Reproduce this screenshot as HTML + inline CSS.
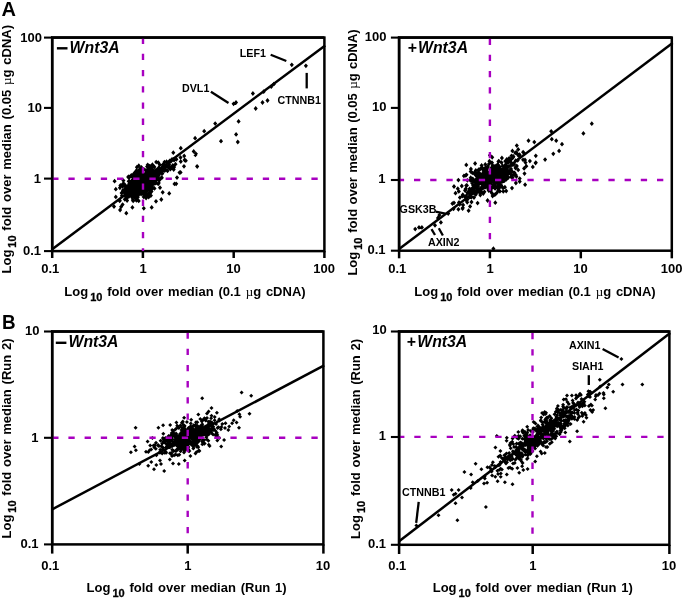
<!DOCTYPE html>
<html><head><meta charset="utf-8"><style>
html,body{margin:0;padding:0;background:#fff;}
svg{display:block;font-family:"Liberation Sans",sans-serif;font-weight:bold;fill:#000;}
.tk{font-size:13px;}
.ax{font-size:13px;word-spacing:1.2px;}
.sub{font-size:11px;stroke:#000;stroke-width:0.3px;}
.mu{font-family:"Liberation Serif",serif;font-weight:normal;font-size:13px;}
.ttl{font-size:15.8px;font-style:italic;}
.pl{font-size:20px;}
.gn{font-size:10.7px;}
</style></head><body>
<svg width="685" height="599" viewBox="0 0 685 599">
<rect width="685" height="599" fill="#fff"/>
<rect x="52.2" y="37.6" width="272.2" height="213.5" fill="none" stroke="#000" stroke-width="2.5"/>
<line x1="52.2" y1="251.1" x2="52.2" y2="258.0" stroke="#000" stroke-width="2.5"/>
<line x1="142.9" y1="251.1" x2="142.9" y2="258.0" stroke="#000" stroke-width="2.5"/>
<line x1="233.7" y1="251.1" x2="233.7" y2="258.0" stroke="#000" stroke-width="2.5"/>
<line x1="324.4" y1="251.1" x2="324.4" y2="258.0" stroke="#000" stroke-width="2.5"/>
<line x1="44.0" y1="37.6" x2="52.2" y2="37.6" stroke="#000" stroke-width="2.1"/>
<line x1="44.0" y1="107.9" x2="52.2" y2="107.9" stroke="#000" stroke-width="2.1"/>
<line x1="44.0" y1="178.6" x2="52.2" y2="178.6" stroke="#000" stroke-width="2.1"/>
<line x1="44.0" y1="251.1" x2="52.2" y2="251.1" stroke="#000" stroke-width="2.1"/>
<line x1="52.2" y1="249.2" x2="325.2" y2="45.4" stroke="#000" stroke-width="2.5"/>
<rect x="399.1" y="37.6" width="272.7" height="213.1" fill="none" stroke="#000" stroke-width="2.5"/>
<line x1="399.1" y1="250.7" x2="399.1" y2="258.3" stroke="#000" stroke-width="2.5"/>
<line x1="489.9" y1="250.7" x2="489.9" y2="258.3" stroke="#000" stroke-width="2.5"/>
<line x1="580.8" y1="250.7" x2="580.8" y2="258.3" stroke="#000" stroke-width="2.5"/>
<line x1="671.8" y1="250.7" x2="671.8" y2="258.3" stroke="#000" stroke-width="2.5"/>
<line x1="390.90000000000003" y1="37.6" x2="399.1" y2="37.6" stroke="#000" stroke-width="2.1"/>
<line x1="390.90000000000003" y1="107.9" x2="399.1" y2="107.9" stroke="#000" stroke-width="2.1"/>
<line x1="390.90000000000003" y1="180.0" x2="399.1" y2="180.0" stroke="#000" stroke-width="2.1"/>
<line x1="390.90000000000003" y1="250.7" x2="399.1" y2="250.7" stroke="#000" stroke-width="2.1"/>
<line x1="399.1" y1="249.0" x2="672.5999999999999" y2="43.0" stroke="#000" stroke-width="2.5"/>
<rect x="52.2" y="331.5" width="271.2" height="212.9" fill="none" stroke="#000" stroke-width="2.5"/>
<line x1="52.2" y1="544.4" x2="52.2" y2="553.6" stroke="#000" stroke-width="2.5"/>
<line x1="187.7" y1="544.4" x2="187.7" y2="553.6" stroke="#000" stroke-width="2.5"/>
<line x1="323.4" y1="544.4" x2="323.4" y2="553.6" stroke="#000" stroke-width="2.5"/>
<line x1="44.0" y1="331.5" x2="52.2" y2="331.5" stroke="#000" stroke-width="2.1"/>
<line x1="44.0" y1="437.8" x2="52.2" y2="437.8" stroke="#000" stroke-width="2.1"/>
<line x1="44.0" y1="544.4" x2="52.2" y2="544.4" stroke="#000" stroke-width="2.1"/>
<line x1="52.2" y1="509.3" x2="324.2" y2="365.3" stroke="#000" stroke-width="2.5"/>
<rect x="399.1" y="331.5" width="270.3" height="213.3" fill="none" stroke="#000" stroke-width="2.5"/>
<line x1="399.1" y1="544.8" x2="399.1" y2="554.0" stroke="#000" stroke-width="2.5"/>
<line x1="532.7" y1="544.8" x2="532.7" y2="554.0" stroke="#000" stroke-width="2.5"/>
<line x1="669.4" y1="544.8" x2="669.4" y2="554.0" stroke="#000" stroke-width="2.5"/>
<line x1="390.90000000000003" y1="331.5" x2="399.1" y2="331.5" stroke="#000" stroke-width="2.1"/>
<line x1="390.90000000000003" y1="437.0" x2="399.1" y2="437.0" stroke="#000" stroke-width="2.1"/>
<line x1="390.90000000000003" y1="544.8" x2="399.1" y2="544.8" stroke="#000" stroke-width="2.1"/>
<line x1="399.1" y1="541.3" x2="670.1999999999999" y2="332.9" stroke="#000" stroke-width="2.5"/>
<path d="M160.0,176.2l2.05,2.40l-2.05,2.40l-2.05,-2.40zM129.6,174.7l2.05,2.40l-2.05,2.40l-2.05,-2.40zM143.3,182.4l2.05,2.40l-2.05,2.40l-2.05,-2.40zM142.7,176.2l2.05,2.40l-2.05,2.40l-2.05,-2.40zM131.5,181.7l2.05,2.40l-2.05,2.40l-2.05,-2.40zM143.1,182.7l2.05,2.40l-2.05,2.40l-2.05,-2.40zM135.5,174.3l2.05,2.40l-2.05,2.40l-2.05,-2.40zM129.2,193.5l2.05,2.40l-2.05,2.40l-2.05,-2.40zM154.1,179.7l2.05,2.40l-2.05,2.40l-2.05,-2.40zM146.2,177.2l2.05,2.40l-2.05,2.40l-2.05,-2.40zM132.7,180.5l2.05,2.40l-2.05,2.40l-2.05,-2.40zM132.2,173.2l2.05,2.40l-2.05,2.40l-2.05,-2.40zM139.4,171.0l2.05,2.40l-2.05,2.40l-2.05,-2.40zM131.3,173.5l2.05,2.40l-2.05,2.40l-2.05,-2.40zM145.9,189.5l2.05,2.40l-2.05,2.40l-2.05,-2.40zM129.1,189.0l2.05,2.40l-2.05,2.40l-2.05,-2.40zM140.7,171.8l2.05,2.40l-2.05,2.40l-2.05,-2.40zM136.4,173.5l2.05,2.40l-2.05,2.40l-2.05,-2.40zM138.5,173.6l2.05,2.40l-2.05,2.40l-2.05,-2.40zM128.2,189.0l2.05,2.40l-2.05,2.40l-2.05,-2.40zM147.9,163.3l2.05,2.40l-2.05,2.40l-2.05,-2.40zM149.2,187.2l2.05,2.40l-2.05,2.40l-2.05,-2.40zM135.0,179.5l2.05,2.40l-2.05,2.40l-2.05,-2.40zM152.8,163.2l2.05,2.40l-2.05,2.40l-2.05,-2.40zM142.0,182.1l2.05,2.40l-2.05,2.40l-2.05,-2.40zM136.3,196.9l2.05,2.40l-2.05,2.40l-2.05,-2.40zM143.6,189.3l2.05,2.40l-2.05,2.40l-2.05,-2.40zM121.9,193.4l2.05,2.40l-2.05,2.40l-2.05,-2.40zM149.9,174.6l2.05,2.40l-2.05,2.40l-2.05,-2.40zM138.5,183.9l2.05,2.40l-2.05,2.40l-2.05,-2.40zM137.7,187.8l2.05,2.40l-2.05,2.40l-2.05,-2.40zM150.0,174.4l2.05,2.40l-2.05,2.40l-2.05,-2.40zM124.8,187.0l2.05,2.40l-2.05,2.40l-2.05,-2.40zM139.7,170.9l2.05,2.40l-2.05,2.40l-2.05,-2.40zM126.4,195.0l2.05,2.40l-2.05,2.40l-2.05,-2.40zM131.1,179.3l2.05,2.40l-2.05,2.40l-2.05,-2.40zM137.8,194.8l2.05,2.40l-2.05,2.40l-2.05,-2.40zM152.0,170.8l2.05,2.40l-2.05,2.40l-2.05,-2.40zM149.8,163.8l2.05,2.40l-2.05,2.40l-2.05,-2.40zM137.2,181.1l2.05,2.40l-2.05,2.40l-2.05,-2.40zM145.1,172.4l2.05,2.40l-2.05,2.40l-2.05,-2.40zM139.1,181.0l2.05,2.40l-2.05,2.40l-2.05,-2.40zM149.2,181.0l2.05,2.40l-2.05,2.40l-2.05,-2.40zM129.3,178.7l2.05,2.40l-2.05,2.40l-2.05,-2.40zM120.4,183.1l2.05,2.40l-2.05,2.40l-2.05,-2.40zM129.0,194.0l2.05,2.40l-2.05,2.40l-2.05,-2.40zM143.1,177.0l2.05,2.40l-2.05,2.40l-2.05,-2.40zM158.4,166.1l2.05,2.40l-2.05,2.40l-2.05,-2.40zM144.9,180.7l2.05,2.40l-2.05,2.40l-2.05,-2.40zM136.3,183.1l2.05,2.40l-2.05,2.40l-2.05,-2.40zM158.6,171.4l2.05,2.40l-2.05,2.40l-2.05,-2.40zM139.0,174.6l2.05,2.40l-2.05,2.40l-2.05,-2.40zM142.0,180.0l2.05,2.40l-2.05,2.40l-2.05,-2.40zM139.4,174.8l2.05,2.40l-2.05,2.40l-2.05,-2.40zM135.3,176.0l2.05,2.40l-2.05,2.40l-2.05,-2.40zM141.3,185.4l2.05,2.40l-2.05,2.40l-2.05,-2.40zM132.7,192.7l2.05,2.40l-2.05,2.40l-2.05,-2.40zM136.5,168.0l2.05,2.40l-2.05,2.40l-2.05,-2.40zM135.6,175.8l2.05,2.40l-2.05,2.40l-2.05,-2.40zM151.1,173.8l2.05,2.40l-2.05,2.40l-2.05,-2.40zM142.8,187.9l2.05,2.40l-2.05,2.40l-2.05,-2.40zM124.0,190.0l2.05,2.40l-2.05,2.40l-2.05,-2.40zM139.5,180.2l2.05,2.40l-2.05,2.40l-2.05,-2.40zM147.7,162.4l2.05,2.40l-2.05,2.40l-2.05,-2.40zM148.7,194.7l2.05,2.40l-2.05,2.40l-2.05,-2.40zM136.4,188.6l2.05,2.40l-2.05,2.40l-2.05,-2.40zM135.9,192.6l2.05,2.40l-2.05,2.40l-2.05,-2.40zM136.0,190.5l2.05,2.40l-2.05,2.40l-2.05,-2.40zM142.7,186.8l2.05,2.40l-2.05,2.40l-2.05,-2.40zM134.8,191.1l2.05,2.40l-2.05,2.40l-2.05,-2.40zM150.7,168.8l2.05,2.40l-2.05,2.40l-2.05,-2.40zM142.0,185.8l2.05,2.40l-2.05,2.40l-2.05,-2.40zM142.1,180.0l2.05,2.40l-2.05,2.40l-2.05,-2.40zM157.2,176.8l2.05,2.40l-2.05,2.40l-2.05,-2.40zM149.1,166.9l2.05,2.40l-2.05,2.40l-2.05,-2.40zM137.1,179.3l2.05,2.40l-2.05,2.40l-2.05,-2.40zM146.3,181.3l2.05,2.40l-2.05,2.40l-2.05,-2.40zM151.9,181.5l2.05,2.40l-2.05,2.40l-2.05,-2.40zM140.2,182.4l2.05,2.40l-2.05,2.40l-2.05,-2.40zM124.8,189.0l2.05,2.40l-2.05,2.40l-2.05,-2.40zM145.4,175.5l2.05,2.40l-2.05,2.40l-2.05,-2.40zM145.5,172.1l2.05,2.40l-2.05,2.40l-2.05,-2.40zM152.1,186.5l2.05,2.40l-2.05,2.40l-2.05,-2.40zM137.9,190.8l2.05,2.40l-2.05,2.40l-2.05,-2.40zM144.9,187.6l2.05,2.40l-2.05,2.40l-2.05,-2.40zM137.9,185.8l2.05,2.40l-2.05,2.40l-2.05,-2.40zM136.4,179.8l2.05,2.40l-2.05,2.40l-2.05,-2.40zM155.6,177.2l2.05,2.40l-2.05,2.40l-2.05,-2.40zM159.3,177.9l2.05,2.40l-2.05,2.40l-2.05,-2.40zM148.4,178.6l2.05,2.40l-2.05,2.40l-2.05,-2.40zM145.0,176.6l2.05,2.40l-2.05,2.40l-2.05,-2.40zM150.6,180.9l2.05,2.40l-2.05,2.40l-2.05,-2.40zM139.3,178.7l2.05,2.40l-2.05,2.40l-2.05,-2.40zM143.7,184.5l2.05,2.40l-2.05,2.40l-2.05,-2.40zM133.0,181.6l2.05,2.40l-2.05,2.40l-2.05,-2.40zM136.5,176.2l2.05,2.40l-2.05,2.40l-2.05,-2.40zM160.2,167.9l2.05,2.40l-2.05,2.40l-2.05,-2.40zM148.9,176.2l2.05,2.40l-2.05,2.40l-2.05,-2.40zM146.5,191.6l2.05,2.40l-2.05,2.40l-2.05,-2.40zM136.3,182.2l2.05,2.40l-2.05,2.40l-2.05,-2.40zM134.7,186.3l2.05,2.40l-2.05,2.40l-2.05,-2.40zM139.0,172.6l2.05,2.40l-2.05,2.40l-2.05,-2.40zM136.0,169.0l2.05,2.40l-2.05,2.40l-2.05,-2.40zM122.8,181.7l2.05,2.40l-2.05,2.40l-2.05,-2.40zM146.6,179.3l2.05,2.40l-2.05,2.40l-2.05,-2.40zM131.8,178.7l2.05,2.40l-2.05,2.40l-2.05,-2.40zM156.4,176.1l2.05,2.40l-2.05,2.40l-2.05,-2.40zM148.2,186.0l2.05,2.40l-2.05,2.40l-2.05,-2.40zM152.6,167.6l2.05,2.40l-2.05,2.40l-2.05,-2.40zM144.6,191.2l2.05,2.40l-2.05,2.40l-2.05,-2.40zM139.8,183.4l2.05,2.40l-2.05,2.40l-2.05,-2.40zM148.0,183.7l2.05,2.40l-2.05,2.40l-2.05,-2.40zM147.9,172.3l2.05,2.40l-2.05,2.40l-2.05,-2.40zM149.2,181.1l2.05,2.40l-2.05,2.40l-2.05,-2.40zM127.9,184.2l2.05,2.40l-2.05,2.40l-2.05,-2.40zM145.0,182.1l2.05,2.40l-2.05,2.40l-2.05,-2.40zM139.2,178.1l2.05,2.40l-2.05,2.40l-2.05,-2.40zM137.3,182.7l2.05,2.40l-2.05,2.40l-2.05,-2.40zM138.8,187.7l2.05,2.40l-2.05,2.40l-2.05,-2.40zM154.7,169.5l2.05,2.40l-2.05,2.40l-2.05,-2.40zM137.8,182.7l2.05,2.40l-2.05,2.40l-2.05,-2.40zM137.8,189.5l2.05,2.40l-2.05,2.40l-2.05,-2.40zM149.1,179.9l2.05,2.40l-2.05,2.40l-2.05,-2.40zM136.1,173.0l2.05,2.40l-2.05,2.40l-2.05,-2.40zM142.8,183.5l2.05,2.40l-2.05,2.40l-2.05,-2.40zM149.6,178.3l2.05,2.40l-2.05,2.40l-2.05,-2.40zM141.5,173.6l2.05,2.40l-2.05,2.40l-2.05,-2.40zM145.3,179.8l2.05,2.40l-2.05,2.40l-2.05,-2.40zM142.6,167.7l2.05,2.40l-2.05,2.40l-2.05,-2.40zM149.2,185.2l2.05,2.40l-2.05,2.40l-2.05,-2.40zM135.4,183.4l2.05,2.40l-2.05,2.40l-2.05,-2.40zM138.0,182.5l2.05,2.40l-2.05,2.40l-2.05,-2.40zM142.2,189.5l2.05,2.40l-2.05,2.40l-2.05,-2.40zM142.0,178.3l2.05,2.40l-2.05,2.40l-2.05,-2.40zM135.5,190.4l2.05,2.40l-2.05,2.40l-2.05,-2.40zM123.0,187.8l2.05,2.40l-2.05,2.40l-2.05,-2.40zM139.3,177.1l2.05,2.40l-2.05,2.40l-2.05,-2.40zM125.2,182.8l2.05,2.40l-2.05,2.40l-2.05,-2.40zM125.6,192.5l2.05,2.40l-2.05,2.40l-2.05,-2.40zM148.1,182.7l2.05,2.40l-2.05,2.40l-2.05,-2.40zM136.7,186.2l2.05,2.40l-2.05,2.40l-2.05,-2.40zM148.4,181.2l2.05,2.40l-2.05,2.40l-2.05,-2.40zM132.7,179.1l2.05,2.40l-2.05,2.40l-2.05,-2.40zM128.9,183.8l2.05,2.40l-2.05,2.40l-2.05,-2.40zM129.8,186.5l2.05,2.40l-2.05,2.40l-2.05,-2.40zM139.6,186.5l2.05,2.40l-2.05,2.40l-2.05,-2.40zM140.5,183.9l2.05,2.40l-2.05,2.40l-2.05,-2.40zM134.8,185.8l2.05,2.40l-2.05,2.40l-2.05,-2.40zM141.5,185.2l2.05,2.40l-2.05,2.40l-2.05,-2.40zM128.9,190.0l2.05,2.40l-2.05,2.40l-2.05,-2.40zM141.0,180.2l2.05,2.40l-2.05,2.40l-2.05,-2.40zM133.2,198.5l2.05,2.40l-2.05,2.40l-2.05,-2.40zM137.1,179.0l2.05,2.40l-2.05,2.40l-2.05,-2.40zM147.0,176.6l2.05,2.40l-2.05,2.40l-2.05,-2.40zM155.9,180.6l2.05,2.40l-2.05,2.40l-2.05,-2.40zM154.2,169.4l2.05,2.40l-2.05,2.40l-2.05,-2.40zM132.4,194.1l2.05,2.40l-2.05,2.40l-2.05,-2.40zM144.1,172.5l2.05,2.40l-2.05,2.40l-2.05,-2.40zM158.2,181.5l2.05,2.40l-2.05,2.40l-2.05,-2.40zM138.8,163.3l2.05,2.40l-2.05,2.40l-2.05,-2.40zM129.3,181.3l2.05,2.40l-2.05,2.40l-2.05,-2.40zM139.6,172.7l2.05,2.40l-2.05,2.40l-2.05,-2.40zM161.7,175.5l2.05,2.40l-2.05,2.40l-2.05,-2.40zM131.4,192.1l2.05,2.40l-2.05,2.40l-2.05,-2.40zM143.4,176.0l2.05,2.40l-2.05,2.40l-2.05,-2.40zM143.9,167.0l2.05,2.40l-2.05,2.40l-2.05,-2.40zM137.4,186.8l2.05,2.40l-2.05,2.40l-2.05,-2.40zM145.8,177.0l2.05,2.40l-2.05,2.40l-2.05,-2.40zM130.1,184.3l2.05,2.40l-2.05,2.40l-2.05,-2.40zM128.7,178.9l2.05,2.40l-2.05,2.40l-2.05,-2.40zM130.3,180.7l2.05,2.40l-2.05,2.40l-2.05,-2.40zM143.3,180.1l2.05,2.40l-2.05,2.40l-2.05,-2.40zM141.6,182.5l2.05,2.40l-2.05,2.40l-2.05,-2.40zM148.4,174.4l2.05,2.40l-2.05,2.40l-2.05,-2.40zM133.4,186.0l2.05,2.40l-2.05,2.40l-2.05,-2.40zM132.6,173.0l2.05,2.40l-2.05,2.40l-2.05,-2.40zM148.3,174.2l2.05,2.40l-2.05,2.40l-2.05,-2.40zM140.8,171.8l2.05,2.40l-2.05,2.40l-2.05,-2.40zM131.3,189.5l2.05,2.40l-2.05,2.40l-2.05,-2.40zM147.9,178.1l2.05,2.40l-2.05,2.40l-2.05,-2.40zM134.6,180.4l2.05,2.40l-2.05,2.40l-2.05,-2.40zM139.6,173.0l2.05,2.40l-2.05,2.40l-2.05,-2.40zM147.4,183.0l2.05,2.40l-2.05,2.40l-2.05,-2.40zM151.5,173.9l2.05,2.40l-2.05,2.40l-2.05,-2.40zM139.2,176.6l2.05,2.40l-2.05,2.40l-2.05,-2.40zM114.6,178.8l2.05,2.40l-2.05,2.40l-2.05,-2.40zM130.6,189.3l2.05,2.40l-2.05,2.40l-2.05,-2.40zM149.1,178.5l2.05,2.40l-2.05,2.40l-2.05,-2.40zM143.8,187.4l2.05,2.40l-2.05,2.40l-2.05,-2.40zM146.6,169.6l2.05,2.40l-2.05,2.40l-2.05,-2.40zM140.3,175.6l2.05,2.40l-2.05,2.40l-2.05,-2.40zM133.6,183.3l2.05,2.40l-2.05,2.40l-2.05,-2.40zM152.6,177.1l2.05,2.40l-2.05,2.40l-2.05,-2.40zM130.0,180.3l2.05,2.40l-2.05,2.40l-2.05,-2.40zM125.3,193.6l2.05,2.40l-2.05,2.40l-2.05,-2.40zM152.4,162.3l2.05,2.40l-2.05,2.40l-2.05,-2.40zM127.9,194.4l2.05,2.40l-2.05,2.40l-2.05,-2.40zM139.2,168.9l2.05,2.40l-2.05,2.40l-2.05,-2.40zM149.6,175.9l2.05,2.40l-2.05,2.40l-2.05,-2.40zM140.0,177.1l2.05,2.40l-2.05,2.40l-2.05,-2.40zM127.5,190.6l2.05,2.40l-2.05,2.40l-2.05,-2.40zM150.8,176.1l2.05,2.40l-2.05,2.40l-2.05,-2.40zM135.1,195.4l2.05,2.40l-2.05,2.40l-2.05,-2.40zM123.9,181.4l2.05,2.40l-2.05,2.40l-2.05,-2.40zM142.5,187.5l2.05,2.40l-2.05,2.40l-2.05,-2.40zM149.2,177.7l2.05,2.40l-2.05,2.40l-2.05,-2.40zM142.0,177.0l2.05,2.40l-2.05,2.40l-2.05,-2.40zM152.9,181.5l2.05,2.40l-2.05,2.40l-2.05,-2.40zM138.5,184.3l2.05,2.40l-2.05,2.40l-2.05,-2.40zM145.2,187.6l2.05,2.40l-2.05,2.40l-2.05,-2.40zM130.1,185.2l2.05,2.40l-2.05,2.40l-2.05,-2.40zM135.0,178.5l2.05,2.40l-2.05,2.40l-2.05,-2.40zM150.6,182.2l2.05,2.40l-2.05,2.40l-2.05,-2.40zM147.9,192.5l2.05,2.40l-2.05,2.40l-2.05,-2.40zM147.2,180.2l2.05,2.40l-2.05,2.40l-2.05,-2.40zM140.5,188.4l2.05,2.40l-2.05,2.40l-2.05,-2.40zM134.6,182.1l2.05,2.40l-2.05,2.40l-2.05,-2.40zM135.7,173.9l2.05,2.40l-2.05,2.40l-2.05,-2.40zM138.6,180.6l2.05,2.40l-2.05,2.40l-2.05,-2.40zM151.7,183.5l2.05,2.40l-2.05,2.40l-2.05,-2.40zM134.5,170.5l2.05,2.40l-2.05,2.40l-2.05,-2.40zM151.8,166.4l2.05,2.40l-2.05,2.40l-2.05,-2.40zM131.3,172.9l2.05,2.40l-2.05,2.40l-2.05,-2.40zM139.8,182.4l2.05,2.40l-2.05,2.40l-2.05,-2.40zM137.0,191.5l2.05,2.40l-2.05,2.40l-2.05,-2.40zM135.9,174.4l2.05,2.40l-2.05,2.40l-2.05,-2.40zM144.3,173.9l2.05,2.40l-2.05,2.40l-2.05,-2.40zM141.1,191.6l2.05,2.40l-2.05,2.40l-2.05,-2.40zM140.3,180.3l2.05,2.40l-2.05,2.40l-2.05,-2.40zM141.1,169.8l2.05,2.40l-2.05,2.40l-2.05,-2.40zM134.5,175.1l2.05,2.40l-2.05,2.40l-2.05,-2.40zM128.6,174.4l2.05,2.40l-2.05,2.40l-2.05,-2.40zM151.5,177.5l2.05,2.40l-2.05,2.40l-2.05,-2.40zM138.6,176.3l2.05,2.40l-2.05,2.40l-2.05,-2.40zM148.4,182.7l2.05,2.40l-2.05,2.40l-2.05,-2.40zM153.4,176.6l2.05,2.40l-2.05,2.40l-2.05,-2.40zM146.7,169.6l2.05,2.40l-2.05,2.40l-2.05,-2.40zM136.2,180.3l2.05,2.40l-2.05,2.40l-2.05,-2.40zM140.4,187.6l2.05,2.40l-2.05,2.40l-2.05,-2.40zM143.7,179.2l2.05,2.40l-2.05,2.40l-2.05,-2.40zM141.1,182.5l2.05,2.40l-2.05,2.40l-2.05,-2.40zM119.9,185.4l2.05,2.40l-2.05,2.40l-2.05,-2.40zM154.3,176.1l2.05,2.40l-2.05,2.40l-2.05,-2.40zM137.5,176.2l2.05,2.40l-2.05,2.40l-2.05,-2.40zM136.9,164.8l2.05,2.40l-2.05,2.40l-2.05,-2.40zM129.7,185.4l2.05,2.40l-2.05,2.40l-2.05,-2.40zM152.4,173.8l2.05,2.40l-2.05,2.40l-2.05,-2.40zM145.5,194.2l2.05,2.40l-2.05,2.40l-2.05,-2.40zM138.6,179.4l2.05,2.40l-2.05,2.40l-2.05,-2.40zM125.0,183.6l2.05,2.40l-2.05,2.40l-2.05,-2.40zM148.7,191.5l2.05,2.40l-2.05,2.40l-2.05,-2.40zM140.0,182.7l2.05,2.40l-2.05,2.40l-2.05,-2.40zM138.5,180.4l2.05,2.40l-2.05,2.40l-2.05,-2.40zM139.7,172.4l2.05,2.40l-2.05,2.40l-2.05,-2.40zM137.2,175.3l2.05,2.40l-2.05,2.40l-2.05,-2.40zM154.5,180.8l2.05,2.40l-2.05,2.40l-2.05,-2.40zM136.4,182.3l2.05,2.40l-2.05,2.40l-2.05,-2.40zM131.3,184.5l2.05,2.40l-2.05,2.40l-2.05,-2.40zM138.7,178.1l2.05,2.40l-2.05,2.40l-2.05,-2.40zM152.3,183.5l2.05,2.40l-2.05,2.40l-2.05,-2.40zM147.8,169.3l2.05,2.40l-2.05,2.40l-2.05,-2.40zM149.7,177.9l2.05,2.40l-2.05,2.40l-2.05,-2.40zM129.0,193.5l2.05,2.40l-2.05,2.40l-2.05,-2.40zM144.8,179.0l2.05,2.40l-2.05,2.40l-2.05,-2.40zM148.2,166.5l2.05,2.40l-2.05,2.40l-2.05,-2.40zM144.2,183.1l2.05,2.40l-2.05,2.40l-2.05,-2.40zM143.9,191.4l2.05,2.40l-2.05,2.40l-2.05,-2.40zM143.1,178.1l2.05,2.40l-2.05,2.40l-2.05,-2.40zM133.4,179.5l2.05,2.40l-2.05,2.40l-2.05,-2.40zM140.3,170.1l2.05,2.40l-2.05,2.40l-2.05,-2.40zM141.7,181.4l2.05,2.40l-2.05,2.40l-2.05,-2.40zM150.2,169.8l2.05,2.40l-2.05,2.40l-2.05,-2.40zM144.3,176.6l2.05,2.40l-2.05,2.40l-2.05,-2.40zM135.7,185.3l2.05,2.40l-2.05,2.40l-2.05,-2.40zM139.3,169.4l2.05,2.40l-2.05,2.40l-2.05,-2.40zM151.3,177.8l2.05,2.40l-2.05,2.40l-2.05,-2.40zM137.8,185.3l2.05,2.40l-2.05,2.40l-2.05,-2.40zM137.5,182.9l2.05,2.40l-2.05,2.40l-2.05,-2.40zM124.8,196.9l2.05,2.40l-2.05,2.40l-2.05,-2.40zM151.6,178.7l2.05,2.40l-2.05,2.40l-2.05,-2.40zM136.9,184.6l2.05,2.40l-2.05,2.40l-2.05,-2.40zM121.6,190.6l2.05,2.40l-2.05,2.40l-2.05,-2.40zM132.8,197.7l2.05,2.40l-2.05,2.40l-2.05,-2.40zM137.5,179.9l2.05,2.40l-2.05,2.40l-2.05,-2.40zM143.6,171.9l2.05,2.40l-2.05,2.40l-2.05,-2.40zM133.8,173.7l2.05,2.40l-2.05,2.40l-2.05,-2.40zM144.5,177.3l2.05,2.40l-2.05,2.40l-2.05,-2.40zM128.4,182.9l2.05,2.40l-2.05,2.40l-2.05,-2.40zM128.8,186.9l2.05,2.40l-2.05,2.40l-2.05,-2.40zM149.5,176.6l2.05,2.40l-2.05,2.40l-2.05,-2.40zM144.8,177.3l2.05,2.40l-2.05,2.40l-2.05,-2.40zM145.1,185.4l2.05,2.40l-2.05,2.40l-2.05,-2.40zM151.8,173.2l2.05,2.40l-2.05,2.40l-2.05,-2.40zM132.2,184.9l2.05,2.40l-2.05,2.40l-2.05,-2.40zM136.5,181.7l2.05,2.40l-2.05,2.40l-2.05,-2.40zM146.5,171.2l2.05,2.40l-2.05,2.40l-2.05,-2.40zM157.4,171.1l2.05,2.40l-2.05,2.40l-2.05,-2.40zM141.2,180.4l2.05,2.40l-2.05,2.40l-2.05,-2.40zM151.7,167.2l2.05,2.40l-2.05,2.40l-2.05,-2.40zM140.1,188.4l2.05,2.40l-2.05,2.40l-2.05,-2.40zM143.9,178.6l2.05,2.40l-2.05,2.40l-2.05,-2.40zM137.7,179.4l2.05,2.40l-2.05,2.40l-2.05,-2.40zM122.8,183.9l2.05,2.40l-2.05,2.40l-2.05,-2.40zM144.8,180.7l2.05,2.40l-2.05,2.40l-2.05,-2.40zM148.9,175.3l2.05,2.40l-2.05,2.40l-2.05,-2.40zM140.1,181.6l2.05,2.40l-2.05,2.40l-2.05,-2.40zM138.6,178.8l2.05,2.40l-2.05,2.40l-2.05,-2.40zM147.8,167.2l2.05,2.40l-2.05,2.40l-2.05,-2.40zM130.8,187.7l2.05,2.40l-2.05,2.40l-2.05,-2.40zM130.8,191.5l2.05,2.40l-2.05,2.40l-2.05,-2.40zM135.6,184.2l2.05,2.40l-2.05,2.40l-2.05,-2.40zM131.5,187.7l2.05,2.40l-2.05,2.40l-2.05,-2.40zM149.0,169.2l2.05,2.40l-2.05,2.40l-2.05,-2.40zM144.7,179.9l2.05,2.40l-2.05,2.40l-2.05,-2.40zM135.6,187.3l2.05,2.40l-2.05,2.40l-2.05,-2.40zM133.3,181.0l2.05,2.40l-2.05,2.40l-2.05,-2.40zM165.5,164.8l2.05,2.40l-2.05,2.40l-2.05,-2.40zM139.8,188.2l2.05,2.40l-2.05,2.40l-2.05,-2.40zM138.8,189.3l2.05,2.40l-2.05,2.40l-2.05,-2.40zM142.7,177.8l2.05,2.40l-2.05,2.40l-2.05,-2.40zM144.9,175.2l2.05,2.40l-2.05,2.40l-2.05,-2.40zM137.8,173.5l2.05,2.40l-2.05,2.40l-2.05,-2.40zM137.4,190.0l2.05,2.40l-2.05,2.40l-2.05,-2.40zM123.4,178.2l2.05,2.40l-2.05,2.40l-2.05,-2.40zM143.8,174.6l2.05,2.40l-2.05,2.40l-2.05,-2.40zM139.2,179.2l2.05,2.40l-2.05,2.40l-2.05,-2.40zM132.4,195.4l2.05,2.40l-2.05,2.40l-2.05,-2.40zM149.7,172.6l2.05,2.40l-2.05,2.40l-2.05,-2.40zM142.7,170.7l2.05,2.40l-2.05,2.40l-2.05,-2.40zM133.2,175.3l2.05,2.40l-2.05,2.40l-2.05,-2.40zM136.0,178.7l2.05,2.40l-2.05,2.40l-2.05,-2.40zM143.2,179.4l2.05,2.40l-2.05,2.40l-2.05,-2.40zM136.1,185.3l2.05,2.40l-2.05,2.40l-2.05,-2.40zM130.1,188.5l2.05,2.40l-2.05,2.40l-2.05,-2.40zM140.5,175.0l2.05,2.40l-2.05,2.40l-2.05,-2.40zM129.4,189.0l2.05,2.40l-2.05,2.40l-2.05,-2.40zM148.1,182.5l2.05,2.40l-2.05,2.40l-2.05,-2.40zM125.7,184.9l2.05,2.40l-2.05,2.40l-2.05,-2.40zM140.4,181.2l2.05,2.40l-2.05,2.40l-2.05,-2.40zM146.8,188.9l2.05,2.40l-2.05,2.40l-2.05,-2.40zM156.6,171.1l2.05,2.40l-2.05,2.40l-2.05,-2.40zM131.2,185.4l2.05,2.40l-2.05,2.40l-2.05,-2.40zM133.3,193.0l2.05,2.40l-2.05,2.40l-2.05,-2.40zM133.0,181.2l2.05,2.40l-2.05,2.40l-2.05,-2.40zM132.7,188.0l2.05,2.40l-2.05,2.40l-2.05,-2.40zM143.2,191.6l2.05,2.40l-2.05,2.40l-2.05,-2.40zM152.1,186.5l2.05,2.40l-2.05,2.40l-2.05,-2.40zM139.5,167.2l2.05,2.40l-2.05,2.40l-2.05,-2.40zM156.3,172.6l2.05,2.40l-2.05,2.40l-2.05,-2.40zM143.7,194.5l2.05,2.40l-2.05,2.40l-2.05,-2.40zM158.3,160.2l2.05,2.40l-2.05,2.40l-2.05,-2.40zM156.8,168.3l2.05,2.40l-2.05,2.40l-2.05,-2.40zM145.8,188.8l2.05,2.40l-2.05,2.40l-2.05,-2.40zM121.9,193.4l2.05,2.40l-2.05,2.40l-2.05,-2.40zM142.3,183.1l2.05,2.40l-2.05,2.40l-2.05,-2.40zM141.3,179.6l2.05,2.40l-2.05,2.40l-2.05,-2.40zM115.8,186.8l2.05,2.40l-2.05,2.40l-2.05,-2.40zM143.0,181.5l2.05,2.40l-2.05,2.40l-2.05,-2.40zM138.7,180.9l2.05,2.40l-2.05,2.40l-2.05,-2.40zM139.1,190.0l2.05,2.40l-2.05,2.40l-2.05,-2.40zM154.5,186.0l2.05,2.40l-2.05,2.40l-2.05,-2.40zM151.4,176.9l2.05,2.40l-2.05,2.40l-2.05,-2.40zM135.8,181.9l2.05,2.40l-2.05,2.40l-2.05,-2.40zM144.6,181.0l2.05,2.40l-2.05,2.40l-2.05,-2.40zM137.0,185.7l2.05,2.40l-2.05,2.40l-2.05,-2.40zM139.5,190.5l2.05,2.40l-2.05,2.40l-2.05,-2.40zM135.5,173.1l2.05,2.40l-2.05,2.40l-2.05,-2.40zM140.0,171.4l2.05,2.40l-2.05,2.40l-2.05,-2.40zM128.2,174.6l2.05,2.40l-2.05,2.40l-2.05,-2.40zM127.1,198.1l2.05,2.40l-2.05,2.40l-2.05,-2.40zM145.3,176.4l2.05,2.40l-2.05,2.40l-2.05,-2.40zM126.4,188.1l2.05,2.40l-2.05,2.40l-2.05,-2.40zM138.8,176.2l2.05,2.40l-2.05,2.40l-2.05,-2.40zM151.8,165.8l2.05,2.40l-2.05,2.40l-2.05,-2.40zM137.0,176.2l2.05,2.40l-2.05,2.40l-2.05,-2.40zM130.8,186.9l2.05,2.40l-2.05,2.40l-2.05,-2.40zM128.1,187.9l2.05,2.40l-2.05,2.40l-2.05,-2.40zM155.6,179.1l2.05,2.40l-2.05,2.40l-2.05,-2.40zM142.2,182.0l2.05,2.40l-2.05,2.40l-2.05,-2.40zM141.6,173.0l2.05,2.40l-2.05,2.40l-2.05,-2.40zM145.4,171.5l2.05,2.40l-2.05,2.40l-2.05,-2.40zM145.7,186.3l2.05,2.40l-2.05,2.40l-2.05,-2.40zM140.6,184.6l2.05,2.40l-2.05,2.40l-2.05,-2.40zM135.2,188.1l2.05,2.40l-2.05,2.40l-2.05,-2.40zM121.1,204.4l2.05,2.40l-2.05,2.40l-2.05,-2.40zM136.4,198.0l2.05,2.40l-2.05,2.40l-2.05,-2.40zM135.4,175.2l2.05,2.40l-2.05,2.40l-2.05,-2.40zM136.6,178.1l2.05,2.40l-2.05,2.40l-2.05,-2.40zM136.7,169.6l2.05,2.40l-2.05,2.40l-2.05,-2.40zM142.1,183.6l2.05,2.40l-2.05,2.40l-2.05,-2.40zM140.6,177.6l2.05,2.40l-2.05,2.40l-2.05,-2.40zM144.0,172.0l2.05,2.40l-2.05,2.40l-2.05,-2.40zM131.2,182.8l2.05,2.40l-2.05,2.40l-2.05,-2.40zM141.8,185.6l2.05,2.40l-2.05,2.40l-2.05,-2.40zM128.5,190.5l2.05,2.40l-2.05,2.40l-2.05,-2.40zM146.0,171.4l2.05,2.40l-2.05,2.40l-2.05,-2.40zM146.6,186.0l2.05,2.40l-2.05,2.40l-2.05,-2.40zM140.2,172.2l2.05,2.40l-2.05,2.40l-2.05,-2.40zM147.1,164.2l2.05,2.40l-2.05,2.40l-2.05,-2.40zM160.0,185.3l2.05,2.40l-2.05,2.40l-2.05,-2.40zM139.0,179.1l2.05,2.40l-2.05,2.40l-2.05,-2.40zM144.6,172.6l2.05,2.40l-2.05,2.40l-2.05,-2.40zM127.3,186.6l2.05,2.40l-2.05,2.40l-2.05,-2.40zM143.6,176.9l2.05,2.40l-2.05,2.40l-2.05,-2.40zM145.3,183.1l2.05,2.40l-2.05,2.40l-2.05,-2.40zM132.2,194.8l2.05,2.40l-2.05,2.40l-2.05,-2.40zM153.2,174.0l2.05,2.40l-2.05,2.40l-2.05,-2.40zM134.6,183.8l2.05,2.40l-2.05,2.40l-2.05,-2.40zM139.8,168.9l2.05,2.40l-2.05,2.40l-2.05,-2.40zM139.1,184.5l2.05,2.40l-2.05,2.40l-2.05,-2.40zM154.8,180.9l2.05,2.40l-2.05,2.40l-2.05,-2.40zM155.3,176.6l2.05,2.40l-2.05,2.40l-2.05,-2.40zM134.1,185.2l2.05,2.40l-2.05,2.40l-2.05,-2.40zM133.0,194.4l2.05,2.40l-2.05,2.40l-2.05,-2.40zM138.4,179.5l2.05,2.40l-2.05,2.40l-2.05,-2.40zM147.1,174.5l2.05,2.40l-2.05,2.40l-2.05,-2.40zM133.0,177.1l2.05,2.40l-2.05,2.40l-2.05,-2.40zM135.1,183.0l2.05,2.40l-2.05,2.40l-2.05,-2.40zM145.2,177.8l2.05,2.40l-2.05,2.40l-2.05,-2.40zM119.8,198.1l2.05,2.40l-2.05,2.40l-2.05,-2.40zM139.3,188.5l2.05,2.40l-2.05,2.40l-2.05,-2.40zM138.7,198.5l2.05,2.40l-2.05,2.40l-2.05,-2.40zM148.8,184.6l2.05,2.40l-2.05,2.40l-2.05,-2.40zM134.2,183.9l2.05,2.40l-2.05,2.40l-2.05,-2.40zM129.6,184.4l2.05,2.40l-2.05,2.40l-2.05,-2.40zM135.6,179.7l2.05,2.40l-2.05,2.40l-2.05,-2.40zM126.0,185.6l2.05,2.40l-2.05,2.40l-2.05,-2.40zM141.0,180.6l2.05,2.40l-2.05,2.40l-2.05,-2.40zM137.7,186.9l2.05,2.40l-2.05,2.40l-2.05,-2.40zM139.0,183.8l2.05,2.40l-2.05,2.40l-2.05,-2.40zM136.5,186.1l2.05,2.40l-2.05,2.40l-2.05,-2.40zM148.4,175.0l2.05,2.40l-2.05,2.40l-2.05,-2.40zM139.6,180.5l2.05,2.40l-2.05,2.40l-2.05,-2.40zM141.8,173.4l2.05,2.40l-2.05,2.40l-2.05,-2.40zM151.8,185.3l2.05,2.40l-2.05,2.40l-2.05,-2.40zM139.4,190.7l2.05,2.40l-2.05,2.40l-2.05,-2.40zM141.4,172.3l2.05,2.40l-2.05,2.40l-2.05,-2.40zM139.8,173.8l2.05,2.40l-2.05,2.40l-2.05,-2.40zM140.9,175.6l2.05,2.40l-2.05,2.40l-2.05,-2.40zM138.2,183.2l2.05,2.40l-2.05,2.40l-2.05,-2.40zM143.1,189.2l2.05,2.40l-2.05,2.40l-2.05,-2.40zM151.1,179.9l2.05,2.40l-2.05,2.40l-2.05,-2.40zM161.7,170.8l2.05,2.40l-2.05,2.40l-2.05,-2.40zM139.4,191.0l2.05,2.40l-2.05,2.40l-2.05,-2.40zM149.6,182.0l2.05,2.40l-2.05,2.40l-2.05,-2.40zM141.4,186.3l2.05,2.40l-2.05,2.40l-2.05,-2.40zM148.7,177.3l2.05,2.40l-2.05,2.40l-2.05,-2.40zM143.8,176.9l2.05,2.40l-2.05,2.40l-2.05,-2.40zM141.5,165.1l2.05,2.40l-2.05,2.40l-2.05,-2.40zM119.7,198.5l2.05,2.40l-2.05,2.40l-2.05,-2.40zM144.1,192.9l2.05,2.40l-2.05,2.40l-2.05,-2.40zM131.4,184.5l2.05,2.40l-2.05,2.40l-2.05,-2.40zM137.6,178.2l2.05,2.40l-2.05,2.40l-2.05,-2.40zM139.9,190.0l2.05,2.40l-2.05,2.40l-2.05,-2.40zM136.6,185.1l2.05,2.40l-2.05,2.40l-2.05,-2.40zM144.0,173.6l2.05,2.40l-2.05,2.40l-2.05,-2.40zM161.7,175.0l2.05,2.40l-2.05,2.40l-2.05,-2.40zM122.6,202.2l2.05,2.40l-2.05,2.40l-2.05,-2.40zM141.9,186.0l2.05,2.40l-2.05,2.40l-2.05,-2.40zM140.9,175.7l2.05,2.40l-2.05,2.40l-2.05,-2.40zM143.1,182.7l2.05,2.40l-2.05,2.40l-2.05,-2.40zM140.0,184.5l2.05,2.40l-2.05,2.40l-2.05,-2.40zM134.2,193.1l2.05,2.40l-2.05,2.40l-2.05,-2.40zM138.8,192.1l2.05,2.40l-2.05,2.40l-2.05,-2.40zM151.1,180.8l2.05,2.40l-2.05,2.40l-2.05,-2.40zM149.7,174.0l2.05,2.40l-2.05,2.40l-2.05,-2.40zM144.6,183.0l2.05,2.40l-2.05,2.40l-2.05,-2.40zM130.0,180.6l2.05,2.40l-2.05,2.40l-2.05,-2.40zM144.4,182.8l2.05,2.40l-2.05,2.40l-2.05,-2.40zM142.1,185.2l2.05,2.40l-2.05,2.40l-2.05,-2.40zM143.4,174.9l2.05,2.40l-2.05,2.40l-2.05,-2.40zM138.6,176.0l2.05,2.40l-2.05,2.40l-2.05,-2.40zM136.1,184.3l2.05,2.40l-2.05,2.40l-2.05,-2.40zM137.3,173.4l2.05,2.40l-2.05,2.40l-2.05,-2.40zM133.7,189.9l2.05,2.40l-2.05,2.40l-2.05,-2.40zM148.3,176.3l2.05,2.40l-2.05,2.40l-2.05,-2.40zM145.8,168.0l2.05,2.40l-2.05,2.40l-2.05,-2.40zM132.4,188.5l2.05,2.40l-2.05,2.40l-2.05,-2.40zM148.6,182.6l2.05,2.40l-2.05,2.40l-2.05,-2.40zM138.1,192.0l2.05,2.40l-2.05,2.40l-2.05,-2.40zM153.2,178.0l2.05,2.40l-2.05,2.40l-2.05,-2.40zM147.1,173.6l2.05,2.40l-2.05,2.40l-2.05,-2.40zM137.9,180.4l2.05,2.40l-2.05,2.40l-2.05,-2.40zM146.7,171.9l2.05,2.40l-2.05,2.40l-2.05,-2.40zM140.3,186.1l2.05,2.40l-2.05,2.40l-2.05,-2.40zM146.1,195.7l2.05,2.40l-2.05,2.40l-2.05,-2.40zM142.7,190.8l2.05,2.40l-2.05,2.40l-2.05,-2.40zM146.6,188.8l2.05,2.40l-2.05,2.40l-2.05,-2.40zM144.3,188.9l2.05,2.40l-2.05,2.40l-2.05,-2.40zM135.3,171.8l2.05,2.40l-2.05,2.40l-2.05,-2.40zM135.6,183.6l2.05,2.40l-2.05,2.40l-2.05,-2.40zM144.9,173.3l2.05,2.40l-2.05,2.40l-2.05,-2.40zM153.9,179.4l2.05,2.40l-2.05,2.40l-2.05,-2.40zM144.4,191.6l2.05,2.40l-2.05,2.40l-2.05,-2.40zM127.6,186.8l2.05,2.40l-2.05,2.40l-2.05,-2.40zM146.5,175.7l2.05,2.40l-2.05,2.40l-2.05,-2.40zM151.8,175.4l2.05,2.40l-2.05,2.40l-2.05,-2.40zM137.7,179.2l2.05,2.40l-2.05,2.40l-2.05,-2.40zM128.8,186.1l2.05,2.40l-2.05,2.40l-2.05,-2.40zM140.1,175.4l2.05,2.40l-2.05,2.40l-2.05,-2.40zM173.8,164.4l2.05,2.40l-2.05,2.40l-2.05,-2.40zM156.0,170.6l2.05,2.40l-2.05,2.40l-2.05,-2.40zM171.6,157.3l2.05,2.40l-2.05,2.40l-2.05,-2.40zM164.8,165.7l2.05,2.40l-2.05,2.40l-2.05,-2.40zM172.1,164.4l2.05,2.40l-2.05,2.40l-2.05,-2.40zM176.4,156.9l2.05,2.40l-2.05,2.40l-2.05,-2.40zM154.4,164.5l2.05,2.40l-2.05,2.40l-2.05,-2.40zM158.7,172.7l2.05,2.40l-2.05,2.40l-2.05,-2.40zM164.5,159.7l2.05,2.40l-2.05,2.40l-2.05,-2.40zM154.0,170.0l2.05,2.40l-2.05,2.40l-2.05,-2.40zM156.1,167.7l2.05,2.40l-2.05,2.40l-2.05,-2.40zM159.8,162.4l2.05,2.40l-2.05,2.40l-2.05,-2.40zM163.0,162.2l2.05,2.40l-2.05,2.40l-2.05,-2.40zM152.3,171.2l2.05,2.40l-2.05,2.40l-2.05,-2.40zM159.8,166.9l2.05,2.40l-2.05,2.40l-2.05,-2.40zM168.6,162.5l2.05,2.40l-2.05,2.40l-2.05,-2.40zM174.1,157.2l2.05,2.40l-2.05,2.40l-2.05,-2.40zM145.7,174.3l2.05,2.40l-2.05,2.40l-2.05,-2.40zM174.1,157.8l2.05,2.40l-2.05,2.40l-2.05,-2.40zM172.8,163.1l2.05,2.40l-2.05,2.40l-2.05,-2.40zM157.1,174.9l2.05,2.40l-2.05,2.40l-2.05,-2.40zM152.5,175.2l2.05,2.40l-2.05,2.40l-2.05,-2.40zM168.4,165.1l2.05,2.40l-2.05,2.40l-2.05,-2.40zM162.3,170.8l2.05,2.40l-2.05,2.40l-2.05,-2.40zM167.5,168.5l2.05,2.40l-2.05,2.40l-2.05,-2.40zM173.9,165.0l2.05,2.40l-2.05,2.40l-2.05,-2.40zM160.5,167.6l2.05,2.40l-2.05,2.40l-2.05,-2.40zM164.8,164.5l2.05,2.40l-2.05,2.40l-2.05,-2.40zM170.4,166.8l2.05,2.40l-2.05,2.40l-2.05,-2.40zM173.9,164.5l2.05,2.40l-2.05,2.40l-2.05,-2.40zM180.8,159.2l2.05,2.40l-2.05,2.40l-2.05,-2.40zM173.3,150.3l2.05,2.40l-2.05,2.40l-2.05,-2.40zM165.5,164.1l2.05,2.40l-2.05,2.40l-2.05,-2.40zM156.2,159.7l2.05,2.40l-2.05,2.40l-2.05,-2.40zM184.2,153.6l2.05,2.40l-2.05,2.40l-2.05,-2.40zM169.2,162.4l2.05,2.40l-2.05,2.40l-2.05,-2.40zM167.5,163.7l2.05,2.40l-2.05,2.40l-2.05,-2.40zM155.0,172.4l2.05,2.40l-2.05,2.40l-2.05,-2.40zM172.5,164.6l2.05,2.40l-2.05,2.40l-2.05,-2.40zM157.3,170.1l2.05,2.40l-2.05,2.40l-2.05,-2.40zM162.2,171.3l2.05,2.40l-2.05,2.40l-2.05,-2.40zM154.4,175.4l2.05,2.40l-2.05,2.40l-2.05,-2.40zM160.5,170.1l2.05,2.40l-2.05,2.40l-2.05,-2.40zM165.3,166.8l2.05,2.40l-2.05,2.40l-2.05,-2.40zM152.3,175.3l2.05,2.40l-2.05,2.40l-2.05,-2.40zM154.9,168.8l2.05,2.40l-2.05,2.40l-2.05,-2.40zM164.7,168.3l2.05,2.40l-2.05,2.40l-2.05,-2.40zM155.3,175.4l2.05,2.40l-2.05,2.40l-2.05,-2.40zM153.8,173.3l2.05,2.40l-2.05,2.40l-2.05,-2.40zM158.7,172.8l2.05,2.40l-2.05,2.40l-2.05,-2.40zM154.4,176.7l2.05,2.40l-2.05,2.40l-2.05,-2.40zM166.6,159.3l2.05,2.40l-2.05,2.40l-2.05,-2.40zM155.8,171.7l2.05,2.40l-2.05,2.40l-2.05,-2.40zM169.3,160.4l2.05,2.40l-2.05,2.40l-2.05,-2.40zM169.7,158.4l2.05,2.40l-2.05,2.40l-2.05,-2.40zM155.1,174.0l2.05,2.40l-2.05,2.40l-2.05,-2.40zM162.8,163.8l2.05,2.40l-2.05,2.40l-2.05,-2.40zM159.4,167.9l2.05,2.40l-2.05,2.40l-2.05,-2.40zM155.4,173.5l2.05,2.40l-2.05,2.40l-2.05,-2.40zM162.0,168.9l2.05,2.40l-2.05,2.40l-2.05,-2.40zM162.7,168.3l2.05,2.40l-2.05,2.40l-2.05,-2.40zM173.7,167.2l2.05,2.40l-2.05,2.40l-2.05,-2.40zM171.2,158.7l2.05,2.40l-2.05,2.40l-2.05,-2.40zM155.7,173.3l2.05,2.40l-2.05,2.40l-2.05,-2.40zM158.6,165.6l2.05,2.40l-2.05,2.40l-2.05,-2.40zM169.1,164.1l2.05,2.40l-2.05,2.40l-2.05,-2.40zM175.5,161.8l2.05,2.40l-2.05,2.40l-2.05,-2.40zM146.8,183.7l2.05,2.40l-2.05,2.40l-2.05,-2.40zM173.0,156.9l2.05,2.40l-2.05,2.40l-2.05,-2.40zM162.2,166.4l2.05,2.40l-2.05,2.40l-2.05,-2.40zM158.8,180.5l2.05,2.40l-2.05,2.40l-2.05,-2.40zM150.0,191.1l2.05,2.40l-2.05,2.40l-2.05,-2.40zM162.7,189.9l2.05,2.40l-2.05,2.40l-2.05,-2.40zM134.8,186.6l2.05,2.40l-2.05,2.40l-2.05,-2.40zM155.3,174.4l2.05,2.40l-2.05,2.40l-2.05,-2.40zM151.9,175.9l2.05,2.40l-2.05,2.40l-2.05,-2.40zM150.9,183.5l2.05,2.40l-2.05,2.40l-2.05,-2.40zM137.2,186.7l2.05,2.40l-2.05,2.40l-2.05,-2.40zM150.9,193.2l2.05,2.40l-2.05,2.40l-2.05,-2.40zM151.5,189.1l2.05,2.40l-2.05,2.40l-2.05,-2.40zM151.0,186.7l2.05,2.40l-2.05,2.40l-2.05,-2.40zM146.6,187.1l2.05,2.40l-2.05,2.40l-2.05,-2.40zM169.2,191.0l2.05,2.40l-2.05,2.40l-2.05,-2.40zM176.2,181.4l2.05,2.40l-2.05,2.40l-2.05,-2.40zM180.6,170.0l2.05,2.40l-2.05,2.40l-2.05,-2.40zM184.0,163.9l2.05,2.40l-2.05,2.40l-2.05,-2.40zM185.8,158.3l2.05,2.40l-2.05,2.40l-2.05,-2.40zM197.2,164.2l2.05,2.40l-2.05,2.40l-2.05,-2.40zM195.4,152.5l2.05,2.40l-2.05,2.40l-2.05,-2.40zM193.7,149.0l2.05,2.40l-2.05,2.40l-2.05,-2.40zM180.5,155.1l2.05,2.40l-2.05,2.40l-2.05,-2.40zM114.0,204.1l2.05,2.40l-2.05,2.40l-2.05,-2.40zM120.1,207.6l2.05,2.40l-2.05,2.40l-2.05,-2.40zM126.3,210.8l2.05,2.40l-2.05,2.40l-2.05,-2.40zM132.4,205.0l2.05,2.40l-2.05,2.40l-2.05,-2.40zM143.8,205.9l2.05,2.40l-2.05,2.40l-2.05,-2.40zM151.7,205.0l2.05,2.40l-2.05,2.40l-2.05,-2.40zM156.0,198.9l2.05,2.40l-2.05,2.40l-2.05,-2.40zM161.3,197.1l2.05,2.40l-2.05,2.40l-2.05,-2.40zM115.8,194.5l2.05,2.40l-2.05,2.40l-2.05,-2.40zM291.8,62.4l2.05,2.40l-2.05,2.40l-2.05,-2.40zM305.9,63.4l2.05,2.40l-2.05,2.40l-2.05,-2.40zM252.9,91.1l2.05,2.40l-2.05,2.40l-2.05,-2.40zM263.7,89.3l2.05,2.40l-2.05,2.40l-2.05,-2.40zM271.2,84.3l2.05,2.40l-2.05,2.40l-2.05,-2.40zM273.8,81.8l2.05,2.40l-2.05,2.40l-2.05,-2.40zM262.5,100.1l2.05,2.40l-2.05,2.40l-2.05,-2.40zM267.5,98.1l2.05,2.40l-2.05,2.40l-2.05,-2.40zM255.7,106.1l2.05,2.40l-2.05,2.40l-2.05,-2.40zM233.6,101.4l2.05,2.40l-2.05,2.40l-2.05,-2.40zM236.0,100.1l2.05,2.40l-2.05,2.40l-2.05,-2.40zM238.6,119.0l2.05,2.40l-2.05,2.40l-2.05,-2.40zM236.1,132.0l2.05,2.40l-2.05,2.40l-2.05,-2.40zM237.8,139.6l2.05,2.40l-2.05,2.40l-2.05,-2.40zM221.0,138.8l2.05,2.40l-2.05,2.40l-2.05,-2.40zM215.2,121.2l2.05,2.40l-2.05,2.40l-2.05,-2.40zM204.2,128.8l2.05,2.40l-2.05,2.40l-2.05,-2.40zM195.1,135.8l2.05,2.40l-2.05,2.40l-2.05,-2.40zM180.8,145.8l2.05,2.40l-2.05,2.40l-2.05,-2.40zM195.9,151.4l2.05,2.40l-2.05,2.40l-2.05,-2.40zM197.1,163.9l2.05,2.40l-2.05,2.40l-2.05,-2.40zM184.6,157.6l2.05,2.40l-2.05,2.40l-2.05,-2.40zM179.5,170.2l2.05,2.40l-2.05,2.40l-2.05,-2.40zM177.0,175.2l2.05,2.40l-2.05,2.40l-2.05,-2.40zM174.5,181.5l2.05,2.40l-2.05,2.40l-2.05,-2.40z" fill="#000"/>
<path d="M492.6,168.4l2.05,2.40l-2.05,2.40l-2.05,-2.40zM489.4,158.8l2.05,2.40l-2.05,2.40l-2.05,-2.40zM495.4,170.1l2.05,2.40l-2.05,2.40l-2.05,-2.40zM486.4,182.7l2.05,2.40l-2.05,2.40l-2.05,-2.40zM506.2,188.6l2.05,2.40l-2.05,2.40l-2.05,-2.40zM478.9,187.9l2.05,2.40l-2.05,2.40l-2.05,-2.40zM504.7,163.5l2.05,2.40l-2.05,2.40l-2.05,-2.40zM457.8,186.3l2.05,2.40l-2.05,2.40l-2.05,-2.40zM484.0,171.3l2.05,2.40l-2.05,2.40l-2.05,-2.40zM479.0,178.8l2.05,2.40l-2.05,2.40l-2.05,-2.40zM499.8,166.0l2.05,2.40l-2.05,2.40l-2.05,-2.40zM472.3,170.4l2.05,2.40l-2.05,2.40l-2.05,-2.40zM514.6,170.5l2.05,2.40l-2.05,2.40l-2.05,-2.40zM476.1,182.7l2.05,2.40l-2.05,2.40l-2.05,-2.40zM515.5,165.7l2.05,2.40l-2.05,2.40l-2.05,-2.40zM498.9,175.5l2.05,2.40l-2.05,2.40l-2.05,-2.40zM498.2,188.3l2.05,2.40l-2.05,2.40l-2.05,-2.40zM498.2,174.1l2.05,2.40l-2.05,2.40l-2.05,-2.40zM516.8,163.6l2.05,2.40l-2.05,2.40l-2.05,-2.40zM505.1,177.1l2.05,2.40l-2.05,2.40l-2.05,-2.40zM463.9,173.5l2.05,2.40l-2.05,2.40l-2.05,-2.40zM508.3,175.2l2.05,2.40l-2.05,2.40l-2.05,-2.40zM493.8,169.1l2.05,2.40l-2.05,2.40l-2.05,-2.40zM472.8,176.4l2.05,2.40l-2.05,2.40l-2.05,-2.40zM501.8,172.7l2.05,2.40l-2.05,2.40l-2.05,-2.40zM483.3,191.1l2.05,2.40l-2.05,2.40l-2.05,-2.40zM493.3,169.5l2.05,2.40l-2.05,2.40l-2.05,-2.40zM497.9,180.4l2.05,2.40l-2.05,2.40l-2.05,-2.40zM486.6,180.2l2.05,2.40l-2.05,2.40l-2.05,-2.40zM497.0,163.3l2.05,2.40l-2.05,2.40l-2.05,-2.40zM483.7,185.3l2.05,2.40l-2.05,2.40l-2.05,-2.40zM493.2,168.9l2.05,2.40l-2.05,2.40l-2.05,-2.40zM483.3,167.7l2.05,2.40l-2.05,2.40l-2.05,-2.40zM489.0,170.6l2.05,2.40l-2.05,2.40l-2.05,-2.40zM512.9,162.4l2.05,2.40l-2.05,2.40l-2.05,-2.40zM495.7,178.5l2.05,2.40l-2.05,2.40l-2.05,-2.40zM479.0,174.7l2.05,2.40l-2.05,2.40l-2.05,-2.40zM495.3,185.4l2.05,2.40l-2.05,2.40l-2.05,-2.40zM484.9,179.7l2.05,2.40l-2.05,2.40l-2.05,-2.40zM491.6,170.3l2.05,2.40l-2.05,2.40l-2.05,-2.40zM492.8,168.9l2.05,2.40l-2.05,2.40l-2.05,-2.40zM494.5,176.2l2.05,2.40l-2.05,2.40l-2.05,-2.40zM489.1,161.4l2.05,2.40l-2.05,2.40l-2.05,-2.40zM481.6,163.0l2.05,2.40l-2.05,2.40l-2.05,-2.40zM495.9,167.4l2.05,2.40l-2.05,2.40l-2.05,-2.40zM506.4,174.9l2.05,2.40l-2.05,2.40l-2.05,-2.40zM486.4,178.8l2.05,2.40l-2.05,2.40l-2.05,-2.40zM492.4,175.5l2.05,2.40l-2.05,2.40l-2.05,-2.40zM493.2,173.4l2.05,2.40l-2.05,2.40l-2.05,-2.40zM501.9,155.6l2.05,2.40l-2.05,2.40l-2.05,-2.40zM504.4,168.5l2.05,2.40l-2.05,2.40l-2.05,-2.40zM480.5,166.4l2.05,2.40l-2.05,2.40l-2.05,-2.40zM495.8,180.3l2.05,2.40l-2.05,2.40l-2.05,-2.40zM476.1,181.2l2.05,2.40l-2.05,2.40l-2.05,-2.40zM481.9,178.5l2.05,2.40l-2.05,2.40l-2.05,-2.40zM494.1,177.7l2.05,2.40l-2.05,2.40l-2.05,-2.40zM500.9,174.6l2.05,2.40l-2.05,2.40l-2.05,-2.40zM504.3,172.7l2.05,2.40l-2.05,2.40l-2.05,-2.40zM490.3,178.7l2.05,2.40l-2.05,2.40l-2.05,-2.40zM476.3,176.8l2.05,2.40l-2.05,2.40l-2.05,-2.40zM494.3,164.7l2.05,2.40l-2.05,2.40l-2.05,-2.40zM491.9,178.1l2.05,2.40l-2.05,2.40l-2.05,-2.40zM501.2,182.9l2.05,2.40l-2.05,2.40l-2.05,-2.40zM497.2,181.1l2.05,2.40l-2.05,2.40l-2.05,-2.40zM500.6,170.8l2.05,2.40l-2.05,2.40l-2.05,-2.40zM501.8,176.4l2.05,2.40l-2.05,2.40l-2.05,-2.40zM501.5,168.7l2.05,2.40l-2.05,2.40l-2.05,-2.40zM488.7,179.5l2.05,2.40l-2.05,2.40l-2.05,-2.40zM502.8,167.0l2.05,2.40l-2.05,2.40l-2.05,-2.40zM487.7,178.1l2.05,2.40l-2.05,2.40l-2.05,-2.40zM498.8,187.9l2.05,2.40l-2.05,2.40l-2.05,-2.40zM515.8,172.5l2.05,2.40l-2.05,2.40l-2.05,-2.40zM500.6,183.5l2.05,2.40l-2.05,2.40l-2.05,-2.40zM478.0,174.8l2.05,2.40l-2.05,2.40l-2.05,-2.40zM508.2,164.5l2.05,2.40l-2.05,2.40l-2.05,-2.40zM504.2,170.7l2.05,2.40l-2.05,2.40l-2.05,-2.40zM507.2,174.1l2.05,2.40l-2.05,2.40l-2.05,-2.40zM494.7,172.9l2.05,2.40l-2.05,2.40l-2.05,-2.40zM499.3,180.3l2.05,2.40l-2.05,2.40l-2.05,-2.40zM489.1,172.4l2.05,2.40l-2.05,2.40l-2.05,-2.40zM488.4,186.9l2.05,2.40l-2.05,2.40l-2.05,-2.40zM512.6,175.2l2.05,2.40l-2.05,2.40l-2.05,-2.40zM486.2,169.3l2.05,2.40l-2.05,2.40l-2.05,-2.40zM489.0,180.9l2.05,2.40l-2.05,2.40l-2.05,-2.40zM487.5,175.4l2.05,2.40l-2.05,2.40l-2.05,-2.40zM516.4,174.2l2.05,2.40l-2.05,2.40l-2.05,-2.40zM501.6,168.0l2.05,2.40l-2.05,2.40l-2.05,-2.40zM489.6,178.7l2.05,2.40l-2.05,2.40l-2.05,-2.40zM493.8,178.9l2.05,2.40l-2.05,2.40l-2.05,-2.40zM492.2,154.9l2.05,2.40l-2.05,2.40l-2.05,-2.40zM498.4,159.1l2.05,2.40l-2.05,2.40l-2.05,-2.40zM475.1,182.6l2.05,2.40l-2.05,2.40l-2.05,-2.40zM502.9,170.6l2.05,2.40l-2.05,2.40l-2.05,-2.40zM493.0,182.7l2.05,2.40l-2.05,2.40l-2.05,-2.40zM485.8,179.4l2.05,2.40l-2.05,2.40l-2.05,-2.40zM485.6,168.3l2.05,2.40l-2.05,2.40l-2.05,-2.40zM502.7,174.0l2.05,2.40l-2.05,2.40l-2.05,-2.40zM511.0,162.9l2.05,2.40l-2.05,2.40l-2.05,-2.40zM494.1,173.0l2.05,2.40l-2.05,2.40l-2.05,-2.40zM498.1,169.5l2.05,2.40l-2.05,2.40l-2.05,-2.40zM484.7,180.7l2.05,2.40l-2.05,2.40l-2.05,-2.40zM495.1,163.7l2.05,2.40l-2.05,2.40l-2.05,-2.40zM499.6,164.4l2.05,2.40l-2.05,2.40l-2.05,-2.40zM470.9,166.6l2.05,2.40l-2.05,2.40l-2.05,-2.40zM492.3,191.3l2.05,2.40l-2.05,2.40l-2.05,-2.40zM499.5,165.3l2.05,2.40l-2.05,2.40l-2.05,-2.40zM471.1,176.6l2.05,2.40l-2.05,2.40l-2.05,-2.40zM486.0,169.0l2.05,2.40l-2.05,2.40l-2.05,-2.40zM498.2,168.4l2.05,2.40l-2.05,2.40l-2.05,-2.40zM472.9,179.2l2.05,2.40l-2.05,2.40l-2.05,-2.40zM490.0,180.8l2.05,2.40l-2.05,2.40l-2.05,-2.40zM494.0,176.0l2.05,2.40l-2.05,2.40l-2.05,-2.40zM503.8,173.6l2.05,2.40l-2.05,2.40l-2.05,-2.40zM477.2,176.5l2.05,2.40l-2.05,2.40l-2.05,-2.40zM505.3,170.1l2.05,2.40l-2.05,2.40l-2.05,-2.40zM499.4,181.9l2.05,2.40l-2.05,2.40l-2.05,-2.40zM506.4,170.0l2.05,2.40l-2.05,2.40l-2.05,-2.40zM506.8,172.3l2.05,2.40l-2.05,2.40l-2.05,-2.40zM492.0,160.3l2.05,2.40l-2.05,2.40l-2.05,-2.40zM499.7,176.5l2.05,2.40l-2.05,2.40l-2.05,-2.40zM474.0,183.9l2.05,2.40l-2.05,2.40l-2.05,-2.40zM480.9,189.1l2.05,2.40l-2.05,2.40l-2.05,-2.40zM475.1,161.1l2.05,2.40l-2.05,2.40l-2.05,-2.40zM489.1,176.7l2.05,2.40l-2.05,2.40l-2.05,-2.40zM503.2,170.4l2.05,2.40l-2.05,2.40l-2.05,-2.40zM473.1,182.9l2.05,2.40l-2.05,2.40l-2.05,-2.40zM487.9,172.2l2.05,2.40l-2.05,2.40l-2.05,-2.40zM478.6,181.8l2.05,2.40l-2.05,2.40l-2.05,-2.40zM477.1,186.0l2.05,2.40l-2.05,2.40l-2.05,-2.40zM509.7,169.2l2.05,2.40l-2.05,2.40l-2.05,-2.40zM493.4,172.7l2.05,2.40l-2.05,2.40l-2.05,-2.40zM510.9,166.9l2.05,2.40l-2.05,2.40l-2.05,-2.40zM505.4,167.6l2.05,2.40l-2.05,2.40l-2.05,-2.40zM482.7,179.0l2.05,2.40l-2.05,2.40l-2.05,-2.40zM470.3,177.9l2.05,2.40l-2.05,2.40l-2.05,-2.40zM511.5,153.4l2.05,2.40l-2.05,2.40l-2.05,-2.40zM491.6,185.6l2.05,2.40l-2.05,2.40l-2.05,-2.40zM475.8,168.1l2.05,2.40l-2.05,2.40l-2.05,-2.40zM500.5,171.3l2.05,2.40l-2.05,2.40l-2.05,-2.40zM491.4,165.8l2.05,2.40l-2.05,2.40l-2.05,-2.40zM484.7,175.8l2.05,2.40l-2.05,2.40l-2.05,-2.40zM486.7,170.0l2.05,2.40l-2.05,2.40l-2.05,-2.40zM494.7,174.0l2.05,2.40l-2.05,2.40l-2.05,-2.40zM491.8,169.1l2.05,2.40l-2.05,2.40l-2.05,-2.40zM498.3,163.3l2.05,2.40l-2.05,2.40l-2.05,-2.40zM489.7,178.4l2.05,2.40l-2.05,2.40l-2.05,-2.40zM492.3,185.1l2.05,2.40l-2.05,2.40l-2.05,-2.40zM500.5,174.7l2.05,2.40l-2.05,2.40l-2.05,-2.40zM496.7,174.3l2.05,2.40l-2.05,2.40l-2.05,-2.40zM502.7,163.5l2.05,2.40l-2.05,2.40l-2.05,-2.40zM489.9,175.4l2.05,2.40l-2.05,2.40l-2.05,-2.40zM492.9,178.2l2.05,2.40l-2.05,2.40l-2.05,-2.40zM478.3,175.3l2.05,2.40l-2.05,2.40l-2.05,-2.40zM512.0,174.6l2.05,2.40l-2.05,2.40l-2.05,-2.40zM477.1,180.3l2.05,2.40l-2.05,2.40l-2.05,-2.40zM496.0,176.3l2.05,2.40l-2.05,2.40l-2.05,-2.40zM481.7,175.2l2.05,2.40l-2.05,2.40l-2.05,-2.40zM495.5,170.2l2.05,2.40l-2.05,2.40l-2.05,-2.40zM501.8,173.2l2.05,2.40l-2.05,2.40l-2.05,-2.40zM475.3,184.1l2.05,2.40l-2.05,2.40l-2.05,-2.40zM491.4,178.0l2.05,2.40l-2.05,2.40l-2.05,-2.40zM470.7,175.3l2.05,2.40l-2.05,2.40l-2.05,-2.40zM507.0,164.2l2.05,2.40l-2.05,2.40l-2.05,-2.40zM487.8,176.5l2.05,2.40l-2.05,2.40l-2.05,-2.40zM470.7,169.1l2.05,2.40l-2.05,2.40l-2.05,-2.40zM487.5,184.6l2.05,2.40l-2.05,2.40l-2.05,-2.40zM508.4,171.5l2.05,2.40l-2.05,2.40l-2.05,-2.40zM509.8,168.9l2.05,2.40l-2.05,2.40l-2.05,-2.40zM505.5,164.9l2.05,2.40l-2.05,2.40l-2.05,-2.40zM486.0,183.4l2.05,2.40l-2.05,2.40l-2.05,-2.40zM490.5,173.6l2.05,2.40l-2.05,2.40l-2.05,-2.40zM515.9,180.6l2.05,2.40l-2.05,2.40l-2.05,-2.40zM485.6,180.4l2.05,2.40l-2.05,2.40l-2.05,-2.40zM485.5,166.3l2.05,2.40l-2.05,2.40l-2.05,-2.40zM483.9,183.5l2.05,2.40l-2.05,2.40l-2.05,-2.40zM478.5,176.1l2.05,2.40l-2.05,2.40l-2.05,-2.40zM505.2,166.4l2.05,2.40l-2.05,2.40l-2.05,-2.40zM499.4,170.6l2.05,2.40l-2.05,2.40l-2.05,-2.40zM497.6,172.1l2.05,2.40l-2.05,2.40l-2.05,-2.40zM500.0,174.0l2.05,2.40l-2.05,2.40l-2.05,-2.40zM506.2,175.6l2.05,2.40l-2.05,2.40l-2.05,-2.40zM511.0,171.5l2.05,2.40l-2.05,2.40l-2.05,-2.40zM491.1,170.0l2.05,2.40l-2.05,2.40l-2.05,-2.40zM485.8,167.3l2.05,2.40l-2.05,2.40l-2.05,-2.40zM479.4,173.6l2.05,2.40l-2.05,2.40l-2.05,-2.40zM505.9,172.7l2.05,2.40l-2.05,2.40l-2.05,-2.40zM489.1,182.6l2.05,2.40l-2.05,2.40l-2.05,-2.40zM480.3,192.7l2.05,2.40l-2.05,2.40l-2.05,-2.40zM486.6,167.0l2.05,2.40l-2.05,2.40l-2.05,-2.40zM493.3,175.1l2.05,2.40l-2.05,2.40l-2.05,-2.40zM501.7,169.8l2.05,2.40l-2.05,2.40l-2.05,-2.40zM503.2,168.0l2.05,2.40l-2.05,2.40l-2.05,-2.40zM484.9,178.6l2.05,2.40l-2.05,2.40l-2.05,-2.40zM483.2,176.4l2.05,2.40l-2.05,2.40l-2.05,-2.40zM488.5,174.3l2.05,2.40l-2.05,2.40l-2.05,-2.40zM477.7,175.4l2.05,2.40l-2.05,2.40l-2.05,-2.40zM492.6,177.8l2.05,2.40l-2.05,2.40l-2.05,-2.40zM500.6,179.8l2.05,2.40l-2.05,2.40l-2.05,-2.40zM497.3,185.3l2.05,2.40l-2.05,2.40l-2.05,-2.40zM473.4,177.9l2.05,2.40l-2.05,2.40l-2.05,-2.40zM476.9,172.7l2.05,2.40l-2.05,2.40l-2.05,-2.40zM506.7,167.7l2.05,2.40l-2.05,2.40l-2.05,-2.40zM479.4,173.4l2.05,2.40l-2.05,2.40l-2.05,-2.40zM503.7,178.5l2.05,2.40l-2.05,2.40l-2.05,-2.40zM498.0,166.7l2.05,2.40l-2.05,2.40l-2.05,-2.40zM489.4,176.5l2.05,2.40l-2.05,2.40l-2.05,-2.40zM478.4,170.0l2.05,2.40l-2.05,2.40l-2.05,-2.40zM494.4,171.5l2.05,2.40l-2.05,2.40l-2.05,-2.40zM483.3,179.6l2.05,2.40l-2.05,2.40l-2.05,-2.40zM494.5,185.5l2.05,2.40l-2.05,2.40l-2.05,-2.40zM492.4,169.7l2.05,2.40l-2.05,2.40l-2.05,-2.40zM485.7,180.1l2.05,2.40l-2.05,2.40l-2.05,-2.40zM485.3,162.0l2.05,2.40l-2.05,2.40l-2.05,-2.40zM486.5,168.0l2.05,2.40l-2.05,2.40l-2.05,-2.40zM477.0,174.4l2.05,2.40l-2.05,2.40l-2.05,-2.40zM489.5,172.2l2.05,2.40l-2.05,2.40l-2.05,-2.40zM486.7,180.2l2.05,2.40l-2.05,2.40l-2.05,-2.40zM473.8,186.3l2.05,2.40l-2.05,2.40l-2.05,-2.40zM485.2,165.5l2.05,2.40l-2.05,2.40l-2.05,-2.40zM490.9,179.3l2.05,2.40l-2.05,2.40l-2.05,-2.40zM483.4,169.8l2.05,2.40l-2.05,2.40l-2.05,-2.40zM474.0,195.2l2.05,2.40l-2.05,2.40l-2.05,-2.40zM502.4,173.6l2.05,2.40l-2.05,2.40l-2.05,-2.40zM500.9,172.9l2.05,2.40l-2.05,2.40l-2.05,-2.40zM499.8,170.9l2.05,2.40l-2.05,2.40l-2.05,-2.40zM496.4,173.1l2.05,2.40l-2.05,2.40l-2.05,-2.40zM478.7,179.9l2.05,2.40l-2.05,2.40l-2.05,-2.40zM492.6,169.6l2.05,2.40l-2.05,2.40l-2.05,-2.40zM484.2,183.4l2.05,2.40l-2.05,2.40l-2.05,-2.40zM518.2,167.5l2.05,2.40l-2.05,2.40l-2.05,-2.40zM488.8,181.7l2.05,2.40l-2.05,2.40l-2.05,-2.40zM500.2,171.5l2.05,2.40l-2.05,2.40l-2.05,-2.40zM477.0,185.5l2.05,2.40l-2.05,2.40l-2.05,-2.40zM477.7,174.5l2.05,2.40l-2.05,2.40l-2.05,-2.40zM495.3,200.3l2.05,2.40l-2.05,2.40l-2.05,-2.40zM499.1,167.1l2.05,2.40l-2.05,2.40l-2.05,-2.40zM498.0,169.5l2.05,2.40l-2.05,2.40l-2.05,-2.40zM498.4,179.8l2.05,2.40l-2.05,2.40l-2.05,-2.40zM474.9,190.4l2.05,2.40l-2.05,2.40l-2.05,-2.40zM503.7,164.8l2.05,2.40l-2.05,2.40l-2.05,-2.40zM478.4,167.5l2.05,2.40l-2.05,2.40l-2.05,-2.40zM507.7,158.9l2.05,2.40l-2.05,2.40l-2.05,-2.40zM511.5,160.5l2.05,2.40l-2.05,2.40l-2.05,-2.40zM500.3,166.1l2.05,2.40l-2.05,2.40l-2.05,-2.40zM503.6,169.5l2.05,2.40l-2.05,2.40l-2.05,-2.40zM481.1,186.6l2.05,2.40l-2.05,2.40l-2.05,-2.40zM524.5,171.2l2.05,2.40l-2.05,2.40l-2.05,-2.40zM493.8,169.8l2.05,2.40l-2.05,2.40l-2.05,-2.40zM505.4,174.1l2.05,2.40l-2.05,2.40l-2.05,-2.40zM485.3,184.0l2.05,2.40l-2.05,2.40l-2.05,-2.40zM495.5,184.2l2.05,2.40l-2.05,2.40l-2.05,-2.40zM479.1,178.5l2.05,2.40l-2.05,2.40l-2.05,-2.40zM488.4,170.8l2.05,2.40l-2.05,2.40l-2.05,-2.40zM494.8,179.5l2.05,2.40l-2.05,2.40l-2.05,-2.40zM499.4,183.6l2.05,2.40l-2.05,2.40l-2.05,-2.40zM507.3,165.5l2.05,2.40l-2.05,2.40l-2.05,-2.40zM502.9,185.5l2.05,2.40l-2.05,2.40l-2.05,-2.40zM499.7,185.0l2.05,2.40l-2.05,2.40l-2.05,-2.40zM492.6,172.8l2.05,2.40l-2.05,2.40l-2.05,-2.40zM511.8,156.1l2.05,2.40l-2.05,2.40l-2.05,-2.40zM484.9,173.1l2.05,2.40l-2.05,2.40l-2.05,-2.40zM505.4,167.5l2.05,2.40l-2.05,2.40l-2.05,-2.40zM472.0,186.2l2.05,2.40l-2.05,2.40l-2.05,-2.40zM478.9,167.3l2.05,2.40l-2.05,2.40l-2.05,-2.40zM503.3,189.0l2.05,2.40l-2.05,2.40l-2.05,-2.40zM496.6,190.7l2.05,2.40l-2.05,2.40l-2.05,-2.40zM525.0,157.6l2.05,2.40l-2.05,2.40l-2.05,-2.40zM517.5,151.8l2.05,2.40l-2.05,2.40l-2.05,-2.40zM475.3,179.8l2.05,2.40l-2.05,2.40l-2.05,-2.40zM481.8,181.8l2.05,2.40l-2.05,2.40l-2.05,-2.40zM494.5,184.1l2.05,2.40l-2.05,2.40l-2.05,-2.40zM514.2,172.2l2.05,2.40l-2.05,2.40l-2.05,-2.40zM505.2,168.7l2.05,2.40l-2.05,2.40l-2.05,-2.40zM491.8,160.4l2.05,2.40l-2.05,2.40l-2.05,-2.40zM478.1,183.8l2.05,2.40l-2.05,2.40l-2.05,-2.40zM485.3,183.7l2.05,2.40l-2.05,2.40l-2.05,-2.40zM461.8,183.6l2.05,2.40l-2.05,2.40l-2.05,-2.40zM476.2,182.7l2.05,2.40l-2.05,2.40l-2.05,-2.40zM498.2,174.2l2.05,2.40l-2.05,2.40l-2.05,-2.40zM501.2,169.8l2.05,2.40l-2.05,2.40l-2.05,-2.40zM475.4,172.4l2.05,2.40l-2.05,2.40l-2.05,-2.40zM494.9,176.4l2.05,2.40l-2.05,2.40l-2.05,-2.40zM507.8,158.6l2.05,2.40l-2.05,2.40l-2.05,-2.40zM498.1,183.2l2.05,2.40l-2.05,2.40l-2.05,-2.40zM487.3,170.0l2.05,2.40l-2.05,2.40l-2.05,-2.40zM501.0,175.3l2.05,2.40l-2.05,2.40l-2.05,-2.40zM497.1,167.6l2.05,2.40l-2.05,2.40l-2.05,-2.40zM494.7,176.8l2.05,2.40l-2.05,2.40l-2.05,-2.40zM486.3,175.4l2.05,2.40l-2.05,2.40l-2.05,-2.40zM489.4,179.8l2.05,2.40l-2.05,2.40l-2.05,-2.40zM492.0,169.0l2.05,2.40l-2.05,2.40l-2.05,-2.40zM482.8,166.1l2.05,2.40l-2.05,2.40l-2.05,-2.40zM507.2,167.3l2.05,2.40l-2.05,2.40l-2.05,-2.40zM502.1,168.6l2.05,2.40l-2.05,2.40l-2.05,-2.40zM501.5,160.2l2.05,2.40l-2.05,2.40l-2.05,-2.40zM514.1,161.7l2.05,2.40l-2.05,2.40l-2.05,-2.40zM506.7,157.1l2.05,2.40l-2.05,2.40l-2.05,-2.40zM509.1,169.5l2.05,2.40l-2.05,2.40l-2.05,-2.40zM496.2,170.6l2.05,2.40l-2.05,2.40l-2.05,-2.40zM490.7,175.5l2.05,2.40l-2.05,2.40l-2.05,-2.40zM525.1,182.3l2.05,2.40l-2.05,2.40l-2.05,-2.40zM485.7,178.4l2.05,2.40l-2.05,2.40l-2.05,-2.40zM486.8,179.6l2.05,2.40l-2.05,2.40l-2.05,-2.40zM484.6,182.3l2.05,2.40l-2.05,2.40l-2.05,-2.40zM495.0,172.8l2.05,2.40l-2.05,2.40l-2.05,-2.40zM496.2,169.0l2.05,2.40l-2.05,2.40l-2.05,-2.40zM506.6,176.1l2.05,2.40l-2.05,2.40l-2.05,-2.40zM492.8,182.3l2.05,2.40l-2.05,2.40l-2.05,-2.40zM466.3,162.5l2.05,2.40l-2.05,2.40l-2.05,-2.40zM496.1,172.2l2.05,2.40l-2.05,2.40l-2.05,-2.40zM503.0,168.4l2.05,2.40l-2.05,2.40l-2.05,-2.40zM491.9,170.7l2.05,2.40l-2.05,2.40l-2.05,-2.40zM494.3,183.3l2.05,2.40l-2.05,2.40l-2.05,-2.40zM497.9,168.8l2.05,2.40l-2.05,2.40l-2.05,-2.40zM511.1,174.4l2.05,2.40l-2.05,2.40l-2.05,-2.40zM490.8,171.3l2.05,2.40l-2.05,2.40l-2.05,-2.40zM475.9,177.7l2.05,2.40l-2.05,2.40l-2.05,-2.40zM488.2,181.7l2.05,2.40l-2.05,2.40l-2.05,-2.40zM489.2,170.4l2.05,2.40l-2.05,2.40l-2.05,-2.40zM472.2,180.9l2.05,2.40l-2.05,2.40l-2.05,-2.40zM498.9,164.2l2.05,2.40l-2.05,2.40l-2.05,-2.40zM482.1,171.9l2.05,2.40l-2.05,2.40l-2.05,-2.40zM500.3,177.2l2.05,2.40l-2.05,2.40l-2.05,-2.40zM496.4,177.6l2.05,2.40l-2.05,2.40l-2.05,-2.40zM486.6,168.3l2.05,2.40l-2.05,2.40l-2.05,-2.40zM508.4,160.1l2.05,2.40l-2.05,2.40l-2.05,-2.40zM492.6,193.6l2.05,2.40l-2.05,2.40l-2.05,-2.40zM483.7,173.1l2.05,2.40l-2.05,2.40l-2.05,-2.40zM494.0,167.6l2.05,2.40l-2.05,2.40l-2.05,-2.40zM503.5,174.5l2.05,2.40l-2.05,2.40l-2.05,-2.40zM490.9,169.5l2.05,2.40l-2.05,2.40l-2.05,-2.40zM480.9,176.2l2.05,2.40l-2.05,2.40l-2.05,-2.40zM502.8,177.6l2.05,2.40l-2.05,2.40l-2.05,-2.40zM502.0,178.7l2.05,2.40l-2.05,2.40l-2.05,-2.40zM515.7,164.8l2.05,2.40l-2.05,2.40l-2.05,-2.40zM493.5,184.3l2.05,2.40l-2.05,2.40l-2.05,-2.40zM494.9,172.7l2.05,2.40l-2.05,2.40l-2.05,-2.40zM485.9,175.3l2.05,2.40l-2.05,2.40l-2.05,-2.40zM476.0,180.6l2.05,2.40l-2.05,2.40l-2.05,-2.40zM492.9,172.2l2.05,2.40l-2.05,2.40l-2.05,-2.40zM503.7,174.5l2.05,2.40l-2.05,2.40l-2.05,-2.40zM482.1,180.6l2.05,2.40l-2.05,2.40l-2.05,-2.40zM483.3,172.2l2.05,2.40l-2.05,2.40l-2.05,-2.40zM480.0,180.6l2.05,2.40l-2.05,2.40l-2.05,-2.40zM506.6,165.5l2.05,2.40l-2.05,2.40l-2.05,-2.40zM484.3,173.4l2.05,2.40l-2.05,2.40l-2.05,-2.40zM499.0,171.3l2.05,2.40l-2.05,2.40l-2.05,-2.40zM485.5,184.8l2.05,2.40l-2.05,2.40l-2.05,-2.40zM494.3,176.1l2.05,2.40l-2.05,2.40l-2.05,-2.40zM488.8,185.5l2.05,2.40l-2.05,2.40l-2.05,-2.40zM470.1,194.5l2.05,2.40l-2.05,2.40l-2.05,-2.40zM493.6,174.0l2.05,2.40l-2.05,2.40l-2.05,-2.40zM497.3,168.4l2.05,2.40l-2.05,2.40l-2.05,-2.40zM467.4,177.9l2.05,2.40l-2.05,2.40l-2.05,-2.40zM491.5,177.1l2.05,2.40l-2.05,2.40l-2.05,-2.40zM490.0,182.0l2.05,2.40l-2.05,2.40l-2.05,-2.40zM484.4,189.4l2.05,2.40l-2.05,2.40l-2.05,-2.40zM486.8,167.0l2.05,2.40l-2.05,2.40l-2.05,-2.40zM473.1,188.6l2.05,2.40l-2.05,2.40l-2.05,-2.40zM498.2,180.6l2.05,2.40l-2.05,2.40l-2.05,-2.40zM512.0,185.7l2.05,2.40l-2.05,2.40l-2.05,-2.40zM479.0,181.0l2.05,2.40l-2.05,2.40l-2.05,-2.40zM492.0,174.7l2.05,2.40l-2.05,2.40l-2.05,-2.40zM505.3,158.8l2.05,2.40l-2.05,2.40l-2.05,-2.40zM492.3,169.0l2.05,2.40l-2.05,2.40l-2.05,-2.40zM484.3,169.5l2.05,2.40l-2.05,2.40l-2.05,-2.40zM480.1,171.7l2.05,2.40l-2.05,2.40l-2.05,-2.40zM492.7,168.0l2.05,2.40l-2.05,2.40l-2.05,-2.40zM487.7,165.1l2.05,2.40l-2.05,2.40l-2.05,-2.40zM499.7,171.4l2.05,2.40l-2.05,2.40l-2.05,-2.40zM476.6,183.4l2.05,2.40l-2.05,2.40l-2.05,-2.40zM506.8,175.2l2.05,2.40l-2.05,2.40l-2.05,-2.40zM488.0,175.7l2.05,2.40l-2.05,2.40l-2.05,-2.40zM502.6,178.9l2.05,2.40l-2.05,2.40l-2.05,-2.40zM487.2,184.6l2.05,2.40l-2.05,2.40l-2.05,-2.40zM474.6,170.0l2.05,2.40l-2.05,2.40l-2.05,-2.40zM485.8,175.2l2.05,2.40l-2.05,2.40l-2.05,-2.40zM479.1,170.3l2.05,2.40l-2.05,2.40l-2.05,-2.40zM486.3,169.7l2.05,2.40l-2.05,2.40l-2.05,-2.40zM500.6,173.2l2.05,2.40l-2.05,2.40l-2.05,-2.40zM504.7,169.4l2.05,2.40l-2.05,2.40l-2.05,-2.40zM498.6,183.4l2.05,2.40l-2.05,2.40l-2.05,-2.40zM491.6,190.3l2.05,2.40l-2.05,2.40l-2.05,-2.40zM488.8,179.3l2.05,2.40l-2.05,2.40l-2.05,-2.40zM499.1,171.0l2.05,2.40l-2.05,2.40l-2.05,-2.40zM505.3,169.1l2.05,2.40l-2.05,2.40l-2.05,-2.40zM489.2,175.9l2.05,2.40l-2.05,2.40l-2.05,-2.40zM492.8,179.0l2.05,2.40l-2.05,2.40l-2.05,-2.40zM482.6,172.9l2.05,2.40l-2.05,2.40l-2.05,-2.40zM496.6,177.7l2.05,2.40l-2.05,2.40l-2.05,-2.40zM503.1,169.2l2.05,2.40l-2.05,2.40l-2.05,-2.40zM462.6,193.6l2.05,2.40l-2.05,2.40l-2.05,-2.40zM499.0,182.6l2.05,2.40l-2.05,2.40l-2.05,-2.40zM490.8,188.4l2.05,2.40l-2.05,2.40l-2.05,-2.40zM466.2,183.2l2.05,2.40l-2.05,2.40l-2.05,-2.40zM493.2,164.5l2.05,2.40l-2.05,2.40l-2.05,-2.40zM487.8,164.0l2.05,2.40l-2.05,2.40l-2.05,-2.40zM496.3,171.3l2.05,2.40l-2.05,2.40l-2.05,-2.40zM474.1,171.0l2.05,2.40l-2.05,2.40l-2.05,-2.40zM513.0,155.1l2.05,2.40l-2.05,2.40l-2.05,-2.40zM493.3,172.0l2.05,2.40l-2.05,2.40l-2.05,-2.40zM486.6,169.7l2.05,2.40l-2.05,2.40l-2.05,-2.40zM511.7,173.0l2.05,2.40l-2.05,2.40l-2.05,-2.40zM504.9,184.8l2.05,2.40l-2.05,2.40l-2.05,-2.40zM501.7,169.8l2.05,2.40l-2.05,2.40l-2.05,-2.40zM506.7,172.0l2.05,2.40l-2.05,2.40l-2.05,-2.40zM465.7,172.9l2.05,2.40l-2.05,2.40l-2.05,-2.40zM512.1,169.1l2.05,2.40l-2.05,2.40l-2.05,-2.40zM487.3,171.6l2.05,2.40l-2.05,2.40l-2.05,-2.40zM493.5,166.4l2.05,2.40l-2.05,2.40l-2.05,-2.40zM498.8,158.7l2.05,2.40l-2.05,2.40l-2.05,-2.40zM488.7,188.2l2.05,2.40l-2.05,2.40l-2.05,-2.40zM492.6,162.9l2.05,2.40l-2.05,2.40l-2.05,-2.40zM498.6,163.7l2.05,2.40l-2.05,2.40l-2.05,-2.40zM492.4,175.0l2.05,2.40l-2.05,2.40l-2.05,-2.40zM499.2,174.7l2.05,2.40l-2.05,2.40l-2.05,-2.40zM475.5,183.3l2.05,2.40l-2.05,2.40l-2.05,-2.40zM479.7,180.4l2.05,2.40l-2.05,2.40l-2.05,-2.40zM477.8,173.7l2.05,2.40l-2.05,2.40l-2.05,-2.40zM498.9,178.3l2.05,2.40l-2.05,2.40l-2.05,-2.40zM535.6,160.7l2.05,2.40l-2.05,2.40l-2.05,-2.40zM492.4,164.2l2.05,2.40l-2.05,2.40l-2.05,-2.40zM495.1,186.0l2.05,2.40l-2.05,2.40l-2.05,-2.40zM491.4,172.8l2.05,2.40l-2.05,2.40l-2.05,-2.40zM506.3,177.0l2.05,2.40l-2.05,2.40l-2.05,-2.40zM497.5,162.3l2.05,2.40l-2.05,2.40l-2.05,-2.40zM477.1,171.7l2.05,2.40l-2.05,2.40l-2.05,-2.40zM503.0,166.9l2.05,2.40l-2.05,2.40l-2.05,-2.40zM491.0,170.4l2.05,2.40l-2.05,2.40l-2.05,-2.40zM504.6,178.1l2.05,2.40l-2.05,2.40l-2.05,-2.40zM466.5,172.4l2.05,2.40l-2.05,2.40l-2.05,-2.40zM475.8,182.3l2.05,2.40l-2.05,2.40l-2.05,-2.40zM497.2,165.7l2.05,2.40l-2.05,2.40l-2.05,-2.40zM473.8,185.6l2.05,2.40l-2.05,2.40l-2.05,-2.40zM497.8,174.6l2.05,2.40l-2.05,2.40l-2.05,-2.40zM495.4,169.8l2.05,2.40l-2.05,2.40l-2.05,-2.40zM499.9,188.9l2.05,2.40l-2.05,2.40l-2.05,-2.40zM496.8,173.1l2.05,2.40l-2.05,2.40l-2.05,-2.40zM498.5,181.0l2.05,2.40l-2.05,2.40l-2.05,-2.40zM494.8,164.3l2.05,2.40l-2.05,2.40l-2.05,-2.40zM488.0,175.7l2.05,2.40l-2.05,2.40l-2.05,-2.40zM492.9,175.5l2.05,2.40l-2.05,2.40l-2.05,-2.40zM526.3,163.8l2.05,2.40l-2.05,2.40l-2.05,-2.40zM504.9,167.9l2.05,2.40l-2.05,2.40l-2.05,-2.40zM497.8,166.9l2.05,2.40l-2.05,2.40l-2.05,-2.40zM489.9,152.9l2.05,2.40l-2.05,2.40l-2.05,-2.40zM483.4,174.1l2.05,2.40l-2.05,2.40l-2.05,-2.40zM493.3,167.9l2.05,2.40l-2.05,2.40l-2.05,-2.40zM489.5,174.2l2.05,2.40l-2.05,2.40l-2.05,-2.40zM505.7,176.7l2.05,2.40l-2.05,2.40l-2.05,-2.40zM489.2,187.8l2.05,2.40l-2.05,2.40l-2.05,-2.40zM471.3,190.6l2.05,2.40l-2.05,2.40l-2.05,-2.40zM475.7,188.9l2.05,2.40l-2.05,2.40l-2.05,-2.40zM470.1,187.8l2.05,2.40l-2.05,2.40l-2.05,-2.40zM466.9,183.0l2.05,2.40l-2.05,2.40l-2.05,-2.40zM469.8,188.0l2.05,2.40l-2.05,2.40l-2.05,-2.40zM466.3,195.6l2.05,2.40l-2.05,2.40l-2.05,-2.40zM467.2,197.4l2.05,2.40l-2.05,2.40l-2.05,-2.40zM470.2,191.9l2.05,2.40l-2.05,2.40l-2.05,-2.40zM482.1,185.4l2.05,2.40l-2.05,2.40l-2.05,-2.40zM475.8,192.1l2.05,2.40l-2.05,2.40l-2.05,-2.40zM481.4,187.1l2.05,2.40l-2.05,2.40l-2.05,-2.40zM459.3,201.6l2.05,2.40l-2.05,2.40l-2.05,-2.40zM470.0,192.5l2.05,2.40l-2.05,2.40l-2.05,-2.40zM470.1,190.8l2.05,2.40l-2.05,2.40l-2.05,-2.40zM469.2,188.1l2.05,2.40l-2.05,2.40l-2.05,-2.40zM462.6,206.3l2.05,2.40l-2.05,2.40l-2.05,-2.40zM452.4,201.2l2.05,2.40l-2.05,2.40l-2.05,-2.40zM453.6,206.4l2.05,2.40l-2.05,2.40l-2.05,-2.40zM466.0,196.9l2.05,2.40l-2.05,2.40l-2.05,-2.40zM478.0,173.3l2.05,2.40l-2.05,2.40l-2.05,-2.40zM471.5,194.7l2.05,2.40l-2.05,2.40l-2.05,-2.40zM459.0,200.0l2.05,2.40l-2.05,2.40l-2.05,-2.40zM470.9,192.4l2.05,2.40l-2.05,2.40l-2.05,-2.40zM465.1,194.6l2.05,2.40l-2.05,2.40l-2.05,-2.40zM465.1,188.2l2.05,2.40l-2.05,2.40l-2.05,-2.40zM465.6,197.1l2.05,2.40l-2.05,2.40l-2.05,-2.40zM459.7,201.9l2.05,2.40l-2.05,2.40l-2.05,-2.40zM467.2,199.9l2.05,2.40l-2.05,2.40l-2.05,-2.40zM474.1,190.9l2.05,2.40l-2.05,2.40l-2.05,-2.40zM465.6,186.9l2.05,2.40l-2.05,2.40l-2.05,-2.40zM479.2,189.7l2.05,2.40l-2.05,2.40l-2.05,-2.40zM463.1,202.6l2.05,2.40l-2.05,2.40l-2.05,-2.40zM477.2,189.7l2.05,2.40l-2.05,2.40l-2.05,-2.40zM469.8,194.8l2.05,2.40l-2.05,2.40l-2.05,-2.40zM467.5,190.4l2.05,2.40l-2.05,2.40l-2.05,-2.40zM477.9,187.8l2.05,2.40l-2.05,2.40l-2.05,-2.40zM466.3,193.4l2.05,2.40l-2.05,2.40l-2.05,-2.40zM477.6,200.7l2.05,2.40l-2.05,2.40l-2.05,-2.40zM471.8,189.1l2.05,2.40l-2.05,2.40l-2.05,-2.40zM469.6,186.4l2.05,2.40l-2.05,2.40l-2.05,-2.40zM472.8,187.7l2.05,2.40l-2.05,2.40l-2.05,-2.40zM480.7,190.1l2.05,2.40l-2.05,2.40l-2.05,-2.40zM470.3,188.7l2.05,2.40l-2.05,2.40l-2.05,-2.40zM458.8,189.0l2.05,2.40l-2.05,2.40l-2.05,-2.40zM523.9,150.6l2.05,2.40l-2.05,2.40l-2.05,-2.40zM517.7,158.0l2.05,2.40l-2.05,2.40l-2.05,-2.40zM510.3,158.4l2.05,2.40l-2.05,2.40l-2.05,-2.40zM518.4,153.1l2.05,2.40l-2.05,2.40l-2.05,-2.40zM510.9,166.4l2.05,2.40l-2.05,2.40l-2.05,-2.40zM506.0,161.7l2.05,2.40l-2.05,2.40l-2.05,-2.40zM523.1,157.4l2.05,2.40l-2.05,2.40l-2.05,-2.40zM511.1,160.1l2.05,2.40l-2.05,2.40l-2.05,-2.40zM515.2,150.4l2.05,2.40l-2.05,2.40l-2.05,-2.40zM512.6,154.3l2.05,2.40l-2.05,2.40l-2.05,-2.40zM519.5,153.1l2.05,2.40l-2.05,2.40l-2.05,-2.40zM515.7,158.2l2.05,2.40l-2.05,2.40l-2.05,-2.40zM498.6,163.0l2.05,2.40l-2.05,2.40l-2.05,-2.40zM516.3,149.9l2.05,2.40l-2.05,2.40l-2.05,-2.40zM509.1,155.9l2.05,2.40l-2.05,2.40l-2.05,-2.40zM519.5,152.2l2.05,2.40l-2.05,2.40l-2.05,-2.40zM513.4,154.1l2.05,2.40l-2.05,2.40l-2.05,-2.40zM523.1,149.8l2.05,2.40l-2.05,2.40l-2.05,-2.40zM515.9,165.3l2.05,2.40l-2.05,2.40l-2.05,-2.40zM500.7,166.8l2.05,2.40l-2.05,2.40l-2.05,-2.40zM591.8,121.3l2.05,2.40l-2.05,2.40l-2.05,-2.40zM583.4,131.0l2.05,2.40l-2.05,2.40l-2.05,-2.40zM551.2,128.9l2.05,2.40l-2.05,2.40l-2.05,-2.40zM551.8,136.8l2.05,2.40l-2.05,2.40l-2.05,-2.40zM556.2,138.3l2.05,2.40l-2.05,2.40l-2.05,-2.40zM562.0,141.8l2.05,2.40l-2.05,2.40l-2.05,-2.40zM559.1,148.5l2.05,2.40l-2.05,2.40l-2.05,-2.40zM553.3,151.4l2.05,2.40l-2.05,2.40l-2.05,-2.40zM545.1,157.2l2.05,2.40l-2.05,2.40l-2.05,-2.40zM535.8,153.4l2.05,2.40l-2.05,2.40l-2.05,-2.40zM528.5,138.3l2.05,2.40l-2.05,2.40l-2.05,-2.40zM534.3,139.7l2.05,2.40l-2.05,2.40l-2.05,-2.40zM516.8,143.2l2.05,2.40l-2.05,2.40l-2.05,-2.40zM518.2,147.0l2.05,2.40l-2.05,2.40l-2.05,-2.40zM512.4,148.5l2.05,2.40l-2.05,2.40l-2.05,-2.40zM529.9,158.7l2.05,2.40l-2.05,2.40l-2.05,-2.40zM535.8,160.2l2.05,2.40l-2.05,2.40l-2.05,-2.40zM532.8,164.5l2.05,2.40l-2.05,2.40l-2.05,-2.40zM525.5,160.2l2.05,2.40l-2.05,2.40l-2.05,-2.40zM524.1,166.0l2.05,2.40l-2.05,2.40l-2.05,-2.40zM519.7,176.2l2.05,2.40l-2.05,2.40l-2.05,-2.40zM519.7,179.1l2.05,2.40l-2.05,2.40l-2.05,-2.40zM415.2,226.7l2.05,2.40l-2.05,2.40l-2.05,-2.40zM419.0,225.0l2.05,2.40l-2.05,2.40l-2.05,-2.40zM421.9,225.0l2.05,2.40l-2.05,2.40l-2.05,-2.40zM435.0,222.9l2.05,2.40l-2.05,2.40l-2.05,-2.40zM440.9,220.0l2.05,2.40l-2.05,2.40l-2.05,-2.40zM438.0,215.6l2.05,2.40l-2.05,2.40l-2.05,-2.40zM439.4,212.7l2.05,2.40l-2.05,2.40l-2.05,-2.40zM448.2,211.2l2.05,2.40l-2.05,2.40l-2.05,-2.40zM454.0,200.4l2.05,2.40l-2.05,2.40l-2.05,-2.40zM458.4,206.9l2.05,2.40l-2.05,2.40l-2.05,-2.40zM462.8,205.4l2.05,2.40l-2.05,2.40l-2.05,-2.40zM468.6,208.3l2.05,2.40l-2.05,2.40l-2.05,-2.40zM470.1,204.0l2.05,2.40l-2.05,2.40l-2.05,-2.40zM454.0,184.1l2.05,2.40l-2.05,2.40l-2.05,-2.40zM458.4,177.7l2.05,2.40l-2.05,2.40l-2.05,-2.40zM465.7,186.4l2.05,2.40l-2.05,2.40l-2.05,-2.40zM462.8,192.3l2.05,2.40l-2.05,2.40l-2.05,-2.40zM459.9,195.2l2.05,2.40l-2.05,2.40l-2.05,-2.40zM467.2,196.7l2.05,2.40l-2.05,2.40l-2.05,-2.40zM471.5,199.6l2.05,2.40l-2.05,2.40l-2.05,-2.40zM455.5,190.8l2.05,2.40l-2.05,2.40l-2.05,-2.40zM493.4,246.3l2.05,2.40l-2.05,2.40l-2.05,-2.40zM494.9,192.3l2.05,2.40l-2.05,2.40l-2.05,-2.40zM487.6,198.1l2.05,2.40l-2.05,2.40l-2.05,-2.40z" fill="#000"/>
<path d="M177.8,444.5l2.00,2.00l-2.00,2.00l-2.00,-2.00zM188.6,435.6l2.00,2.00l-2.00,2.00l-2.00,-2.00zM216.3,434.3l2.00,2.00l-2.00,2.00l-2.00,-2.00zM195.8,424.7l2.00,2.00l-2.00,2.00l-2.00,-2.00zM188.9,440.6l2.00,2.00l-2.00,2.00l-2.00,-2.00zM165.8,438.6l2.00,2.00l-2.00,2.00l-2.00,-2.00zM164.6,450.8l2.00,2.00l-2.00,2.00l-2.00,-2.00zM183.7,438.3l2.00,2.00l-2.00,2.00l-2.00,-2.00zM187.5,437.4l2.00,2.00l-2.00,2.00l-2.00,-2.00zM162.2,441.5l2.00,2.00l-2.00,2.00l-2.00,-2.00zM163.3,431.8l2.00,2.00l-2.00,2.00l-2.00,-2.00zM185.0,428.4l2.00,2.00l-2.00,2.00l-2.00,-2.00zM156.4,453.3l2.00,2.00l-2.00,2.00l-2.00,-2.00zM161.4,444.1l2.00,2.00l-2.00,2.00l-2.00,-2.00zM189.6,440.1l2.00,2.00l-2.00,2.00l-2.00,-2.00zM193.7,423.3l2.00,2.00l-2.00,2.00l-2.00,-2.00zM195.0,437.2l2.00,2.00l-2.00,2.00l-2.00,-2.00zM206.3,435.3l2.00,2.00l-2.00,2.00l-2.00,-2.00zM207.0,411.5l2.00,2.00l-2.00,2.00l-2.00,-2.00zM203.0,431.6l2.00,2.00l-2.00,2.00l-2.00,-2.00zM189.4,449.0l2.00,2.00l-2.00,2.00l-2.00,-2.00zM219.2,417.2l2.00,2.00l-2.00,2.00l-2.00,-2.00zM216.8,431.0l2.00,2.00l-2.00,2.00l-2.00,-2.00zM203.0,429.6l2.00,2.00l-2.00,2.00l-2.00,-2.00zM178.3,445.5l2.00,2.00l-2.00,2.00l-2.00,-2.00zM193.7,430.2l2.00,2.00l-2.00,2.00l-2.00,-2.00zM154.6,443.2l2.00,2.00l-2.00,2.00l-2.00,-2.00zM182.4,434.5l2.00,2.00l-2.00,2.00l-2.00,-2.00zM149.6,448.2l2.00,2.00l-2.00,2.00l-2.00,-2.00zM180.7,434.0l2.00,2.00l-2.00,2.00l-2.00,-2.00zM202.1,423.3l2.00,2.00l-2.00,2.00l-2.00,-2.00zM191.7,442.0l2.00,2.00l-2.00,2.00l-2.00,-2.00zM211.9,421.5l2.00,2.00l-2.00,2.00l-2.00,-2.00zM185.6,427.5l2.00,2.00l-2.00,2.00l-2.00,-2.00zM187.8,428.6l2.00,2.00l-2.00,2.00l-2.00,-2.00zM185.3,440.1l2.00,2.00l-2.00,2.00l-2.00,-2.00zM191.2,417.8l2.00,2.00l-2.00,2.00l-2.00,-2.00zM189.5,438.5l2.00,2.00l-2.00,2.00l-2.00,-2.00zM208.9,432.2l2.00,2.00l-2.00,2.00l-2.00,-2.00zM216.7,433.2l2.00,2.00l-2.00,2.00l-2.00,-2.00zM193.3,430.0l2.00,2.00l-2.00,2.00l-2.00,-2.00zM169.5,436.9l2.00,2.00l-2.00,2.00l-2.00,-2.00zM197.8,432.7l2.00,2.00l-2.00,2.00l-2.00,-2.00zM209.9,427.6l2.00,2.00l-2.00,2.00l-2.00,-2.00zM202.1,439.3l2.00,2.00l-2.00,2.00l-2.00,-2.00zM193.4,433.6l2.00,2.00l-2.00,2.00l-2.00,-2.00zM202.1,426.6l2.00,2.00l-2.00,2.00l-2.00,-2.00zM205.6,418.5l2.00,2.00l-2.00,2.00l-2.00,-2.00zM148.3,449.9l2.00,2.00l-2.00,2.00l-2.00,-2.00zM212.3,426.2l2.00,2.00l-2.00,2.00l-2.00,-2.00zM203.7,437.7l2.00,2.00l-2.00,2.00l-2.00,-2.00zM196.5,432.8l2.00,2.00l-2.00,2.00l-2.00,-2.00zM183.8,447.0l2.00,2.00l-2.00,2.00l-2.00,-2.00zM195.5,441.5l2.00,2.00l-2.00,2.00l-2.00,-2.00zM196.2,426.5l2.00,2.00l-2.00,2.00l-2.00,-2.00zM163.3,437.1l2.00,2.00l-2.00,2.00l-2.00,-2.00zM198.7,426.5l2.00,2.00l-2.00,2.00l-2.00,-2.00zM189.4,433.2l2.00,2.00l-2.00,2.00l-2.00,-2.00zM209.3,420.9l2.00,2.00l-2.00,2.00l-2.00,-2.00zM201.0,435.3l2.00,2.00l-2.00,2.00l-2.00,-2.00zM187.9,440.4l2.00,2.00l-2.00,2.00l-2.00,-2.00zM192.8,442.4l2.00,2.00l-2.00,2.00l-2.00,-2.00zM199.4,432.9l2.00,2.00l-2.00,2.00l-2.00,-2.00zM190.1,431.4l2.00,2.00l-2.00,2.00l-2.00,-2.00zM198.3,434.3l2.00,2.00l-2.00,2.00l-2.00,-2.00zM175.7,433.8l2.00,2.00l-2.00,2.00l-2.00,-2.00zM170.2,443.8l2.00,2.00l-2.00,2.00l-2.00,-2.00zM178.2,433.9l2.00,2.00l-2.00,2.00l-2.00,-2.00zM170.0,451.2l2.00,2.00l-2.00,2.00l-2.00,-2.00zM170.2,423.1l2.00,2.00l-2.00,2.00l-2.00,-2.00zM196.5,438.3l2.00,2.00l-2.00,2.00l-2.00,-2.00zM166.2,450.8l2.00,2.00l-2.00,2.00l-2.00,-2.00zM170.0,442.5l2.00,2.00l-2.00,2.00l-2.00,-2.00zM201.0,432.7l2.00,2.00l-2.00,2.00l-2.00,-2.00zM181.3,439.7l2.00,2.00l-2.00,2.00l-2.00,-2.00zM192.1,443.3l2.00,2.00l-2.00,2.00l-2.00,-2.00zM174.2,453.2l2.00,2.00l-2.00,2.00l-2.00,-2.00zM173.0,441.7l2.00,2.00l-2.00,2.00l-2.00,-2.00zM188.4,447.3l2.00,2.00l-2.00,2.00l-2.00,-2.00zM212.2,421.0l2.00,2.00l-2.00,2.00l-2.00,-2.00zM196.8,435.0l2.00,2.00l-2.00,2.00l-2.00,-2.00zM164.4,448.2l2.00,2.00l-2.00,2.00l-2.00,-2.00zM192.6,424.4l2.00,2.00l-2.00,2.00l-2.00,-2.00zM203.9,431.5l2.00,2.00l-2.00,2.00l-2.00,-2.00zM197.8,426.6l2.00,2.00l-2.00,2.00l-2.00,-2.00zM172.2,447.7l2.00,2.00l-2.00,2.00l-2.00,-2.00zM185.6,429.9l2.00,2.00l-2.00,2.00l-2.00,-2.00zM216.9,410.8l2.00,2.00l-2.00,2.00l-2.00,-2.00zM171.3,432.7l2.00,2.00l-2.00,2.00l-2.00,-2.00zM194.1,433.2l2.00,2.00l-2.00,2.00l-2.00,-2.00zM178.2,441.7l2.00,2.00l-2.00,2.00l-2.00,-2.00zM170.3,445.1l2.00,2.00l-2.00,2.00l-2.00,-2.00zM180.4,433.0l2.00,2.00l-2.00,2.00l-2.00,-2.00zM206.7,433.7l2.00,2.00l-2.00,2.00l-2.00,-2.00zM205.3,424.5l2.00,2.00l-2.00,2.00l-2.00,-2.00zM174.9,439.2l2.00,2.00l-2.00,2.00l-2.00,-2.00zM184.2,444.2l2.00,2.00l-2.00,2.00l-2.00,-2.00zM174.9,439.6l2.00,2.00l-2.00,2.00l-2.00,-2.00zM152.4,436.1l2.00,2.00l-2.00,2.00l-2.00,-2.00zM200.0,435.9l2.00,2.00l-2.00,2.00l-2.00,-2.00zM212.8,425.5l2.00,2.00l-2.00,2.00l-2.00,-2.00zM210.9,423.4l2.00,2.00l-2.00,2.00l-2.00,-2.00zM185.1,446.1l2.00,2.00l-2.00,2.00l-2.00,-2.00zM207.7,422.9l2.00,2.00l-2.00,2.00l-2.00,-2.00zM207.3,432.5l2.00,2.00l-2.00,2.00l-2.00,-2.00zM184.2,438.0l2.00,2.00l-2.00,2.00l-2.00,-2.00zM195.5,451.5l2.00,2.00l-2.00,2.00l-2.00,-2.00zM178.8,426.0l2.00,2.00l-2.00,2.00l-2.00,-2.00zM193.2,434.8l2.00,2.00l-2.00,2.00l-2.00,-2.00zM217.7,426.0l2.00,2.00l-2.00,2.00l-2.00,-2.00zM177.7,447.7l2.00,2.00l-2.00,2.00l-2.00,-2.00zM169.7,439.8l2.00,2.00l-2.00,2.00l-2.00,-2.00zM200.8,425.7l2.00,2.00l-2.00,2.00l-2.00,-2.00zM193.5,443.5l2.00,2.00l-2.00,2.00l-2.00,-2.00zM159.0,444.1l2.00,2.00l-2.00,2.00l-2.00,-2.00zM174.3,443.1l2.00,2.00l-2.00,2.00l-2.00,-2.00zM176.3,439.8l2.00,2.00l-2.00,2.00l-2.00,-2.00zM180.7,441.2l2.00,2.00l-2.00,2.00l-2.00,-2.00zM190.6,424.6l2.00,2.00l-2.00,2.00l-2.00,-2.00zM202.9,425.5l2.00,2.00l-2.00,2.00l-2.00,-2.00zM186.5,435.7l2.00,2.00l-2.00,2.00l-2.00,-2.00zM191.7,434.8l2.00,2.00l-2.00,2.00l-2.00,-2.00zM180.5,446.5l2.00,2.00l-2.00,2.00l-2.00,-2.00zM206.0,431.9l2.00,2.00l-2.00,2.00l-2.00,-2.00zM211.2,430.3l2.00,2.00l-2.00,2.00l-2.00,-2.00zM185.0,436.3l2.00,2.00l-2.00,2.00l-2.00,-2.00zM181.0,447.5l2.00,2.00l-2.00,2.00l-2.00,-2.00zM219.3,418.4l2.00,2.00l-2.00,2.00l-2.00,-2.00zM203.1,428.7l2.00,2.00l-2.00,2.00l-2.00,-2.00zM171.7,431.1l2.00,2.00l-2.00,2.00l-2.00,-2.00zM160.6,438.8l2.00,2.00l-2.00,2.00l-2.00,-2.00zM186.8,442.2l2.00,2.00l-2.00,2.00l-2.00,-2.00zM207.4,427.3l2.00,2.00l-2.00,2.00l-2.00,-2.00zM176.1,426.7l2.00,2.00l-2.00,2.00l-2.00,-2.00zM185.3,436.2l2.00,2.00l-2.00,2.00l-2.00,-2.00zM181.1,436.5l2.00,2.00l-2.00,2.00l-2.00,-2.00zM196.3,423.8l2.00,2.00l-2.00,2.00l-2.00,-2.00zM211.4,428.4l2.00,2.00l-2.00,2.00l-2.00,-2.00zM169.3,441.0l2.00,2.00l-2.00,2.00l-2.00,-2.00zM184.8,436.8l2.00,2.00l-2.00,2.00l-2.00,-2.00zM188.6,442.1l2.00,2.00l-2.00,2.00l-2.00,-2.00zM178.1,434.9l2.00,2.00l-2.00,2.00l-2.00,-2.00zM173.7,449.1l2.00,2.00l-2.00,2.00l-2.00,-2.00zM201.1,428.2l2.00,2.00l-2.00,2.00l-2.00,-2.00zM191.0,432.4l2.00,2.00l-2.00,2.00l-2.00,-2.00zM203.6,438.6l2.00,2.00l-2.00,2.00l-2.00,-2.00zM213.4,428.0l2.00,2.00l-2.00,2.00l-2.00,-2.00zM182.6,434.6l2.00,2.00l-2.00,2.00l-2.00,-2.00zM197.3,430.8l2.00,2.00l-2.00,2.00l-2.00,-2.00zM183.7,438.8l2.00,2.00l-2.00,2.00l-2.00,-2.00zM184.2,426.3l2.00,2.00l-2.00,2.00l-2.00,-2.00zM196.1,437.1l2.00,2.00l-2.00,2.00l-2.00,-2.00zM186.8,435.9l2.00,2.00l-2.00,2.00l-2.00,-2.00zM162.9,436.1l2.00,2.00l-2.00,2.00l-2.00,-2.00zM210.0,419.6l2.00,2.00l-2.00,2.00l-2.00,-2.00zM193.8,439.4l2.00,2.00l-2.00,2.00l-2.00,-2.00zM168.6,434.0l2.00,2.00l-2.00,2.00l-2.00,-2.00zM161.0,462.1l2.00,2.00l-2.00,2.00l-2.00,-2.00zM186.2,428.3l2.00,2.00l-2.00,2.00l-2.00,-2.00zM199.8,432.2l2.00,2.00l-2.00,2.00l-2.00,-2.00zM198.3,412.6l2.00,2.00l-2.00,2.00l-2.00,-2.00zM206.2,427.5l2.00,2.00l-2.00,2.00l-2.00,-2.00zM182.2,433.9l2.00,2.00l-2.00,2.00l-2.00,-2.00zM200.4,433.9l2.00,2.00l-2.00,2.00l-2.00,-2.00zM166.2,445.6l2.00,2.00l-2.00,2.00l-2.00,-2.00zM190.8,431.8l2.00,2.00l-2.00,2.00l-2.00,-2.00zM208.8,442.7l2.00,2.00l-2.00,2.00l-2.00,-2.00zM181.9,443.5l2.00,2.00l-2.00,2.00l-2.00,-2.00zM185.0,431.2l2.00,2.00l-2.00,2.00l-2.00,-2.00zM191.8,436.3l2.00,2.00l-2.00,2.00l-2.00,-2.00zM184.1,415.8l2.00,2.00l-2.00,2.00l-2.00,-2.00zM210.6,421.9l2.00,2.00l-2.00,2.00l-2.00,-2.00zM175.9,449.3l2.00,2.00l-2.00,2.00l-2.00,-2.00zM208.4,423.0l2.00,2.00l-2.00,2.00l-2.00,-2.00zM170.5,443.4l2.00,2.00l-2.00,2.00l-2.00,-2.00zM176.1,431.6l2.00,2.00l-2.00,2.00l-2.00,-2.00zM179.4,444.5l2.00,2.00l-2.00,2.00l-2.00,-2.00zM188.2,436.0l2.00,2.00l-2.00,2.00l-2.00,-2.00zM181.7,437.8l2.00,2.00l-2.00,2.00l-2.00,-2.00zM199.0,437.6l2.00,2.00l-2.00,2.00l-2.00,-2.00zM193.6,444.9l2.00,2.00l-2.00,2.00l-2.00,-2.00zM225.0,426.1l2.00,2.00l-2.00,2.00l-2.00,-2.00zM190.8,421.4l2.00,2.00l-2.00,2.00l-2.00,-2.00zM186.4,438.7l2.00,2.00l-2.00,2.00l-2.00,-2.00zM195.7,434.0l2.00,2.00l-2.00,2.00l-2.00,-2.00zM195.5,423.7l2.00,2.00l-2.00,2.00l-2.00,-2.00zM182.2,425.7l2.00,2.00l-2.00,2.00l-2.00,-2.00zM171.2,439.0l2.00,2.00l-2.00,2.00l-2.00,-2.00zM176.1,437.7l2.00,2.00l-2.00,2.00l-2.00,-2.00zM191.8,433.1l2.00,2.00l-2.00,2.00l-2.00,-2.00zM200.1,424.8l2.00,2.00l-2.00,2.00l-2.00,-2.00zM197.0,432.6l2.00,2.00l-2.00,2.00l-2.00,-2.00zM188.7,437.0l2.00,2.00l-2.00,2.00l-2.00,-2.00zM197.1,429.3l2.00,2.00l-2.00,2.00l-2.00,-2.00zM182.7,440.1l2.00,2.00l-2.00,2.00l-2.00,-2.00zM191.7,429.3l2.00,2.00l-2.00,2.00l-2.00,-2.00zM207.0,415.9l2.00,2.00l-2.00,2.00l-2.00,-2.00zM206.3,427.6l2.00,2.00l-2.00,2.00l-2.00,-2.00zM212.2,431.7l2.00,2.00l-2.00,2.00l-2.00,-2.00zM190.4,453.9l2.00,2.00l-2.00,2.00l-2.00,-2.00zM186.9,419.9l2.00,2.00l-2.00,2.00l-2.00,-2.00zM172.5,437.6l2.00,2.00l-2.00,2.00l-2.00,-2.00zM201.0,423.4l2.00,2.00l-2.00,2.00l-2.00,-2.00zM183.4,438.9l2.00,2.00l-2.00,2.00l-2.00,-2.00zM166.8,437.2l2.00,2.00l-2.00,2.00l-2.00,-2.00zM181.9,438.4l2.00,2.00l-2.00,2.00l-2.00,-2.00zM195.6,439.2l2.00,2.00l-2.00,2.00l-2.00,-2.00zM153.5,443.5l2.00,2.00l-2.00,2.00l-2.00,-2.00zM167.3,442.9l2.00,2.00l-2.00,2.00l-2.00,-2.00zM208.4,438.7l2.00,2.00l-2.00,2.00l-2.00,-2.00zM192.9,439.6l2.00,2.00l-2.00,2.00l-2.00,-2.00zM184.4,424.7l2.00,2.00l-2.00,2.00l-2.00,-2.00zM169.8,457.6l2.00,2.00l-2.00,2.00l-2.00,-2.00zM211.7,420.5l2.00,2.00l-2.00,2.00l-2.00,-2.00zM205.7,430.2l2.00,2.00l-2.00,2.00l-2.00,-2.00zM198.9,427.7l2.00,2.00l-2.00,2.00l-2.00,-2.00zM171.0,438.6l2.00,2.00l-2.00,2.00l-2.00,-2.00zM196.3,426.7l2.00,2.00l-2.00,2.00l-2.00,-2.00zM208.3,431.5l2.00,2.00l-2.00,2.00l-2.00,-2.00zM182.2,431.8l2.00,2.00l-2.00,2.00l-2.00,-2.00zM182.1,428.3l2.00,2.00l-2.00,2.00l-2.00,-2.00zM180.5,434.0l2.00,2.00l-2.00,2.00l-2.00,-2.00zM198.3,431.0l2.00,2.00l-2.00,2.00l-2.00,-2.00zM180.4,423.5l2.00,2.00l-2.00,2.00l-2.00,-2.00zM186.3,441.6l2.00,2.00l-2.00,2.00l-2.00,-2.00zM165.1,439.1l2.00,2.00l-2.00,2.00l-2.00,-2.00zM165.6,449.5l2.00,2.00l-2.00,2.00l-2.00,-2.00zM207.0,437.6l2.00,2.00l-2.00,2.00l-2.00,-2.00zM214.0,426.9l2.00,2.00l-2.00,2.00l-2.00,-2.00zM203.7,432.7l2.00,2.00l-2.00,2.00l-2.00,-2.00zM209.7,423.1l2.00,2.00l-2.00,2.00l-2.00,-2.00zM179.2,433.8l2.00,2.00l-2.00,2.00l-2.00,-2.00zM183.6,423.1l2.00,2.00l-2.00,2.00l-2.00,-2.00zM194.3,431.2l2.00,2.00l-2.00,2.00l-2.00,-2.00zM185.2,432.3l2.00,2.00l-2.00,2.00l-2.00,-2.00zM208.6,409.5l2.00,2.00l-2.00,2.00l-2.00,-2.00zM169.5,444.6l2.00,2.00l-2.00,2.00l-2.00,-2.00zM184.2,447.8l2.00,2.00l-2.00,2.00l-2.00,-2.00zM184.8,439.4l2.00,2.00l-2.00,2.00l-2.00,-2.00zM181.2,446.4l2.00,2.00l-2.00,2.00l-2.00,-2.00zM201.3,427.8l2.00,2.00l-2.00,2.00l-2.00,-2.00zM156.0,440.7l2.00,2.00l-2.00,2.00l-2.00,-2.00zM206.7,428.1l2.00,2.00l-2.00,2.00l-2.00,-2.00zM202.1,427.0l2.00,2.00l-2.00,2.00l-2.00,-2.00zM191.1,425.6l2.00,2.00l-2.00,2.00l-2.00,-2.00zM213.1,432.6l2.00,2.00l-2.00,2.00l-2.00,-2.00zM225.5,421.3l2.00,2.00l-2.00,2.00l-2.00,-2.00zM190.3,429.5l2.00,2.00l-2.00,2.00l-2.00,-2.00zM200.8,431.4l2.00,2.00l-2.00,2.00l-2.00,-2.00zM194.8,431.4l2.00,2.00l-2.00,2.00l-2.00,-2.00zM198.7,435.4l2.00,2.00l-2.00,2.00l-2.00,-2.00zM185.5,447.9l2.00,2.00l-2.00,2.00l-2.00,-2.00zM176.6,435.3l2.00,2.00l-2.00,2.00l-2.00,-2.00zM195.5,423.4l2.00,2.00l-2.00,2.00l-2.00,-2.00zM184.8,446.6l2.00,2.00l-2.00,2.00l-2.00,-2.00zM209.6,444.0l2.00,2.00l-2.00,2.00l-2.00,-2.00zM199.9,425.9l2.00,2.00l-2.00,2.00l-2.00,-2.00zM180.2,431.7l2.00,2.00l-2.00,2.00l-2.00,-2.00zM191.8,424.9l2.00,2.00l-2.00,2.00l-2.00,-2.00zM190.5,434.1l2.00,2.00l-2.00,2.00l-2.00,-2.00zM187.5,436.2l2.00,2.00l-2.00,2.00l-2.00,-2.00zM206.0,426.0l2.00,2.00l-2.00,2.00l-2.00,-2.00zM192.1,439.7l2.00,2.00l-2.00,2.00l-2.00,-2.00zM190.9,428.1l2.00,2.00l-2.00,2.00l-2.00,-2.00zM158.2,442.9l2.00,2.00l-2.00,2.00l-2.00,-2.00zM195.4,423.1l2.00,2.00l-2.00,2.00l-2.00,-2.00zM171.0,452.3l2.00,2.00l-2.00,2.00l-2.00,-2.00zM186.3,443.8l2.00,2.00l-2.00,2.00l-2.00,-2.00zM217.4,433.0l2.00,2.00l-2.00,2.00l-2.00,-2.00zM214.6,418.3l2.00,2.00l-2.00,2.00l-2.00,-2.00zM186.9,445.5l2.00,2.00l-2.00,2.00l-2.00,-2.00zM171.0,444.3l2.00,2.00l-2.00,2.00l-2.00,-2.00zM197.4,436.7l2.00,2.00l-2.00,2.00l-2.00,-2.00zM184.9,440.8l2.00,2.00l-2.00,2.00l-2.00,-2.00zM193.9,430.6l2.00,2.00l-2.00,2.00l-2.00,-2.00zM168.5,441.9l2.00,2.00l-2.00,2.00l-2.00,-2.00zM202.7,418.1l2.00,2.00l-2.00,2.00l-2.00,-2.00zM211.8,421.7l2.00,2.00l-2.00,2.00l-2.00,-2.00zM166.8,442.2l2.00,2.00l-2.00,2.00l-2.00,-2.00zM174.8,432.2l2.00,2.00l-2.00,2.00l-2.00,-2.00zM179.1,439.6l2.00,2.00l-2.00,2.00l-2.00,-2.00zM204.0,438.2l2.00,2.00l-2.00,2.00l-2.00,-2.00zM158.2,443.7l2.00,2.00l-2.00,2.00l-2.00,-2.00zM190.3,427.3l2.00,2.00l-2.00,2.00l-2.00,-2.00zM183.9,430.7l2.00,2.00l-2.00,2.00l-2.00,-2.00zM177.9,440.8l2.00,2.00l-2.00,2.00l-2.00,-2.00zM204.7,441.4l2.00,2.00l-2.00,2.00l-2.00,-2.00zM160.2,447.8l2.00,2.00l-2.00,2.00l-2.00,-2.00zM168.8,443.5l2.00,2.00l-2.00,2.00l-2.00,-2.00zM174.4,431.7l2.00,2.00l-2.00,2.00l-2.00,-2.00zM201.3,432.4l2.00,2.00l-2.00,2.00l-2.00,-2.00zM185.9,440.8l2.00,2.00l-2.00,2.00l-2.00,-2.00zM175.9,437.3l2.00,2.00l-2.00,2.00l-2.00,-2.00zM196.9,431.6l2.00,2.00l-2.00,2.00l-2.00,-2.00zM180.6,433.5l2.00,2.00l-2.00,2.00l-2.00,-2.00zM181.6,443.3l2.00,2.00l-2.00,2.00l-2.00,-2.00zM188.4,445.0l2.00,2.00l-2.00,2.00l-2.00,-2.00zM195.8,435.0l2.00,2.00l-2.00,2.00l-2.00,-2.00zM232.1,421.2l2.00,2.00l-2.00,2.00l-2.00,-2.00zM173.2,441.7l2.00,2.00l-2.00,2.00l-2.00,-2.00zM192.3,428.9l2.00,2.00l-2.00,2.00l-2.00,-2.00zM185.4,430.8l2.00,2.00l-2.00,2.00l-2.00,-2.00zM184.7,433.7l2.00,2.00l-2.00,2.00l-2.00,-2.00zM213.2,426.0l2.00,2.00l-2.00,2.00l-2.00,-2.00zM201.6,429.8l2.00,2.00l-2.00,2.00l-2.00,-2.00zM202.6,436.9l2.00,2.00l-2.00,2.00l-2.00,-2.00zM184.8,442.1l2.00,2.00l-2.00,2.00l-2.00,-2.00zM180.6,449.2l2.00,2.00l-2.00,2.00l-2.00,-2.00zM196.3,437.7l2.00,2.00l-2.00,2.00l-2.00,-2.00zM184.9,434.9l2.00,2.00l-2.00,2.00l-2.00,-2.00zM181.3,438.8l2.00,2.00l-2.00,2.00l-2.00,-2.00zM196.0,420.3l2.00,2.00l-2.00,2.00l-2.00,-2.00zM175.7,452.5l2.00,2.00l-2.00,2.00l-2.00,-2.00zM177.3,435.4l2.00,2.00l-2.00,2.00l-2.00,-2.00zM200.9,427.2l2.00,2.00l-2.00,2.00l-2.00,-2.00zM193.3,446.5l2.00,2.00l-2.00,2.00l-2.00,-2.00zM197.4,423.7l2.00,2.00l-2.00,2.00l-2.00,-2.00zM175.4,436.0l2.00,2.00l-2.00,2.00l-2.00,-2.00zM200.6,429.8l2.00,2.00l-2.00,2.00l-2.00,-2.00zM177.7,435.3l2.00,2.00l-2.00,2.00l-2.00,-2.00zM210.9,426.8l2.00,2.00l-2.00,2.00l-2.00,-2.00zM202.7,431.2l2.00,2.00l-2.00,2.00l-2.00,-2.00zM198.7,435.7l2.00,2.00l-2.00,2.00l-2.00,-2.00zM213.2,424.4l2.00,2.00l-2.00,2.00l-2.00,-2.00zM197.2,436.8l2.00,2.00l-2.00,2.00l-2.00,-2.00zM179.6,436.4l2.00,2.00l-2.00,2.00l-2.00,-2.00zM215.4,428.8l2.00,2.00l-2.00,2.00l-2.00,-2.00zM198.4,439.8l2.00,2.00l-2.00,2.00l-2.00,-2.00zM204.4,416.2l2.00,2.00l-2.00,2.00l-2.00,-2.00zM191.9,432.2l2.00,2.00l-2.00,2.00l-2.00,-2.00zM208.4,428.5l2.00,2.00l-2.00,2.00l-2.00,-2.00zM172.2,428.0l2.00,2.00l-2.00,2.00l-2.00,-2.00zM163.1,423.2l2.00,2.00l-2.00,2.00l-2.00,-2.00zM169.5,445.2l2.00,2.00l-2.00,2.00l-2.00,-2.00zM200.2,425.8l2.00,2.00l-2.00,2.00l-2.00,-2.00zM162.2,451.6l2.00,2.00l-2.00,2.00l-2.00,-2.00zM163.0,445.5l2.00,2.00l-2.00,2.00l-2.00,-2.00zM168.6,443.2l2.00,2.00l-2.00,2.00l-2.00,-2.00zM192.9,430.9l2.00,2.00l-2.00,2.00l-2.00,-2.00zM197.2,432.4l2.00,2.00l-2.00,2.00l-2.00,-2.00zM175.5,433.8l2.00,2.00l-2.00,2.00l-2.00,-2.00zM201.0,426.4l2.00,2.00l-2.00,2.00l-2.00,-2.00zM197.2,437.4l2.00,2.00l-2.00,2.00l-2.00,-2.00zM208.2,425.4l2.00,2.00l-2.00,2.00l-2.00,-2.00zM206.1,431.8l2.00,2.00l-2.00,2.00l-2.00,-2.00zM179.8,438.7l2.00,2.00l-2.00,2.00l-2.00,-2.00zM192.6,431.1l2.00,2.00l-2.00,2.00l-2.00,-2.00zM185.4,429.4l2.00,2.00l-2.00,2.00l-2.00,-2.00zM199.6,436.9l2.00,2.00l-2.00,2.00l-2.00,-2.00zM191.4,428.0l2.00,2.00l-2.00,2.00l-2.00,-2.00zM191.7,436.6l2.00,2.00l-2.00,2.00l-2.00,-2.00zM197.3,420.3l2.00,2.00l-2.00,2.00l-2.00,-2.00zM192.1,435.8l2.00,2.00l-2.00,2.00l-2.00,-2.00zM202.6,432.3l2.00,2.00l-2.00,2.00l-2.00,-2.00zM189.4,430.2l2.00,2.00l-2.00,2.00l-2.00,-2.00zM183.9,425.3l2.00,2.00l-2.00,2.00l-2.00,-2.00zM204.1,427.8l2.00,2.00l-2.00,2.00l-2.00,-2.00zM205.3,429.2l2.00,2.00l-2.00,2.00l-2.00,-2.00zM208.1,423.5l2.00,2.00l-2.00,2.00l-2.00,-2.00zM198.4,426.3l2.00,2.00l-2.00,2.00l-2.00,-2.00zM189.5,441.4l2.00,2.00l-2.00,2.00l-2.00,-2.00zM193.1,432.5l2.00,2.00l-2.00,2.00l-2.00,-2.00zM191.8,430.8l2.00,2.00l-2.00,2.00l-2.00,-2.00zM165.8,450.6l2.00,2.00l-2.00,2.00l-2.00,-2.00zM173.3,441.2l2.00,2.00l-2.00,2.00l-2.00,-2.00zM212.0,420.6l2.00,2.00l-2.00,2.00l-2.00,-2.00zM191.8,440.2l2.00,2.00l-2.00,2.00l-2.00,-2.00zM146.0,449.8l2.00,2.00l-2.00,2.00l-2.00,-2.00zM191.0,440.9l2.00,2.00l-2.00,2.00l-2.00,-2.00zM191.2,429.2l2.00,2.00l-2.00,2.00l-2.00,-2.00zM172.5,444.0l2.00,2.00l-2.00,2.00l-2.00,-2.00zM228.3,428.1l2.00,2.00l-2.00,2.00l-2.00,-2.00zM208.8,430.3l2.00,2.00l-2.00,2.00l-2.00,-2.00zM204.1,432.6l2.00,2.00l-2.00,2.00l-2.00,-2.00zM188.7,438.4l2.00,2.00l-2.00,2.00l-2.00,-2.00zM200.0,436.8l2.00,2.00l-2.00,2.00l-2.00,-2.00zM203.5,429.8l2.00,2.00l-2.00,2.00l-2.00,-2.00zM198.8,434.3l2.00,2.00l-2.00,2.00l-2.00,-2.00zM179.6,437.1l2.00,2.00l-2.00,2.00l-2.00,-2.00zM198.2,445.3l2.00,2.00l-2.00,2.00l-2.00,-2.00zM190.2,428.2l2.00,2.00l-2.00,2.00l-2.00,-2.00zM196.9,437.8l2.00,2.00l-2.00,2.00l-2.00,-2.00zM172.0,434.8l2.00,2.00l-2.00,2.00l-2.00,-2.00zM195.7,436.2l2.00,2.00l-2.00,2.00l-2.00,-2.00zM193.7,442.7l2.00,2.00l-2.00,2.00l-2.00,-2.00zM191.2,426.2l2.00,2.00l-2.00,2.00l-2.00,-2.00zM197.8,444.2l2.00,2.00l-2.00,2.00l-2.00,-2.00zM165.9,437.4l2.00,2.00l-2.00,2.00l-2.00,-2.00zM201.3,424.1l2.00,2.00l-2.00,2.00l-2.00,-2.00zM202.5,431.9l2.00,2.00l-2.00,2.00l-2.00,-2.00zM167.0,435.9l2.00,2.00l-2.00,2.00l-2.00,-2.00zM191.2,441.2l2.00,2.00l-2.00,2.00l-2.00,-2.00zM178.5,442.9l2.00,2.00l-2.00,2.00l-2.00,-2.00zM176.4,420.4l2.00,2.00l-2.00,2.00l-2.00,-2.00zM201.9,419.5l2.00,2.00l-2.00,2.00l-2.00,-2.00zM196.4,426.8l2.00,2.00l-2.00,2.00l-2.00,-2.00zM221.4,425.0l2.00,2.00l-2.00,2.00l-2.00,-2.00zM188.8,427.3l2.00,2.00l-2.00,2.00l-2.00,-2.00zM171.1,437.0l2.00,2.00l-2.00,2.00l-2.00,-2.00zM193.3,437.8l2.00,2.00l-2.00,2.00l-2.00,-2.00zM150.2,443.5l2.00,2.00l-2.00,2.00l-2.00,-2.00zM217.8,425.5l2.00,2.00l-2.00,2.00l-2.00,-2.00zM190.4,424.5l2.00,2.00l-2.00,2.00l-2.00,-2.00zM199.1,438.1l2.00,2.00l-2.00,2.00l-2.00,-2.00zM195.7,442.6l2.00,2.00l-2.00,2.00l-2.00,-2.00zM173.8,432.8l2.00,2.00l-2.00,2.00l-2.00,-2.00zM181.9,420.7l2.00,2.00l-2.00,2.00l-2.00,-2.00zM173.4,429.1l2.00,2.00l-2.00,2.00l-2.00,-2.00zM184.2,443.9l2.00,2.00l-2.00,2.00l-2.00,-2.00zM193.1,429.1l2.00,2.00l-2.00,2.00l-2.00,-2.00zM173.7,448.7l2.00,2.00l-2.00,2.00l-2.00,-2.00zM211.1,416.3l2.00,2.00l-2.00,2.00l-2.00,-2.00zM170.7,435.5l2.00,2.00l-2.00,2.00l-2.00,-2.00zM201.7,428.9l2.00,2.00l-2.00,2.00l-2.00,-2.00zM182.2,445.4l2.00,2.00l-2.00,2.00l-2.00,-2.00zM169.7,441.1l2.00,2.00l-2.00,2.00l-2.00,-2.00zM192.4,426.1l2.00,2.00l-2.00,2.00l-2.00,-2.00zM192.3,435.7l2.00,2.00l-2.00,2.00l-2.00,-2.00zM185.7,436.8l2.00,2.00l-2.00,2.00l-2.00,-2.00zM189.3,438.4l2.00,2.00l-2.00,2.00l-2.00,-2.00zM178.9,437.7l2.00,2.00l-2.00,2.00l-2.00,-2.00zM193.7,428.5l2.00,2.00l-2.00,2.00l-2.00,-2.00zM181.4,438.1l2.00,2.00l-2.00,2.00l-2.00,-2.00zM182.8,419.5l2.00,2.00l-2.00,2.00l-2.00,-2.00zM206.2,429.9l2.00,2.00l-2.00,2.00l-2.00,-2.00zM171.5,450.9l2.00,2.00l-2.00,2.00l-2.00,-2.00zM181.2,442.0l2.00,2.00l-2.00,2.00l-2.00,-2.00zM175.8,433.3l2.00,2.00l-2.00,2.00l-2.00,-2.00zM172.5,430.5l2.00,2.00l-2.00,2.00l-2.00,-2.00zM171.2,451.6l2.00,2.00l-2.00,2.00l-2.00,-2.00zM182.9,433.7l2.00,2.00l-2.00,2.00l-2.00,-2.00zM190.1,432.9l2.00,2.00l-2.00,2.00l-2.00,-2.00zM187.1,437.3l2.00,2.00l-2.00,2.00l-2.00,-2.00zM162.5,441.3l2.00,2.00l-2.00,2.00l-2.00,-2.00zM198.7,431.3l2.00,2.00l-2.00,2.00l-2.00,-2.00zM202.7,440.2l2.00,2.00l-2.00,2.00l-2.00,-2.00zM188.0,431.7l2.00,2.00l-2.00,2.00l-2.00,-2.00zM177.8,453.3l2.00,2.00l-2.00,2.00l-2.00,-2.00zM176.1,442.9l2.00,2.00l-2.00,2.00l-2.00,-2.00zM218.5,425.3l2.00,2.00l-2.00,2.00l-2.00,-2.00zM216.7,430.6l2.00,2.00l-2.00,2.00l-2.00,-2.00zM197.6,438.1l2.00,2.00l-2.00,2.00l-2.00,-2.00zM176.8,447.4l2.00,2.00l-2.00,2.00l-2.00,-2.00zM208.6,431.0l2.00,2.00l-2.00,2.00l-2.00,-2.00zM189.3,430.6l2.00,2.00l-2.00,2.00l-2.00,-2.00zM217.6,435.2l2.00,2.00l-2.00,2.00l-2.00,-2.00zM178.9,437.9l2.00,2.00l-2.00,2.00l-2.00,-2.00zM193.0,427.2l2.00,2.00l-2.00,2.00l-2.00,-2.00zM187.1,442.2l2.00,2.00l-2.00,2.00l-2.00,-2.00zM201.1,434.7l2.00,2.00l-2.00,2.00l-2.00,-2.00zM178.3,439.0l2.00,2.00l-2.00,2.00l-2.00,-2.00zM202.1,430.1l2.00,2.00l-2.00,2.00l-2.00,-2.00zM183.6,441.3l2.00,2.00l-2.00,2.00l-2.00,-2.00zM179.3,452.8l2.00,2.00l-2.00,2.00l-2.00,-2.00zM196.4,431.4l2.00,2.00l-2.00,2.00l-2.00,-2.00zM188.4,426.0l2.00,2.00l-2.00,2.00l-2.00,-2.00zM154.4,444.8l2.00,2.00l-2.00,2.00l-2.00,-2.00zM188.6,438.8l2.00,2.00l-2.00,2.00l-2.00,-2.00zM189.0,433.5l2.00,2.00l-2.00,2.00l-2.00,-2.00zM189.1,430.1l2.00,2.00l-2.00,2.00l-2.00,-2.00zM220.9,427.3l2.00,2.00l-2.00,2.00l-2.00,-2.00zM180.0,443.9l2.00,2.00l-2.00,2.00l-2.00,-2.00zM187.2,434.2l2.00,2.00l-2.00,2.00l-2.00,-2.00zM162.8,447.5l2.00,2.00l-2.00,2.00l-2.00,-2.00zM164.2,440.3l2.00,2.00l-2.00,2.00l-2.00,-2.00zM177.7,435.1l2.00,2.00l-2.00,2.00l-2.00,-2.00zM185.1,434.0l2.00,2.00l-2.00,2.00l-2.00,-2.00zM181.5,428.1l2.00,2.00l-2.00,2.00l-2.00,-2.00zM198.5,433.5l2.00,2.00l-2.00,2.00l-2.00,-2.00zM198.9,430.3l2.00,2.00l-2.00,2.00l-2.00,-2.00zM202.0,425.9l2.00,2.00l-2.00,2.00l-2.00,-2.00zM185.7,437.0l2.00,2.00l-2.00,2.00l-2.00,-2.00zM195.7,433.1l2.00,2.00l-2.00,2.00l-2.00,-2.00zM175.1,435.1l2.00,2.00l-2.00,2.00l-2.00,-2.00zM191.9,429.4l2.00,2.00l-2.00,2.00l-2.00,-2.00zM193.2,427.3l2.00,2.00l-2.00,2.00l-2.00,-2.00zM183.6,446.7l2.00,2.00l-2.00,2.00l-2.00,-2.00zM134.6,444.6l2.00,2.00l-2.00,2.00l-2.00,-2.00zM177.7,438.7l2.00,2.00l-2.00,2.00l-2.00,-2.00zM229.2,424.5l2.00,2.00l-2.00,2.00l-2.00,-2.00zM183.6,429.0l2.00,2.00l-2.00,2.00l-2.00,-2.00zM175.7,433.1l2.00,2.00l-2.00,2.00l-2.00,-2.00zM187.0,428.4l2.00,2.00l-2.00,2.00l-2.00,-2.00zM200.3,417.0l2.00,2.00l-2.00,2.00l-2.00,-2.00zM195.8,440.3l2.00,2.00l-2.00,2.00l-2.00,-2.00zM184.0,434.7l2.00,2.00l-2.00,2.00l-2.00,-2.00zM165.4,435.9l2.00,2.00l-2.00,2.00l-2.00,-2.00zM181.6,432.7l2.00,2.00l-2.00,2.00l-2.00,-2.00zM169.9,443.2l2.00,2.00l-2.00,2.00l-2.00,-2.00zM192.2,430.5l2.00,2.00l-2.00,2.00l-2.00,-2.00zM208.4,419.8l2.00,2.00l-2.00,2.00l-2.00,-2.00zM205.0,431.3l2.00,2.00l-2.00,2.00l-2.00,-2.00zM176.3,432.8l2.00,2.00l-2.00,2.00l-2.00,-2.00zM171.6,438.2l2.00,2.00l-2.00,2.00l-2.00,-2.00zM166.8,444.3l2.00,2.00l-2.00,2.00l-2.00,-2.00zM192.5,427.4l2.00,2.00l-2.00,2.00l-2.00,-2.00zM196.4,431.6l2.00,2.00l-2.00,2.00l-2.00,-2.00zM198.0,425.7l2.00,2.00l-2.00,2.00l-2.00,-2.00zM199.4,449.1l2.00,2.00l-2.00,2.00l-2.00,-2.00zM168.0,439.5l2.00,2.00l-2.00,2.00l-2.00,-2.00zM159.9,450.7l2.00,2.00l-2.00,2.00l-2.00,-2.00zM202.3,422.3l2.00,2.00l-2.00,2.00l-2.00,-2.00zM171.8,432.7l2.00,2.00l-2.00,2.00l-2.00,-2.00zM216.1,422.1l2.00,2.00l-2.00,2.00l-2.00,-2.00zM154.3,445.4l2.00,2.00l-2.00,2.00l-2.00,-2.00zM169.7,439.2l2.00,2.00l-2.00,2.00l-2.00,-2.00zM173.0,440.1l2.00,2.00l-2.00,2.00l-2.00,-2.00zM193.6,438.4l2.00,2.00l-2.00,2.00l-2.00,-2.00zM202.3,442.3l2.00,2.00l-2.00,2.00l-2.00,-2.00zM184.0,450.5l2.00,2.00l-2.00,2.00l-2.00,-2.00zM196.6,431.2l2.00,2.00l-2.00,2.00l-2.00,-2.00zM172.0,453.9l2.00,2.00l-2.00,2.00l-2.00,-2.00zM183.9,448.2l2.00,2.00l-2.00,2.00l-2.00,-2.00zM167.2,438.0l2.00,2.00l-2.00,2.00l-2.00,-2.00zM177.5,434.8l2.00,2.00l-2.00,2.00l-2.00,-2.00zM177.2,437.7l2.00,2.00l-2.00,2.00l-2.00,-2.00zM196.8,444.7l2.00,2.00l-2.00,2.00l-2.00,-2.00zM239.4,412.3l2.00,2.00l-2.00,2.00l-2.00,-2.00zM165.6,441.3l2.00,2.00l-2.00,2.00l-2.00,-2.00zM187.6,444.2l2.00,2.00l-2.00,2.00l-2.00,-2.00zM189.0,449.2l2.00,2.00l-2.00,2.00l-2.00,-2.00zM185.2,438.3l2.00,2.00l-2.00,2.00l-2.00,-2.00zM204.2,441.8l2.00,2.00l-2.00,2.00l-2.00,-2.00zM190.3,432.3l2.00,2.00l-2.00,2.00l-2.00,-2.00zM135.9,448.2l2.00,2.00l-2.00,2.00l-2.00,-2.00zM162.1,445.2l2.00,2.00l-2.00,2.00l-2.00,-2.00zM200.5,426.9l2.00,2.00l-2.00,2.00l-2.00,-2.00zM159.7,450.3l2.00,2.00l-2.00,2.00l-2.00,-2.00zM217.3,438.4l2.00,2.00l-2.00,2.00l-2.00,-2.00zM186.9,438.8l2.00,2.00l-2.00,2.00l-2.00,-2.00zM195.3,440.8l2.00,2.00l-2.00,2.00l-2.00,-2.00zM199.1,448.6l2.00,2.00l-2.00,2.00l-2.00,-2.00zM156.3,463.1l2.00,2.00l-2.00,2.00l-2.00,-2.00zM173.0,441.7l2.00,2.00l-2.00,2.00l-2.00,-2.00zM163.9,438.9l2.00,2.00l-2.00,2.00l-2.00,-2.00zM198.3,449.0l2.00,2.00l-2.00,2.00l-2.00,-2.00zM214.7,414.9l2.00,2.00l-2.00,2.00l-2.00,-2.00zM177.2,423.7l2.00,2.00l-2.00,2.00l-2.00,-2.00zM182.7,420.0l2.00,2.00l-2.00,2.00l-2.00,-2.00zM151.3,459.9l2.00,2.00l-2.00,2.00l-2.00,-2.00zM175.2,427.5l2.00,2.00l-2.00,2.00l-2.00,-2.00zM181.5,435.4l2.00,2.00l-2.00,2.00l-2.00,-2.00zM183.0,435.9l2.00,2.00l-2.00,2.00l-2.00,-2.00zM203.2,440.1l2.00,2.00l-2.00,2.00l-2.00,-2.00zM211.5,413.8l2.00,2.00l-2.00,2.00l-2.00,-2.00zM187.1,435.8l2.00,2.00l-2.00,2.00l-2.00,-2.00zM196.1,434.3l2.00,2.00l-2.00,2.00l-2.00,-2.00zM160.0,458.5l2.00,2.00l-2.00,2.00l-2.00,-2.00zM198.8,428.6l2.00,2.00l-2.00,2.00l-2.00,-2.00zM188.8,437.1l2.00,2.00l-2.00,2.00l-2.00,-2.00zM151.2,447.5l2.00,2.00l-2.00,2.00l-2.00,-2.00zM197.4,440.7l2.00,2.00l-2.00,2.00l-2.00,-2.00zM176.9,447.7l2.00,2.00l-2.00,2.00l-2.00,-2.00zM206.6,424.2l2.00,2.00l-2.00,2.00l-2.00,-2.00zM198.3,435.7l2.00,2.00l-2.00,2.00l-2.00,-2.00zM184.6,423.7l2.00,2.00l-2.00,2.00l-2.00,-2.00zM222.3,421.9l2.00,2.00l-2.00,2.00l-2.00,-2.00zM181.6,430.1l2.00,2.00l-2.00,2.00l-2.00,-2.00zM180.0,434.8l2.00,2.00l-2.00,2.00l-2.00,-2.00zM191.2,442.5l2.00,2.00l-2.00,2.00l-2.00,-2.00zM196.3,450.3l2.00,2.00l-2.00,2.00l-2.00,-2.00zM171.0,443.8l2.00,2.00l-2.00,2.00l-2.00,-2.00zM198.7,429.7l2.00,2.00l-2.00,2.00l-2.00,-2.00zM195.2,429.4l2.00,2.00l-2.00,2.00l-2.00,-2.00zM179.3,445.2l2.00,2.00l-2.00,2.00l-2.00,-2.00zM155.8,446.7l2.00,2.00l-2.00,2.00l-2.00,-2.00zM215.2,432.7l2.00,2.00l-2.00,2.00l-2.00,-2.00zM219.2,435.9l2.00,2.00l-2.00,2.00l-2.00,-2.00zM208.2,432.5l2.00,2.00l-2.00,2.00l-2.00,-2.00zM207.1,424.2l2.00,2.00l-2.00,2.00l-2.00,-2.00zM241.6,390.5l2.00,2.00l-2.00,2.00l-2.00,-2.00zM251.2,393.7l2.00,2.00l-2.00,2.00l-2.00,-2.00zM202.2,396.3l2.00,2.00l-2.00,2.00l-2.00,-2.00zM211.5,406.0l2.00,2.00l-2.00,2.00l-2.00,-2.00zM249.5,411.8l2.00,2.00l-2.00,2.00l-2.00,-2.00zM237.2,408.9l2.00,2.00l-2.00,2.00l-2.00,-2.00zM240.1,414.7l2.00,2.00l-2.00,2.00l-2.00,-2.00zM233.7,418.2l2.00,2.00l-2.00,2.00l-2.00,-2.00zM236.6,420.6l2.00,2.00l-2.00,2.00l-2.00,-2.00zM239.0,425.8l2.00,2.00l-2.00,2.00l-2.00,-2.00zM135.6,425.8l2.00,2.00l-2.00,2.00l-2.00,-2.00zM158.4,425.8l2.00,2.00l-2.00,2.00l-2.00,-2.00zM130.9,450.3l2.00,2.00l-2.00,2.00l-2.00,-2.00zM147.6,439.5l2.00,2.00l-2.00,2.00l-2.00,-2.00zM139.4,462.0l2.00,2.00l-2.00,2.00l-2.00,-2.00zM148.2,463.8l2.00,2.00l-2.00,2.00l-2.00,-2.00zM154.0,467.3l2.00,2.00l-2.00,2.00l-2.00,-2.00zM164.2,469.0l2.00,2.00l-2.00,2.00l-2.00,-2.00zM173.0,461.4l2.00,2.00l-2.00,2.00l-2.00,-2.00zM178.8,462.0l2.00,2.00l-2.00,2.00l-2.00,-2.00zM184.7,458.5l2.00,2.00l-2.00,2.00l-2.00,-2.00zM221.2,444.5l2.00,2.00l-2.00,2.00l-2.00,-2.00zM224.1,438.1l2.00,2.00l-2.00,2.00l-2.00,-2.00z" fill="#000"/>
<path d="M556.4,416.0l2.00,2.00l-2.00,2.00l-2.00,-2.00zM521.2,444.0l2.00,2.00l-2.00,2.00l-2.00,-2.00zM500.8,471.6l2.00,2.00l-2.00,2.00l-2.00,-2.00zM566.1,409.2l2.00,2.00l-2.00,2.00l-2.00,-2.00zM591.9,403.6l2.00,2.00l-2.00,2.00l-2.00,-2.00zM574.4,410.9l2.00,2.00l-2.00,2.00l-2.00,-2.00zM528.8,436.8l2.00,2.00l-2.00,2.00l-2.00,-2.00zM453.7,492.7l2.00,2.00l-2.00,2.00l-2.00,-2.00zM522.4,447.6l2.00,2.00l-2.00,2.00l-2.00,-2.00zM554.5,420.8l2.00,2.00l-2.00,2.00l-2.00,-2.00zM530.5,441.2l2.00,2.00l-2.00,2.00l-2.00,-2.00zM572.1,404.6l2.00,2.00l-2.00,2.00l-2.00,-2.00zM521.9,451.5l2.00,2.00l-2.00,2.00l-2.00,-2.00zM549.5,420.8l2.00,2.00l-2.00,2.00l-2.00,-2.00zM543.5,426.9l2.00,2.00l-2.00,2.00l-2.00,-2.00zM545.4,427.7l2.00,2.00l-2.00,2.00l-2.00,-2.00zM500.2,453.4l2.00,2.00l-2.00,2.00l-2.00,-2.00zM535.9,433.8l2.00,2.00l-2.00,2.00l-2.00,-2.00zM545.4,427.6l2.00,2.00l-2.00,2.00l-2.00,-2.00zM524.2,433.8l2.00,2.00l-2.00,2.00l-2.00,-2.00zM500.4,449.0l2.00,2.00l-2.00,2.00l-2.00,-2.00zM532.1,448.9l2.00,2.00l-2.00,2.00l-2.00,-2.00zM514.8,450.1l2.00,2.00l-2.00,2.00l-2.00,-2.00zM547.5,426.4l2.00,2.00l-2.00,2.00l-2.00,-2.00zM561.0,412.4l2.00,2.00l-2.00,2.00l-2.00,-2.00zM553.5,435.4l2.00,2.00l-2.00,2.00l-2.00,-2.00zM547.8,425.7l2.00,2.00l-2.00,2.00l-2.00,-2.00zM528.2,428.1l2.00,2.00l-2.00,2.00l-2.00,-2.00zM546.0,432.5l2.00,2.00l-2.00,2.00l-2.00,-2.00zM487.4,465.2l2.00,2.00l-2.00,2.00l-2.00,-2.00zM542.8,434.5l2.00,2.00l-2.00,2.00l-2.00,-2.00zM560.8,416.5l2.00,2.00l-2.00,2.00l-2.00,-2.00zM531.0,450.0l2.00,2.00l-2.00,2.00l-2.00,-2.00zM558.2,423.2l2.00,2.00l-2.00,2.00l-2.00,-2.00zM500.5,460.0l2.00,2.00l-2.00,2.00l-2.00,-2.00zM545.8,440.1l2.00,2.00l-2.00,2.00l-2.00,-2.00zM544.8,451.0l2.00,2.00l-2.00,2.00l-2.00,-2.00zM548.7,422.5l2.00,2.00l-2.00,2.00l-2.00,-2.00zM546.9,436.6l2.00,2.00l-2.00,2.00l-2.00,-2.00zM595.8,394.2l2.00,2.00l-2.00,2.00l-2.00,-2.00zM462.0,495.6l2.00,2.00l-2.00,2.00l-2.00,-2.00zM498.5,454.8l2.00,2.00l-2.00,2.00l-2.00,-2.00zM518.7,441.7l2.00,2.00l-2.00,2.00l-2.00,-2.00zM546.9,439.3l2.00,2.00l-2.00,2.00l-2.00,-2.00zM523.7,446.8l2.00,2.00l-2.00,2.00l-2.00,-2.00zM520.4,443.9l2.00,2.00l-2.00,2.00l-2.00,-2.00zM506.8,472.5l2.00,2.00l-2.00,2.00l-2.00,-2.00zM510.0,465.6l2.00,2.00l-2.00,2.00l-2.00,-2.00zM520.3,454.0l2.00,2.00l-2.00,2.00l-2.00,-2.00zM573.1,400.7l2.00,2.00l-2.00,2.00l-2.00,-2.00zM518.9,449.2l2.00,2.00l-2.00,2.00l-2.00,-2.00zM613.2,389.8l2.00,2.00l-2.00,2.00l-2.00,-2.00zM557.9,403.9l2.00,2.00l-2.00,2.00l-2.00,-2.00zM525.9,431.4l2.00,2.00l-2.00,2.00l-2.00,-2.00zM556.4,414.7l2.00,2.00l-2.00,2.00l-2.00,-2.00zM568.2,419.8l2.00,2.00l-2.00,2.00l-2.00,-2.00zM510.2,457.6l2.00,2.00l-2.00,2.00l-2.00,-2.00zM500.6,466.8l2.00,2.00l-2.00,2.00l-2.00,-2.00zM576.4,407.5l2.00,2.00l-2.00,2.00l-2.00,-2.00zM515.7,452.5l2.00,2.00l-2.00,2.00l-2.00,-2.00zM565.3,423.8l2.00,2.00l-2.00,2.00l-2.00,-2.00zM569.8,439.4l2.00,2.00l-2.00,2.00l-2.00,-2.00zM499.4,467.7l2.00,2.00l-2.00,2.00l-2.00,-2.00zM560.3,428.5l2.00,2.00l-2.00,2.00l-2.00,-2.00zM551.6,421.2l2.00,2.00l-2.00,2.00l-2.00,-2.00zM577.2,418.0l2.00,2.00l-2.00,2.00l-2.00,-2.00zM538.8,435.1l2.00,2.00l-2.00,2.00l-2.00,-2.00zM551.3,426.4l2.00,2.00l-2.00,2.00l-2.00,-2.00zM546.9,424.6l2.00,2.00l-2.00,2.00l-2.00,-2.00zM530.5,434.5l2.00,2.00l-2.00,2.00l-2.00,-2.00zM578.0,400.5l2.00,2.00l-2.00,2.00l-2.00,-2.00zM559.6,410.9l2.00,2.00l-2.00,2.00l-2.00,-2.00zM572.6,398.6l2.00,2.00l-2.00,2.00l-2.00,-2.00zM555.2,436.6l2.00,2.00l-2.00,2.00l-2.00,-2.00zM570.0,414.4l2.00,2.00l-2.00,2.00l-2.00,-2.00zM519.3,456.9l2.00,2.00l-2.00,2.00l-2.00,-2.00zM525.7,448.2l2.00,2.00l-2.00,2.00l-2.00,-2.00zM558.8,408.0l2.00,2.00l-2.00,2.00l-2.00,-2.00zM533.7,438.4l2.00,2.00l-2.00,2.00l-2.00,-2.00zM526.0,436.9l2.00,2.00l-2.00,2.00l-2.00,-2.00zM540.1,427.0l2.00,2.00l-2.00,2.00l-2.00,-2.00zM499.5,463.1l2.00,2.00l-2.00,2.00l-2.00,-2.00zM544.1,431.7l2.00,2.00l-2.00,2.00l-2.00,-2.00zM551.8,425.3l2.00,2.00l-2.00,2.00l-2.00,-2.00zM531.8,440.7l2.00,2.00l-2.00,2.00l-2.00,-2.00zM510.2,453.6l2.00,2.00l-2.00,2.00l-2.00,-2.00zM583.0,401.3l2.00,2.00l-2.00,2.00l-2.00,-2.00zM554.6,432.4l2.00,2.00l-2.00,2.00l-2.00,-2.00zM522.1,464.3l2.00,2.00l-2.00,2.00l-2.00,-2.00zM528.9,450.8l2.00,2.00l-2.00,2.00l-2.00,-2.00zM498.2,463.2l2.00,2.00l-2.00,2.00l-2.00,-2.00zM497.4,468.7l2.00,2.00l-2.00,2.00l-2.00,-2.00zM495.3,474.8l2.00,2.00l-2.00,2.00l-2.00,-2.00zM522.3,454.8l2.00,2.00l-2.00,2.00l-2.00,-2.00zM554.4,432.4l2.00,2.00l-2.00,2.00l-2.00,-2.00zM562.4,426.5l2.00,2.00l-2.00,2.00l-2.00,-2.00zM537.9,438.3l2.00,2.00l-2.00,2.00l-2.00,-2.00zM563.6,413.5l2.00,2.00l-2.00,2.00l-2.00,-2.00zM547.5,415.6l2.00,2.00l-2.00,2.00l-2.00,-2.00zM514.7,461.0l2.00,2.00l-2.00,2.00l-2.00,-2.00zM520.6,453.0l2.00,2.00l-2.00,2.00l-2.00,-2.00zM543.0,424.3l2.00,2.00l-2.00,2.00l-2.00,-2.00zM556.2,421.3l2.00,2.00l-2.00,2.00l-2.00,-2.00zM564.7,411.6l2.00,2.00l-2.00,2.00l-2.00,-2.00zM503.4,457.5l2.00,2.00l-2.00,2.00l-2.00,-2.00zM497.6,479.3l2.00,2.00l-2.00,2.00l-2.00,-2.00zM588.1,394.3l2.00,2.00l-2.00,2.00l-2.00,-2.00zM541.7,451.5l2.00,2.00l-2.00,2.00l-2.00,-2.00zM563.7,414.5l2.00,2.00l-2.00,2.00l-2.00,-2.00zM537.5,429.5l2.00,2.00l-2.00,2.00l-2.00,-2.00zM505.6,460.4l2.00,2.00l-2.00,2.00l-2.00,-2.00zM583.6,419.8l2.00,2.00l-2.00,2.00l-2.00,-2.00zM550.6,424.2l2.00,2.00l-2.00,2.00l-2.00,-2.00zM578.3,408.6l2.00,2.00l-2.00,2.00l-2.00,-2.00zM546.0,410.8l2.00,2.00l-2.00,2.00l-2.00,-2.00zM517.3,455.2l2.00,2.00l-2.00,2.00l-2.00,-2.00zM533.4,427.3l2.00,2.00l-2.00,2.00l-2.00,-2.00zM564.1,414.3l2.00,2.00l-2.00,2.00l-2.00,-2.00zM527.8,453.5l2.00,2.00l-2.00,2.00l-2.00,-2.00zM543.5,428.7l2.00,2.00l-2.00,2.00l-2.00,-2.00zM571.5,415.4l2.00,2.00l-2.00,2.00l-2.00,-2.00zM508.2,455.5l2.00,2.00l-2.00,2.00l-2.00,-2.00zM529.3,438.7l2.00,2.00l-2.00,2.00l-2.00,-2.00zM545.3,431.6l2.00,2.00l-2.00,2.00l-2.00,-2.00zM567.9,421.0l2.00,2.00l-2.00,2.00l-2.00,-2.00zM537.9,435.7l2.00,2.00l-2.00,2.00l-2.00,-2.00zM522.1,446.7l2.00,2.00l-2.00,2.00l-2.00,-2.00zM550.2,418.0l2.00,2.00l-2.00,2.00l-2.00,-2.00zM518.3,436.2l2.00,2.00l-2.00,2.00l-2.00,-2.00zM550.9,426.1l2.00,2.00l-2.00,2.00l-2.00,-2.00zM548.2,425.7l2.00,2.00l-2.00,2.00l-2.00,-2.00zM536.2,438.4l2.00,2.00l-2.00,2.00l-2.00,-2.00zM565.4,422.5l2.00,2.00l-2.00,2.00l-2.00,-2.00zM572.6,415.4l2.00,2.00l-2.00,2.00l-2.00,-2.00zM504.3,453.2l2.00,2.00l-2.00,2.00l-2.00,-2.00zM554.0,424.8l2.00,2.00l-2.00,2.00l-2.00,-2.00zM537.1,437.7l2.00,2.00l-2.00,2.00l-2.00,-2.00zM531.7,437.6l2.00,2.00l-2.00,2.00l-2.00,-2.00zM533.6,420.1l2.00,2.00l-2.00,2.00l-2.00,-2.00zM566.4,407.0l2.00,2.00l-2.00,2.00l-2.00,-2.00zM536.2,435.4l2.00,2.00l-2.00,2.00l-2.00,-2.00zM535.1,443.0l2.00,2.00l-2.00,2.00l-2.00,-2.00zM507.9,454.9l2.00,2.00l-2.00,2.00l-2.00,-2.00zM530.8,429.0l2.00,2.00l-2.00,2.00l-2.00,-2.00zM545.5,440.0l2.00,2.00l-2.00,2.00l-2.00,-2.00zM516.5,450.6l2.00,2.00l-2.00,2.00l-2.00,-2.00zM531.1,436.3l2.00,2.00l-2.00,2.00l-2.00,-2.00zM554.3,426.7l2.00,2.00l-2.00,2.00l-2.00,-2.00zM577.6,410.4l2.00,2.00l-2.00,2.00l-2.00,-2.00zM533.2,437.7l2.00,2.00l-2.00,2.00l-2.00,-2.00zM587.8,392.5l2.00,2.00l-2.00,2.00l-2.00,-2.00zM563.2,411.2l2.00,2.00l-2.00,2.00l-2.00,-2.00zM565.3,420.5l2.00,2.00l-2.00,2.00l-2.00,-2.00zM555.0,420.8l2.00,2.00l-2.00,2.00l-2.00,-2.00zM545.3,433.2l2.00,2.00l-2.00,2.00l-2.00,-2.00zM518.1,434.4l2.00,2.00l-2.00,2.00l-2.00,-2.00zM537.5,431.1l2.00,2.00l-2.00,2.00l-2.00,-2.00zM541.2,429.2l2.00,2.00l-2.00,2.00l-2.00,-2.00zM543.4,426.9l2.00,2.00l-2.00,2.00l-2.00,-2.00zM571.9,393.5l2.00,2.00l-2.00,2.00l-2.00,-2.00zM589.2,392.5l2.00,2.00l-2.00,2.00l-2.00,-2.00zM560.8,430.1l2.00,2.00l-2.00,2.00l-2.00,-2.00zM567.5,414.9l2.00,2.00l-2.00,2.00l-2.00,-2.00zM522.5,442.1l2.00,2.00l-2.00,2.00l-2.00,-2.00zM489.7,465.3l2.00,2.00l-2.00,2.00l-2.00,-2.00zM534.0,426.8l2.00,2.00l-2.00,2.00l-2.00,-2.00zM548.7,428.4l2.00,2.00l-2.00,2.00l-2.00,-2.00zM573.5,401.6l2.00,2.00l-2.00,2.00l-2.00,-2.00zM600.2,384.6l2.00,2.00l-2.00,2.00l-2.00,-2.00zM551.8,431.3l2.00,2.00l-2.00,2.00l-2.00,-2.00zM577.8,412.1l2.00,2.00l-2.00,2.00l-2.00,-2.00zM571.8,414.0l2.00,2.00l-2.00,2.00l-2.00,-2.00zM540.9,419.1l2.00,2.00l-2.00,2.00l-2.00,-2.00zM560.3,413.2l2.00,2.00l-2.00,2.00l-2.00,-2.00zM556.1,430.4l2.00,2.00l-2.00,2.00l-2.00,-2.00zM576.0,396.5l2.00,2.00l-2.00,2.00l-2.00,-2.00zM520.8,457.6l2.00,2.00l-2.00,2.00l-2.00,-2.00zM484.6,474.6l2.00,2.00l-2.00,2.00l-2.00,-2.00zM549.1,433.8l2.00,2.00l-2.00,2.00l-2.00,-2.00zM563.5,412.0l2.00,2.00l-2.00,2.00l-2.00,-2.00zM563.8,405.8l2.00,2.00l-2.00,2.00l-2.00,-2.00zM524.3,436.7l2.00,2.00l-2.00,2.00l-2.00,-2.00zM561.4,428.6l2.00,2.00l-2.00,2.00l-2.00,-2.00zM524.9,441.9l2.00,2.00l-2.00,2.00l-2.00,-2.00zM554.5,412.3l2.00,2.00l-2.00,2.00l-2.00,-2.00zM527.0,449.4l2.00,2.00l-2.00,2.00l-2.00,-2.00zM509.8,443.4l2.00,2.00l-2.00,2.00l-2.00,-2.00zM565.0,412.9l2.00,2.00l-2.00,2.00l-2.00,-2.00zM512.6,456.4l2.00,2.00l-2.00,2.00l-2.00,-2.00zM507.0,460.2l2.00,2.00l-2.00,2.00l-2.00,-2.00zM563.6,418.6l2.00,2.00l-2.00,2.00l-2.00,-2.00zM544.5,428.9l2.00,2.00l-2.00,2.00l-2.00,-2.00zM475.6,461.8l2.00,2.00l-2.00,2.00l-2.00,-2.00zM572.6,410.4l2.00,2.00l-2.00,2.00l-2.00,-2.00zM511.8,453.9l2.00,2.00l-2.00,2.00l-2.00,-2.00zM530.4,438.7l2.00,2.00l-2.00,2.00l-2.00,-2.00zM541.5,435.8l2.00,2.00l-2.00,2.00l-2.00,-2.00zM595.2,397.6l2.00,2.00l-2.00,2.00l-2.00,-2.00zM542.6,432.7l2.00,2.00l-2.00,2.00l-2.00,-2.00zM570.6,422.0l2.00,2.00l-2.00,2.00l-2.00,-2.00zM547.4,445.0l2.00,2.00l-2.00,2.00l-2.00,-2.00zM556.2,423.1l2.00,2.00l-2.00,2.00l-2.00,-2.00zM506.2,455.7l2.00,2.00l-2.00,2.00l-2.00,-2.00zM537.5,424.5l2.00,2.00l-2.00,2.00l-2.00,-2.00zM529.5,445.5l2.00,2.00l-2.00,2.00l-2.00,-2.00zM510.5,441.0l2.00,2.00l-2.00,2.00l-2.00,-2.00zM556.3,434.2l2.00,2.00l-2.00,2.00l-2.00,-2.00zM571.9,416.8l2.00,2.00l-2.00,2.00l-2.00,-2.00zM552.2,419.6l2.00,2.00l-2.00,2.00l-2.00,-2.00zM537.2,440.5l2.00,2.00l-2.00,2.00l-2.00,-2.00zM557.2,413.0l2.00,2.00l-2.00,2.00l-2.00,-2.00zM510.7,446.2l2.00,2.00l-2.00,2.00l-2.00,-2.00zM553.2,429.1l2.00,2.00l-2.00,2.00l-2.00,-2.00zM551.4,416.3l2.00,2.00l-2.00,2.00l-2.00,-2.00zM541.2,434.0l2.00,2.00l-2.00,2.00l-2.00,-2.00zM535.7,435.2l2.00,2.00l-2.00,2.00l-2.00,-2.00zM551.5,436.9l2.00,2.00l-2.00,2.00l-2.00,-2.00zM529.6,443.3l2.00,2.00l-2.00,2.00l-2.00,-2.00zM543.1,443.4l2.00,2.00l-2.00,2.00l-2.00,-2.00zM564.0,421.9l2.00,2.00l-2.00,2.00l-2.00,-2.00zM491.9,463.1l2.00,2.00l-2.00,2.00l-2.00,-2.00zM568.8,401.9l2.00,2.00l-2.00,2.00l-2.00,-2.00zM545.6,411.9l2.00,2.00l-2.00,2.00l-2.00,-2.00zM547.8,427.3l2.00,2.00l-2.00,2.00l-2.00,-2.00zM506.8,435.7l2.00,2.00l-2.00,2.00l-2.00,-2.00zM529.0,434.7l2.00,2.00l-2.00,2.00l-2.00,-2.00zM518.3,430.0l2.00,2.00l-2.00,2.00l-2.00,-2.00zM556.7,415.4l2.00,2.00l-2.00,2.00l-2.00,-2.00zM560.6,423.1l2.00,2.00l-2.00,2.00l-2.00,-2.00zM567.4,405.3l2.00,2.00l-2.00,2.00l-2.00,-2.00zM541.6,427.3l2.00,2.00l-2.00,2.00l-2.00,-2.00zM490.4,466.6l2.00,2.00l-2.00,2.00l-2.00,-2.00zM519.3,450.7l2.00,2.00l-2.00,2.00l-2.00,-2.00zM527.3,430.7l2.00,2.00l-2.00,2.00l-2.00,-2.00zM550.6,425.8l2.00,2.00l-2.00,2.00l-2.00,-2.00zM504.5,458.9l2.00,2.00l-2.00,2.00l-2.00,-2.00zM532.9,429.9l2.00,2.00l-2.00,2.00l-2.00,-2.00zM539.6,425.3l2.00,2.00l-2.00,2.00l-2.00,-2.00zM531.7,448.8l2.00,2.00l-2.00,2.00l-2.00,-2.00zM539.9,438.8l2.00,2.00l-2.00,2.00l-2.00,-2.00zM599.5,391.5l2.00,2.00l-2.00,2.00l-2.00,-2.00zM538.0,427.7l2.00,2.00l-2.00,2.00l-2.00,-2.00zM589.1,393.1l2.00,2.00l-2.00,2.00l-2.00,-2.00zM542.5,420.6l2.00,2.00l-2.00,2.00l-2.00,-2.00zM517.3,435.8l2.00,2.00l-2.00,2.00l-2.00,-2.00zM553.4,419.0l2.00,2.00l-2.00,2.00l-2.00,-2.00zM529.1,436.3l2.00,2.00l-2.00,2.00l-2.00,-2.00zM535.0,426.6l2.00,2.00l-2.00,2.00l-2.00,-2.00zM481.4,467.2l2.00,2.00l-2.00,2.00l-2.00,-2.00zM551.4,427.2l2.00,2.00l-2.00,2.00l-2.00,-2.00zM525.1,440.3l2.00,2.00l-2.00,2.00l-2.00,-2.00zM563.1,402.8l2.00,2.00l-2.00,2.00l-2.00,-2.00zM551.8,440.3l2.00,2.00l-2.00,2.00l-2.00,-2.00zM525.1,430.0l2.00,2.00l-2.00,2.00l-2.00,-2.00zM516.2,452.5l2.00,2.00l-2.00,2.00l-2.00,-2.00zM537.8,426.4l2.00,2.00l-2.00,2.00l-2.00,-2.00zM534.5,442.4l2.00,2.00l-2.00,2.00l-2.00,-2.00zM522.2,446.8l2.00,2.00l-2.00,2.00l-2.00,-2.00zM590.9,402.5l2.00,2.00l-2.00,2.00l-2.00,-2.00zM537.2,434.4l2.00,2.00l-2.00,2.00l-2.00,-2.00zM560.1,411.6l2.00,2.00l-2.00,2.00l-2.00,-2.00zM582.7,412.2l2.00,2.00l-2.00,2.00l-2.00,-2.00zM550.7,424.3l2.00,2.00l-2.00,2.00l-2.00,-2.00zM555.6,419.4l2.00,2.00l-2.00,2.00l-2.00,-2.00zM552.8,421.9l2.00,2.00l-2.00,2.00l-2.00,-2.00zM561.7,410.6l2.00,2.00l-2.00,2.00l-2.00,-2.00zM556.4,423.3l2.00,2.00l-2.00,2.00l-2.00,-2.00zM559.6,431.4l2.00,2.00l-2.00,2.00l-2.00,-2.00zM550.0,437.2l2.00,2.00l-2.00,2.00l-2.00,-2.00zM530.1,442.6l2.00,2.00l-2.00,2.00l-2.00,-2.00zM532.7,443.5l2.00,2.00l-2.00,2.00l-2.00,-2.00zM528.0,447.8l2.00,2.00l-2.00,2.00l-2.00,-2.00zM543.1,425.3l2.00,2.00l-2.00,2.00l-2.00,-2.00zM578.7,415.5l2.00,2.00l-2.00,2.00l-2.00,-2.00zM518.6,450.9l2.00,2.00l-2.00,2.00l-2.00,-2.00zM518.8,434.2l2.00,2.00l-2.00,2.00l-2.00,-2.00zM519.0,453.5l2.00,2.00l-2.00,2.00l-2.00,-2.00zM535.9,428.6l2.00,2.00l-2.00,2.00l-2.00,-2.00zM567.0,414.8l2.00,2.00l-2.00,2.00l-2.00,-2.00zM535.2,441.8l2.00,2.00l-2.00,2.00l-2.00,-2.00zM547.0,425.0l2.00,2.00l-2.00,2.00l-2.00,-2.00zM484.8,476.5l2.00,2.00l-2.00,2.00l-2.00,-2.00zM542.3,441.9l2.00,2.00l-2.00,2.00l-2.00,-2.00zM547.3,416.2l2.00,2.00l-2.00,2.00l-2.00,-2.00zM518.4,434.0l2.00,2.00l-2.00,2.00l-2.00,-2.00zM500.2,461.7l2.00,2.00l-2.00,2.00l-2.00,-2.00zM551.0,422.5l2.00,2.00l-2.00,2.00l-2.00,-2.00zM546.0,444.9l2.00,2.00l-2.00,2.00l-2.00,-2.00zM588.9,403.9l2.00,2.00l-2.00,2.00l-2.00,-2.00zM528.5,445.6l2.00,2.00l-2.00,2.00l-2.00,-2.00zM536.4,434.6l2.00,2.00l-2.00,2.00l-2.00,-2.00zM523.9,429.4l2.00,2.00l-2.00,2.00l-2.00,-2.00zM538.0,423.6l2.00,2.00l-2.00,2.00l-2.00,-2.00zM494.8,464.1l2.00,2.00l-2.00,2.00l-2.00,-2.00zM574.6,408.1l2.00,2.00l-2.00,2.00l-2.00,-2.00zM554.6,418.3l2.00,2.00l-2.00,2.00l-2.00,-2.00zM535.5,437.0l2.00,2.00l-2.00,2.00l-2.00,-2.00zM534.5,442.4l2.00,2.00l-2.00,2.00l-2.00,-2.00zM550.6,419.0l2.00,2.00l-2.00,2.00l-2.00,-2.00zM547.8,423.3l2.00,2.00l-2.00,2.00l-2.00,-2.00zM526.6,434.9l2.00,2.00l-2.00,2.00l-2.00,-2.00zM541.2,441.4l2.00,2.00l-2.00,2.00l-2.00,-2.00zM541.2,415.5l2.00,2.00l-2.00,2.00l-2.00,-2.00zM532.5,443.0l2.00,2.00l-2.00,2.00l-2.00,-2.00zM535.5,442.1l2.00,2.00l-2.00,2.00l-2.00,-2.00zM522.4,429.6l2.00,2.00l-2.00,2.00l-2.00,-2.00zM529.9,436.3l2.00,2.00l-2.00,2.00l-2.00,-2.00zM513.0,461.6l2.00,2.00l-2.00,2.00l-2.00,-2.00zM514.1,444.9l2.00,2.00l-2.00,2.00l-2.00,-2.00zM547.4,422.3l2.00,2.00l-2.00,2.00l-2.00,-2.00zM559.7,417.3l2.00,2.00l-2.00,2.00l-2.00,-2.00zM544.4,439.8l2.00,2.00l-2.00,2.00l-2.00,-2.00zM455.5,501.2l2.00,2.00l-2.00,2.00l-2.00,-2.00zM501.8,455.9l2.00,2.00l-2.00,2.00l-2.00,-2.00zM545.3,417.5l2.00,2.00l-2.00,2.00l-2.00,-2.00zM576.0,393.3l2.00,2.00l-2.00,2.00l-2.00,-2.00zM571.4,411.5l2.00,2.00l-2.00,2.00l-2.00,-2.00zM527.2,424.7l2.00,2.00l-2.00,2.00l-2.00,-2.00zM529.8,435.5l2.00,2.00l-2.00,2.00l-2.00,-2.00zM532.4,443.0l2.00,2.00l-2.00,2.00l-2.00,-2.00zM578.5,393.9l2.00,2.00l-2.00,2.00l-2.00,-2.00zM545.1,426.0l2.00,2.00l-2.00,2.00l-2.00,-2.00zM517.7,448.3l2.00,2.00l-2.00,2.00l-2.00,-2.00zM566.8,418.3l2.00,2.00l-2.00,2.00l-2.00,-2.00zM555.8,409.7l2.00,2.00l-2.00,2.00l-2.00,-2.00zM491.6,469.4l2.00,2.00l-2.00,2.00l-2.00,-2.00zM525.1,443.2l2.00,2.00l-2.00,2.00l-2.00,-2.00zM565.7,413.9l2.00,2.00l-2.00,2.00l-2.00,-2.00zM556.9,407.1l2.00,2.00l-2.00,2.00l-2.00,-2.00zM512.3,457.3l2.00,2.00l-2.00,2.00l-2.00,-2.00zM537.5,427.6l2.00,2.00l-2.00,2.00l-2.00,-2.00zM561.8,415.1l2.00,2.00l-2.00,2.00l-2.00,-2.00zM545.9,421.2l2.00,2.00l-2.00,2.00l-2.00,-2.00zM522.6,461.1l2.00,2.00l-2.00,2.00l-2.00,-2.00zM536.5,435.5l2.00,2.00l-2.00,2.00l-2.00,-2.00zM565.3,430.5l2.00,2.00l-2.00,2.00l-2.00,-2.00zM550.5,419.6l2.00,2.00l-2.00,2.00l-2.00,-2.00zM516.3,448.1l2.00,2.00l-2.00,2.00l-2.00,-2.00zM603.8,396.2l2.00,2.00l-2.00,2.00l-2.00,-2.00zM545.0,425.8l2.00,2.00l-2.00,2.00l-2.00,-2.00zM506.0,461.6l2.00,2.00l-2.00,2.00l-2.00,-2.00zM537.4,443.7l2.00,2.00l-2.00,2.00l-2.00,-2.00zM472.7,480.2l2.00,2.00l-2.00,2.00l-2.00,-2.00zM521.7,440.9l2.00,2.00l-2.00,2.00l-2.00,-2.00zM539.1,431.2l2.00,2.00l-2.00,2.00l-2.00,-2.00zM603.8,392.6l2.00,2.00l-2.00,2.00l-2.00,-2.00zM547.5,430.3l2.00,2.00l-2.00,2.00l-2.00,-2.00zM555.1,431.4l2.00,2.00l-2.00,2.00l-2.00,-2.00zM558.7,416.3l2.00,2.00l-2.00,2.00l-2.00,-2.00zM544.5,425.3l2.00,2.00l-2.00,2.00l-2.00,-2.00zM522.3,436.8l2.00,2.00l-2.00,2.00l-2.00,-2.00zM573.2,405.1l2.00,2.00l-2.00,2.00l-2.00,-2.00zM551.7,419.0l2.00,2.00l-2.00,2.00l-2.00,-2.00zM578.5,402.6l2.00,2.00l-2.00,2.00l-2.00,-2.00zM562.8,407.8l2.00,2.00l-2.00,2.00l-2.00,-2.00zM515.8,445.0l2.00,2.00l-2.00,2.00l-2.00,-2.00zM529.0,438.3l2.00,2.00l-2.00,2.00l-2.00,-2.00zM535.3,443.8l2.00,2.00l-2.00,2.00l-2.00,-2.00zM530.7,436.8l2.00,2.00l-2.00,2.00l-2.00,-2.00zM550.2,420.3l2.00,2.00l-2.00,2.00l-2.00,-2.00zM541.1,439.9l2.00,2.00l-2.00,2.00l-2.00,-2.00zM527.4,452.8l2.00,2.00l-2.00,2.00l-2.00,-2.00zM576.1,402.9l2.00,2.00l-2.00,2.00l-2.00,-2.00zM573.7,405.1l2.00,2.00l-2.00,2.00l-2.00,-2.00zM535.5,421.4l2.00,2.00l-2.00,2.00l-2.00,-2.00zM509.9,442.8l2.00,2.00l-2.00,2.00l-2.00,-2.00zM526.4,442.4l2.00,2.00l-2.00,2.00l-2.00,-2.00zM528.6,452.2l2.00,2.00l-2.00,2.00l-2.00,-2.00zM527.0,457.0l2.00,2.00l-2.00,2.00l-2.00,-2.00zM521.2,453.3l2.00,2.00l-2.00,2.00l-2.00,-2.00zM545.6,424.4l2.00,2.00l-2.00,2.00l-2.00,-2.00zM550.9,428.4l2.00,2.00l-2.00,2.00l-2.00,-2.00zM546.5,415.9l2.00,2.00l-2.00,2.00l-2.00,-2.00zM518.7,447.9l2.00,2.00l-2.00,2.00l-2.00,-2.00zM544.4,419.8l2.00,2.00l-2.00,2.00l-2.00,-2.00zM590.0,394.9l2.00,2.00l-2.00,2.00l-2.00,-2.00zM552.9,434.3l2.00,2.00l-2.00,2.00l-2.00,-2.00zM540.6,449.5l2.00,2.00l-2.00,2.00l-2.00,-2.00zM608.8,382.4l2.00,2.00l-2.00,2.00l-2.00,-2.00zM550.9,427.5l2.00,2.00l-2.00,2.00l-2.00,-2.00zM520.2,434.2l2.00,2.00l-2.00,2.00l-2.00,-2.00zM560.7,411.8l2.00,2.00l-2.00,2.00l-2.00,-2.00zM530.4,452.0l2.00,2.00l-2.00,2.00l-2.00,-2.00zM537.5,443.8l2.00,2.00l-2.00,2.00l-2.00,-2.00zM569.4,417.0l2.00,2.00l-2.00,2.00l-2.00,-2.00zM528.8,444.6l2.00,2.00l-2.00,2.00l-2.00,-2.00zM512.2,466.7l2.00,2.00l-2.00,2.00l-2.00,-2.00zM558.0,417.0l2.00,2.00l-2.00,2.00l-2.00,-2.00zM561.4,414.9l2.00,2.00l-2.00,2.00l-2.00,-2.00zM519.2,470.7l2.00,2.00l-2.00,2.00l-2.00,-2.00zM530.1,433.2l2.00,2.00l-2.00,2.00l-2.00,-2.00zM570.0,413.6l2.00,2.00l-2.00,2.00l-2.00,-2.00zM546.5,424.6l2.00,2.00l-2.00,2.00l-2.00,-2.00zM567.9,423.5l2.00,2.00l-2.00,2.00l-2.00,-2.00zM538.1,431.9l2.00,2.00l-2.00,2.00l-2.00,-2.00zM525.4,440.9l2.00,2.00l-2.00,2.00l-2.00,-2.00zM527.3,439.7l2.00,2.00l-2.00,2.00l-2.00,-2.00zM537.7,440.8l2.00,2.00l-2.00,2.00l-2.00,-2.00zM542.6,422.6l2.00,2.00l-2.00,2.00l-2.00,-2.00zM471.1,472.6l2.00,2.00l-2.00,2.00l-2.00,-2.00zM495.3,465.3l2.00,2.00l-2.00,2.00l-2.00,-2.00zM541.0,429.0l2.00,2.00l-2.00,2.00l-2.00,-2.00zM560.5,421.4l2.00,2.00l-2.00,2.00l-2.00,-2.00zM524.9,441.2l2.00,2.00l-2.00,2.00l-2.00,-2.00zM540.1,427.6l2.00,2.00l-2.00,2.00l-2.00,-2.00zM517.3,452.0l2.00,2.00l-2.00,2.00l-2.00,-2.00zM510.5,458.2l2.00,2.00l-2.00,2.00l-2.00,-2.00zM550.1,433.1l2.00,2.00l-2.00,2.00l-2.00,-2.00zM540.9,432.4l2.00,2.00l-2.00,2.00l-2.00,-2.00zM523.0,430.8l2.00,2.00l-2.00,2.00l-2.00,-2.00zM510.7,454.3l2.00,2.00l-2.00,2.00l-2.00,-2.00zM544.1,429.6l2.00,2.00l-2.00,2.00l-2.00,-2.00zM540.4,431.5l2.00,2.00l-2.00,2.00l-2.00,-2.00zM538.2,438.2l2.00,2.00l-2.00,2.00l-2.00,-2.00zM538.3,431.6l2.00,2.00l-2.00,2.00l-2.00,-2.00zM537.7,443.3l2.00,2.00l-2.00,2.00l-2.00,-2.00zM553.7,419.9l2.00,2.00l-2.00,2.00l-2.00,-2.00zM557.2,430.9l2.00,2.00l-2.00,2.00l-2.00,-2.00zM580.9,392.9l2.00,2.00l-2.00,2.00l-2.00,-2.00zM567.0,393.4l2.00,2.00l-2.00,2.00l-2.00,-2.00zM537.3,426.9l2.00,2.00l-2.00,2.00l-2.00,-2.00zM523.3,468.0l2.00,2.00l-2.00,2.00l-2.00,-2.00zM556.2,418.3l2.00,2.00l-2.00,2.00l-2.00,-2.00zM527.0,441.5l2.00,2.00l-2.00,2.00l-2.00,-2.00zM579.6,404.9l2.00,2.00l-2.00,2.00l-2.00,-2.00zM504.4,456.1l2.00,2.00l-2.00,2.00l-2.00,-2.00zM532.5,440.4l2.00,2.00l-2.00,2.00l-2.00,-2.00zM579.3,404.0l2.00,2.00l-2.00,2.00l-2.00,-2.00zM549.8,441.8l2.00,2.00l-2.00,2.00l-2.00,-2.00zM563.9,424.3l2.00,2.00l-2.00,2.00l-2.00,-2.00zM558.7,420.8l2.00,2.00l-2.00,2.00l-2.00,-2.00zM532.6,443.9l2.00,2.00l-2.00,2.00l-2.00,-2.00zM564.3,419.3l2.00,2.00l-2.00,2.00l-2.00,-2.00zM516.6,441.7l2.00,2.00l-2.00,2.00l-2.00,-2.00zM538.2,443.1l2.00,2.00l-2.00,2.00l-2.00,-2.00zM590.3,389.8l2.00,2.00l-2.00,2.00l-2.00,-2.00zM540.3,438.9l2.00,2.00l-2.00,2.00l-2.00,-2.00zM551.1,425.6l2.00,2.00l-2.00,2.00l-2.00,-2.00zM519.3,455.6l2.00,2.00l-2.00,2.00l-2.00,-2.00zM579.4,414.5l2.00,2.00l-2.00,2.00l-2.00,-2.00zM521.7,451.3l2.00,2.00l-2.00,2.00l-2.00,-2.00zM521.9,442.6l2.00,2.00l-2.00,2.00l-2.00,-2.00zM525.8,440.9l2.00,2.00l-2.00,2.00l-2.00,-2.00zM521.0,451.7l2.00,2.00l-2.00,2.00l-2.00,-2.00zM505.7,455.3l2.00,2.00l-2.00,2.00l-2.00,-2.00zM533.0,435.0l2.00,2.00l-2.00,2.00l-2.00,-2.00zM529.3,439.9l2.00,2.00l-2.00,2.00l-2.00,-2.00zM537.6,431.8l2.00,2.00l-2.00,2.00l-2.00,-2.00zM519.7,452.3l2.00,2.00l-2.00,2.00l-2.00,-2.00zM517.9,445.9l2.00,2.00l-2.00,2.00l-2.00,-2.00zM534.0,438.1l2.00,2.00l-2.00,2.00l-2.00,-2.00zM538.4,428.2l2.00,2.00l-2.00,2.00l-2.00,-2.00zM512.2,439.8l2.00,2.00l-2.00,2.00l-2.00,-2.00zM543.4,436.6l2.00,2.00l-2.00,2.00l-2.00,-2.00zM539.3,441.2l2.00,2.00l-2.00,2.00l-2.00,-2.00zM564.6,410.3l2.00,2.00l-2.00,2.00l-2.00,-2.00zM559.5,424.6l2.00,2.00l-2.00,2.00l-2.00,-2.00zM554.4,424.5l2.00,2.00l-2.00,2.00l-2.00,-2.00zM560.9,407.8l2.00,2.00l-2.00,2.00l-2.00,-2.00zM530.5,449.5l2.00,2.00l-2.00,2.00l-2.00,-2.00zM566.0,397.3l2.00,2.00l-2.00,2.00l-2.00,-2.00zM545.3,428.4l2.00,2.00l-2.00,2.00l-2.00,-2.00zM532.1,444.6l2.00,2.00l-2.00,2.00l-2.00,-2.00zM546.6,419.1l2.00,2.00l-2.00,2.00l-2.00,-2.00zM521.6,459.6l2.00,2.00l-2.00,2.00l-2.00,-2.00zM581.5,396.9l2.00,2.00l-2.00,2.00l-2.00,-2.00zM552.1,433.8l2.00,2.00l-2.00,2.00l-2.00,-2.00zM504.5,458.1l2.00,2.00l-2.00,2.00l-2.00,-2.00zM516.8,455.9l2.00,2.00l-2.00,2.00l-2.00,-2.00zM528.7,441.0l2.00,2.00l-2.00,2.00l-2.00,-2.00zM536.9,454.3l2.00,2.00l-2.00,2.00l-2.00,-2.00zM553.6,426.0l2.00,2.00l-2.00,2.00l-2.00,-2.00zM566.3,421.4l2.00,2.00l-2.00,2.00l-2.00,-2.00zM568.4,417.4l2.00,2.00l-2.00,2.00l-2.00,-2.00zM554.9,423.3l2.00,2.00l-2.00,2.00l-2.00,-2.00zM517.8,447.8l2.00,2.00l-2.00,2.00l-2.00,-2.00zM569.6,414.0l2.00,2.00l-2.00,2.00l-2.00,-2.00zM574.5,415.1l2.00,2.00l-2.00,2.00l-2.00,-2.00zM498.1,472.0l2.00,2.00l-2.00,2.00l-2.00,-2.00zM529.6,445.3l2.00,2.00l-2.00,2.00l-2.00,-2.00zM532.2,438.0l2.00,2.00l-2.00,2.00l-2.00,-2.00zM525.2,450.0l2.00,2.00l-2.00,2.00l-2.00,-2.00zM562.3,408.4l2.00,2.00l-2.00,2.00l-2.00,-2.00zM552.1,423.9l2.00,2.00l-2.00,2.00l-2.00,-2.00zM534.7,420.8l2.00,2.00l-2.00,2.00l-2.00,-2.00zM509.2,451.0l2.00,2.00l-2.00,2.00l-2.00,-2.00zM491.2,468.8l2.00,2.00l-2.00,2.00l-2.00,-2.00zM513.3,442.1l2.00,2.00l-2.00,2.00l-2.00,-2.00zM516.7,441.6l2.00,2.00l-2.00,2.00l-2.00,-2.00zM523.0,453.6l2.00,2.00l-2.00,2.00l-2.00,-2.00zM492.1,473.5l2.00,2.00l-2.00,2.00l-2.00,-2.00zM508.4,465.9l2.00,2.00l-2.00,2.00l-2.00,-2.00zM535.1,446.4l2.00,2.00l-2.00,2.00l-2.00,-2.00zM551.5,429.9l2.00,2.00l-2.00,2.00l-2.00,-2.00zM531.3,446.4l2.00,2.00l-2.00,2.00l-2.00,-2.00zM536.4,438.5l2.00,2.00l-2.00,2.00l-2.00,-2.00zM544.0,440.7l2.00,2.00l-2.00,2.00l-2.00,-2.00zM533.3,426.3l2.00,2.00l-2.00,2.00l-2.00,-2.00zM569.0,410.2l2.00,2.00l-2.00,2.00l-2.00,-2.00zM525.6,452.6l2.00,2.00l-2.00,2.00l-2.00,-2.00zM549.0,433.5l2.00,2.00l-2.00,2.00l-2.00,-2.00zM509.3,457.2l2.00,2.00l-2.00,2.00l-2.00,-2.00zM567.9,409.9l2.00,2.00l-2.00,2.00l-2.00,-2.00zM561.6,423.9l2.00,2.00l-2.00,2.00l-2.00,-2.00zM564.0,414.1l2.00,2.00l-2.00,2.00l-2.00,-2.00zM539.2,425.1l2.00,2.00l-2.00,2.00l-2.00,-2.00zM542.4,441.0l2.00,2.00l-2.00,2.00l-2.00,-2.00zM508.6,454.1l2.00,2.00l-2.00,2.00l-2.00,-2.00zM549.1,428.1l2.00,2.00l-2.00,2.00l-2.00,-2.00zM567.4,399.9l2.00,2.00l-2.00,2.00l-2.00,-2.00zM464.4,470.0l2.00,2.00l-2.00,2.00l-2.00,-2.00zM584.8,403.4l2.00,2.00l-2.00,2.00l-2.00,-2.00zM527.6,456.2l2.00,2.00l-2.00,2.00l-2.00,-2.00zM543.6,412.5l2.00,2.00l-2.00,2.00l-2.00,-2.00zM519.3,445.0l2.00,2.00l-2.00,2.00l-2.00,-2.00zM539.4,438.5l2.00,2.00l-2.00,2.00l-2.00,-2.00zM561.4,418.9l2.00,2.00l-2.00,2.00l-2.00,-2.00zM536.8,436.5l2.00,2.00l-2.00,2.00l-2.00,-2.00zM584.4,399.8l2.00,2.00l-2.00,2.00l-2.00,-2.00zM538.2,427.1l2.00,2.00l-2.00,2.00l-2.00,-2.00zM560.9,426.6l2.00,2.00l-2.00,2.00l-2.00,-2.00zM529.8,448.9l2.00,2.00l-2.00,2.00l-2.00,-2.00zM530.3,443.7l2.00,2.00l-2.00,2.00l-2.00,-2.00zM522.5,428.2l2.00,2.00l-2.00,2.00l-2.00,-2.00zM559.6,432.2l2.00,2.00l-2.00,2.00l-2.00,-2.00zM580.9,402.2l2.00,2.00l-2.00,2.00l-2.00,-2.00zM543.9,434.8l2.00,2.00l-2.00,2.00l-2.00,-2.00zM517.4,465.9l2.00,2.00l-2.00,2.00l-2.00,-2.00zM531.3,450.6l2.00,2.00l-2.00,2.00l-2.00,-2.00zM507.6,457.2l2.00,2.00l-2.00,2.00l-2.00,-2.00zM556.9,429.4l2.00,2.00l-2.00,2.00l-2.00,-2.00zM544.0,435.3l2.00,2.00l-2.00,2.00l-2.00,-2.00zM512.9,449.3l2.00,2.00l-2.00,2.00l-2.00,-2.00zM532.9,440.0l2.00,2.00l-2.00,2.00l-2.00,-2.00zM556.9,406.6l2.00,2.00l-2.00,2.00l-2.00,-2.00zM546.1,416.3l2.00,2.00l-2.00,2.00l-2.00,-2.00zM528.0,444.1l2.00,2.00l-2.00,2.00l-2.00,-2.00zM564.7,426.3l2.00,2.00l-2.00,2.00l-2.00,-2.00zM546.8,420.6l2.00,2.00l-2.00,2.00l-2.00,-2.00zM532.5,448.9l2.00,2.00l-2.00,2.00l-2.00,-2.00zM546.1,430.1l2.00,2.00l-2.00,2.00l-2.00,-2.00zM593.2,407.9l2.00,2.00l-2.00,2.00l-2.00,-2.00zM513.1,450.9l2.00,2.00l-2.00,2.00l-2.00,-2.00zM577.1,429.3l2.00,2.00l-2.00,2.00l-2.00,-2.00zM539.5,437.6l2.00,2.00l-2.00,2.00l-2.00,-2.00zM555.5,420.0l2.00,2.00l-2.00,2.00l-2.00,-2.00zM551.7,426.8l2.00,2.00l-2.00,2.00l-2.00,-2.00zM540.8,418.3l2.00,2.00l-2.00,2.00l-2.00,-2.00zM538.7,437.3l2.00,2.00l-2.00,2.00l-2.00,-2.00zM540.0,431.1l2.00,2.00l-2.00,2.00l-2.00,-2.00zM559.4,423.0l2.00,2.00l-2.00,2.00l-2.00,-2.00zM550.9,422.7l2.00,2.00l-2.00,2.00l-2.00,-2.00zM495.4,445.4l2.00,2.00l-2.00,2.00l-2.00,-2.00zM542.1,411.1l2.00,2.00l-2.00,2.00l-2.00,-2.00zM570.2,405.5l2.00,2.00l-2.00,2.00l-2.00,-2.00zM557.8,409.9l2.00,2.00l-2.00,2.00l-2.00,-2.00zM549.6,433.4l2.00,2.00l-2.00,2.00l-2.00,-2.00zM492.9,460.3l2.00,2.00l-2.00,2.00l-2.00,-2.00zM557.1,424.2l2.00,2.00l-2.00,2.00l-2.00,-2.00zM556.4,419.8l2.00,2.00l-2.00,2.00l-2.00,-2.00zM582.4,414.0l2.00,2.00l-2.00,2.00l-2.00,-2.00zM518.4,450.5l2.00,2.00l-2.00,2.00l-2.00,-2.00zM536.2,437.9l2.00,2.00l-2.00,2.00l-2.00,-2.00zM524.3,437.1l2.00,2.00l-2.00,2.00l-2.00,-2.00zM536.0,439.5l2.00,2.00l-2.00,2.00l-2.00,-2.00zM501.9,467.5l2.00,2.00l-2.00,2.00l-2.00,-2.00zM529.2,440.6l2.00,2.00l-2.00,2.00l-2.00,-2.00zM533.3,444.2l2.00,2.00l-2.00,2.00l-2.00,-2.00zM527.8,434.2l2.00,2.00l-2.00,2.00l-2.00,-2.00zM578.6,402.6l2.00,2.00l-2.00,2.00l-2.00,-2.00zM557.4,420.7l2.00,2.00l-2.00,2.00l-2.00,-2.00zM539.8,438.3l2.00,2.00l-2.00,2.00l-2.00,-2.00zM584.9,410.9l2.00,2.00l-2.00,2.00l-2.00,-2.00zM565.3,417.9l2.00,2.00l-2.00,2.00l-2.00,-2.00zM529.1,441.2l2.00,2.00l-2.00,2.00l-2.00,-2.00zM512.6,436.6l2.00,2.00l-2.00,2.00l-2.00,-2.00zM548.4,432.6l2.00,2.00l-2.00,2.00l-2.00,-2.00zM528.5,446.8l2.00,2.00l-2.00,2.00l-2.00,-2.00zM536.2,438.2l2.00,2.00l-2.00,2.00l-2.00,-2.00zM515.2,451.5l2.00,2.00l-2.00,2.00l-2.00,-2.00zM568.1,414.1l2.00,2.00l-2.00,2.00l-2.00,-2.00zM555.4,431.6l2.00,2.00l-2.00,2.00l-2.00,-2.00zM552.7,420.4l2.00,2.00l-2.00,2.00l-2.00,-2.00zM563.1,404.6l2.00,2.00l-2.00,2.00l-2.00,-2.00zM487.1,480.7l2.00,2.00l-2.00,2.00l-2.00,-2.00zM545.4,425.7l2.00,2.00l-2.00,2.00l-2.00,-2.00zM538.1,431.9l2.00,2.00l-2.00,2.00l-2.00,-2.00zM567.0,418.0l2.00,2.00l-2.00,2.00l-2.00,-2.00zM558.9,417.1l2.00,2.00l-2.00,2.00l-2.00,-2.00zM560.3,417.9l2.00,2.00l-2.00,2.00l-2.00,-2.00zM576.7,395.6l2.00,2.00l-2.00,2.00l-2.00,-2.00zM500.7,474.8l2.00,2.00l-2.00,2.00l-2.00,-2.00zM510.5,441.5l2.00,2.00l-2.00,2.00l-2.00,-2.00zM585.9,413.0l2.00,2.00l-2.00,2.00l-2.00,-2.00zM580.0,391.7l2.00,2.00l-2.00,2.00l-2.00,-2.00zM520.3,440.5l2.00,2.00l-2.00,2.00l-2.00,-2.00zM575.1,403.6l2.00,2.00l-2.00,2.00l-2.00,-2.00zM574.4,417.0l2.00,2.00l-2.00,2.00l-2.00,-2.00zM509.4,457.5l2.00,2.00l-2.00,2.00l-2.00,-2.00zM527.3,437.9l2.00,2.00l-2.00,2.00l-2.00,-2.00zM549.6,414.0l2.00,2.00l-2.00,2.00l-2.00,-2.00zM548.9,436.7l2.00,2.00l-2.00,2.00l-2.00,-2.00zM596.0,392.9l2.00,2.00l-2.00,2.00l-2.00,-2.00zM564.8,419.4l2.00,2.00l-2.00,2.00l-2.00,-2.00zM570.1,409.6l2.00,2.00l-2.00,2.00l-2.00,-2.00zM525.7,438.7l2.00,2.00l-2.00,2.00l-2.00,-2.00zM515.4,457.7l2.00,2.00l-2.00,2.00l-2.00,-2.00zM530.7,442.9l2.00,2.00l-2.00,2.00l-2.00,-2.00zM590.4,408.0l2.00,2.00l-2.00,2.00l-2.00,-2.00zM598.1,393.0l2.00,2.00l-2.00,2.00l-2.00,-2.00zM517.1,435.9l2.00,2.00l-2.00,2.00l-2.00,-2.00zM545.9,436.6l2.00,2.00l-2.00,2.00l-2.00,-2.00zM477.7,479.0l2.00,2.00l-2.00,2.00l-2.00,-2.00zM580.6,401.5l2.00,2.00l-2.00,2.00l-2.00,-2.00zM496.8,434.0l2.00,2.00l-2.00,2.00l-2.00,-2.00zM566.7,405.3l2.00,2.00l-2.00,2.00l-2.00,-2.00zM582.4,404.2l2.00,2.00l-2.00,2.00l-2.00,-2.00zM506.4,451.5l2.00,2.00l-2.00,2.00l-2.00,-2.00zM523.2,448.0l2.00,2.00l-2.00,2.00l-2.00,-2.00zM568.7,418.3l2.00,2.00l-2.00,2.00l-2.00,-2.00zM583.7,401.4l2.00,2.00l-2.00,2.00l-2.00,-2.00zM527.2,433.3l2.00,2.00l-2.00,2.00l-2.00,-2.00zM519.3,452.6l2.00,2.00l-2.00,2.00l-2.00,-2.00zM557.3,424.3l2.00,2.00l-2.00,2.00l-2.00,-2.00zM579.8,401.9l2.00,2.00l-2.00,2.00l-2.00,-2.00zM506.6,438.8l2.00,2.00l-2.00,2.00l-2.00,-2.00zM518.5,436.7l2.00,2.00l-2.00,2.00l-2.00,-2.00zM581.8,410.8l2.00,2.00l-2.00,2.00l-2.00,-2.00zM550.3,423.2l2.00,2.00l-2.00,2.00l-2.00,-2.00zM514.8,433.8l2.00,2.00l-2.00,2.00l-2.00,-2.00zM621.4,357.1l2.00,2.00l-2.00,2.00l-2.00,-2.00zM642.3,382.4l2.00,2.00l-2.00,2.00l-2.00,-2.00zM622.5,382.4l2.00,2.00l-2.00,2.00l-2.00,-2.00zM599.8,377.8l2.00,2.00l-2.00,2.00l-2.00,-2.00zM607.3,385.4l2.00,2.00l-2.00,2.00l-2.00,-2.00zM603.5,391.1l2.00,2.00l-2.00,2.00l-2.00,-2.00zM596.0,393.0l2.00,2.00l-2.00,2.00l-2.00,-2.00zM588.4,389.2l2.00,2.00l-2.00,2.00l-2.00,-2.00zM605.4,406.3l2.00,2.00l-2.00,2.00l-2.00,-2.00zM592.2,410.1l2.00,2.00l-2.00,2.00l-2.00,-2.00zM586.5,415.8l2.00,2.00l-2.00,2.00l-2.00,-2.00zM563.7,397.6l2.00,2.00l-2.00,2.00l-2.00,-2.00zM544.7,410.1l2.00,2.00l-2.00,2.00l-2.00,-2.00zM451.7,487.9l2.00,2.00l-2.00,2.00l-2.00,-2.00zM458.6,487.9l2.00,2.00l-2.00,2.00l-2.00,-2.00zM455.5,491.7l2.00,2.00l-2.00,2.00l-2.00,-2.00zM485.9,505.0l2.00,2.00l-2.00,2.00l-2.00,-2.00zM457.4,518.3l2.00,2.00l-2.00,2.00l-2.00,-2.00zM438.5,513.3l2.00,2.00l-2.00,2.00l-2.00,-2.00zM416.4,523.6l2.00,2.00l-2.00,2.00l-2.00,-2.00zM470.7,486.0l2.00,2.00l-2.00,2.00l-2.00,-2.00zM484.0,481.5l2.00,2.00l-2.00,2.00l-2.00,-2.00zM504.9,480.3l2.00,2.00l-2.00,2.00l-2.00,-2.00zM512.5,482.2l2.00,2.00l-2.00,2.00l-2.00,-2.00zM535.2,459.4l2.00,2.00l-2.00,2.00l-2.00,-2.00zM527.6,467.0l2.00,2.00l-2.00,2.00l-2.00,-2.00z" fill="#000"/>
<line x1="143.0" y1="37.6" x2="143.0" y2="251.1" stroke="#a800c0" stroke-width="2.4" stroke-dasharray="6.3 9.9" stroke-dashoffset="0.0"/>
<line x1="52.2" y1="178.8" x2="319.4" y2="178.8" stroke="#a800c0" stroke-width="2.4" stroke-dasharray="6.3 9.9" stroke-dashoffset="0.0"/>
<path d="M52.2,251.1V37.6H324.4" fill="none" stroke="#000" stroke-width="2.5"/>
<line x1="489.9" y1="37.6" x2="489.9" y2="247.5" stroke="#a800c0" stroke-width="2.4" stroke-dasharray="6.3 9.9" stroke-dashoffset="-1.0"/>
<line x1="399.1" y1="180.0" x2="666.8" y2="180.0" stroke="#a800c0" stroke-width="2.4" stroke-dasharray="6.3 9.9" stroke-dashoffset="1.3"/>
<path d="M399.1,250.7V37.6H671.8" fill="none" stroke="#000" stroke-width="2.5"/>
<line x1="187.7" y1="331.5" x2="187.7" y2="535" stroke="#a800c0" stroke-width="2.4" stroke-dasharray="6.3 9.9" stroke-dashoffset="-1.0"/>
<line x1="52.2" y1="437.7" x2="318.4" y2="437.7" stroke="#a800c0" stroke-width="2.4" stroke-dasharray="6.3 9.9" stroke-dashoffset="0.0"/>
<path d="M52.2,544.4V331.5H323.4" fill="none" stroke="#000" stroke-width="2.5"/>
<line x1="532.5" y1="331.5" x2="532.5" y2="535.5" stroke="#a800c0" stroke-width="2.4" stroke-dasharray="6.3 9.9" stroke-dashoffset="-1.5"/>
<line x1="399.1" y1="436.9" x2="664.4" y2="436.9" stroke="#a800c0" stroke-width="2.4" stroke-dasharray="6.3 9.9" stroke-dashoffset="1.0"/>
<path d="M399.1,544.8V331.5H669.4" fill="none" stroke="#000" stroke-width="2.5"/>
<rect x="56.9" y="47.099999999999994" width="10.6" height="2.4" fill="#000"/>
<rect x="55.800000000000004" y="341.6" width="10.6" height="2.4" fill="#000"/>
<line x1="270.7" y1="54.8" x2="286.3" y2="61" stroke="#000" stroke-width="2.3"/>
<line x1="210.9" y1="91.7" x2="228.5" y2="103" stroke="#000" stroke-width="2.3"/>
<line x1="306.7" y1="72.9" x2="306.7" y2="88.4" stroke="#000" stroke-width="2.3"/>
<line x1="435.6" y1="211.6" x2="445.3" y2="213.6" stroke="#000" stroke-width="2.3"/>
<line x1="431.5" y1="229.1" x2="435" y2="235" stroke="#000" stroke-width="2.3"/>
<line x1="438.8" y1="228.2" x2="442.9" y2="235.5" stroke="#000" stroke-width="2.3"/>
<line x1="602.6" y1="348.9" x2="618.6" y2="357.4" stroke="#000" stroke-width="2.3"/>
<line x1="588.8" y1="375.2" x2="588.8" y2="385" stroke="#000" stroke-width="2.3"/>
<line x1="418.7" y1="501.8" x2="416.2" y2="522.8" stroke="#000" stroke-width="2.3"/>
<defs><filter id="idf" x="0" y="0" width="100%" height="100%" filterUnits="userSpaceOnUse" color-interpolation-filters="sRGB"><feOffset dx="0" dy="0"/></filter></defs><g filter="url(#idf)">
<text x="50.3" y="273.1" text-anchor="middle" class="tk">0.1</text>
<text x="143.0" y="273.1" text-anchor="middle" class="tk">1</text>
<text x="233.4" y="273.1" text-anchor="middle" class="tk">10</text>
<text x="324.2" y="273.1" text-anchor="middle" class="tk">100</text>
<text x="41.9" y="41.5" text-anchor="end" class="tk">100</text>
<text x="41.9" y="111.8" text-anchor="end" class="tk">10</text>
<text x="41.1" y="182.5" text-anchor="end" class="tk">1</text>
<text x="41.1" y="255.0" text-anchor="end" class="tk">0.1</text>
<text x="397.2" y="272.7" text-anchor="middle" class="tk">0.1</text>
<text x="490.0" y="272.7" text-anchor="middle" class="tk">1</text>
<text x="580.5" y="272.7" text-anchor="middle" class="tk">10</text>
<text x="671.6" y="272.7" text-anchor="middle" class="tk">100</text>
<text x="386.4" y="41.0" text-anchor="end" class="tk">100</text>
<text x="386.4" y="111.3" text-anchor="end" class="tk">10</text>
<text x="385.6" y="183.4" text-anchor="end" class="tk">1</text>
<text x="385.6" y="254.1" text-anchor="end" class="tk">0.1</text>
<text x="50.3" y="569.8" text-anchor="middle" class="tk">0.1</text>
<text x="187.8" y="569.8" text-anchor="middle" class="tk">1</text>
<text x="323.1" y="569.8" text-anchor="middle" class="tk">10</text>
<text x="39.4" y="335.4" text-anchor="end" class="tk">10</text>
<text x="38.6" y="441.7" text-anchor="end" class="tk">1</text>
<text x="38.6" y="548.3" text-anchor="end" class="tk">0.1</text>
<text x="397.2" y="570.4" text-anchor="middle" class="tk">0.1</text>
<text x="532.8" y="570.4" text-anchor="middle" class="tk">1</text>
<text x="669.1" y="570.4" text-anchor="middle" class="tk">10</text>
<text x="386.8" y="334.2" text-anchor="end" class="tk">10</text>
<text x="386.0" y="439.7" text-anchor="end" class="tk">1</text>
<text x="386.0" y="547.5" text-anchor="end" class="tk">0.1</text>
<text x="64.3" y="295.8" class="ax">Log<tspan class="sub" dx="2.0" dy="4.8">10</tspan><tspan dx="4.8" dy="-4.8">fold over median (0.1 <tspan class="mu">µ</tspan>g cDNA)</tspan></text>
<text x="414.3" y="296.2" class="ax">Log<tspan class="sub" dx="2.0" dy="4.8">10</tspan><tspan dx="4.8" dy="-4.8">fold over median (0.1 <tspan class="mu">µ</tspan>g cDNA)</tspan></text>
<text x="86.6" y="592" class="ax">Log<tspan class="sub" dx="2.0" dy="4.8">10</tspan><tspan dx="4.8" dy="-4.8">fold over median (Run 1)</tspan></text>
<text x="432.7" y="592" class="ax">Log<tspan class="sub" dx="2.0" dy="4.8">10</tspan><tspan dx="4.8" dy="-4.8">fold over median (Run 1)</tspan></text>
<text transform="translate(11.4,273.5) rotate(-90)" class="ax">Log<tspan class="sub" dx="2.0" dy="4.8">10</tspan><tspan dx="4.8" dy="-4.8">fold over median (0.05 <tspan class="mu">µ</tspan>g cDNA)</tspan></text>
<text transform="translate(357.2,275.6) rotate(-90)" class="ax" style="word-spacing:0.75px">Log<tspan class="sub" dx="2.0" dy="4.8">10</tspan><tspan dx="4.8" dy="-4.8">fold over median (0.05 <tspan class="mu">µ</tspan>g cDNA)</tspan></text>
<text transform="translate(11.4,538.5) rotate(-90)" class="ax">Log<tspan class="sub" dx="2.0" dy="4.8">10</tspan><tspan dx="4.8" dy="-4.8">fold over median (Run 2)</tspan></text>
<text transform="translate(359.9,538.9) rotate(-90)" class="ax">Log<tspan class="sub" dx="2.0" dy="4.8">10</tspan><tspan dx="4.8" dy="-4.8">fold over median (Run 2)</tspan></text>
<text x="1.6" y="15.8" class="pl">A</text>
<text x="1.9" y="329.3" class="pl" textLength="13.6" lengthAdjust="spacingAndGlyphs">B</text>
<text x="69.6" y="52.5" class="ttl">Wnt3A</text>
<text x="407.4" y="52.7" class="ttl">+<tspan dx="1.4">Wnt3A</tspan></text>
<text x="68.5" y="347.0" class="ttl">Wnt3A</text>
<text x="406.6" y="347.1" class="ttl">+<tspan dx="1.4">Wnt3A</tspan></text>
<text x="239.8" y="56.5" class="gn" text-anchor="start">LEF1</text>
<text x="182" y="91.8" class="gn" text-anchor="start">DVL1</text>
<text x="277.6" y="103.8" class="gn" text-anchor="start">CTNNB1</text>
<text x="399.6" y="212.8" class="gn" text-anchor="start">GSK3B</text>
<text x="428" y="246.4" class="gn" text-anchor="start">AXIN2</text>
<text x="569.0" y="348.9" class="gn" text-anchor="start">AXIN1</text>
<text x="572.0" y="370.2" class="gn" text-anchor="start">SIAH1</text>
<text x="402" y="496.4" class="gn" text-anchor="start">CTNNB1</text>
</g>
</svg></body></html>
